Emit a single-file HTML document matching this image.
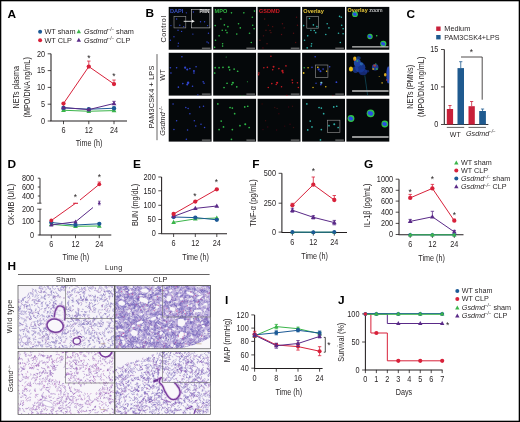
<!DOCTYPE html>
<html><head><meta charset="utf-8"><title>Figure</title>
<style>
html,body{margin:0;padding:0;background:#fff;}
body{width:520px;height:422px;overflow:hidden;}
svg{display:block;font-family:"Liberation Sans",sans-serif;}
</style></head><body>
<svg width="520" height="422" viewBox="0 0 520 422">
<defs>
<filter id="b1" x="-5%" y="-5%" width="110%" height="110%"><feGaussianBlur stdDeviation="0.35"/></filter>
<filter id="b2" x="-5%" y="-5%" width="110%" height="110%"><feGaussianBlur stdDeviation="0.45"/></filter>
<filter id="b4" x="-5%" y="-5%" width="110%" height="110%"><feGaussianBlur stdDeviation="0.7"/></filter>
<filter id="b3" x="-2%" y="-2%" width="104%" height="104%"><feGaussianBlur stdDeviation="0.3"/></filter>
</defs>
<g opacity="0.999">
<rect x="0.65" y="0.65" width="518.7" height="420.7" fill="#fff" stroke="#000" stroke-width="1.3"/>
<text transform="translate(7.50,17.50) scale(1.13,1)" font-size="10.5" text-anchor="start" font-weight="bold" font-style="normal" fill="#000" >A</text>
<text transform="translate(145.50,17.40) scale(1.13,1)" font-size="10.5" text-anchor="start" font-weight="bold" font-style="normal" fill="#000" >B</text>
<text transform="translate(406.50,17.50) scale(1.13,1)" font-size="10.5" text-anchor="start" font-weight="bold" font-style="normal" fill="#000" >C</text>
<text transform="translate(7.50,167.60) scale(1.13,1)" font-size="10.5" text-anchor="start" font-weight="bold" font-style="normal" fill="#000" >D</text>
<text transform="translate(133.00,167.60) scale(1.13,1)" font-size="10.5" text-anchor="start" font-weight="bold" font-style="normal" fill="#000" >E</text>
<text transform="translate(252.30,167.60) scale(1.13,1)" font-size="10.5" text-anchor="start" font-weight="bold" font-style="normal" fill="#000" >F</text>
<text transform="translate(364.00,167.80) scale(1.13,1)" font-size="10.5" text-anchor="start" font-weight="bold" font-style="normal" fill="#000" >G</text>
<text transform="translate(7.50,269.60) scale(1.13,1)" font-size="10.5" text-anchor="start" font-weight="bold" font-style="normal" fill="#000" >H</text>
<text transform="translate(225.00,303.60) scale(1.13,1)" font-size="10.5" text-anchor="start" font-weight="bold" font-style="normal" fill="#000" >I</text>
<text transform="translate(338.00,303.60) scale(1.13,1)" font-size="10.5" text-anchor="start" font-weight="bold" font-style="normal" fill="#000" >J</text>
<circle cx="40.10" cy="31.70" r="2.0" fill="#1c5a96"/>
<text transform="translate(44.40,34.20)" font-size="7.3" text-anchor="start" font-weight="normal" font-style="normal" fill="#231f20" >WT sham</text>
<polygon points="78.80,29.19 76.59,33.18 81.00,33.18" fill="#3bb54a"/>
<text transform="translate(84.00,34.00)" font-size="7.3" text-anchor="start" font-weight="normal" font-style="normal" fill="#231f20" ><tspan font-style="italic">Gsdmd</tspan><tspan font-style="italic" font-size="4.53" dy="-2.63">−/−</tspan><tspan dy="2.63"> sham</tspan></text>
<circle cx="40.10" cy="40.30" r="2.0" fill="#d8213a"/>
<text transform="translate(44.40,42.80)" font-size="7.3" text-anchor="start" font-weight="normal" font-style="normal" fill="#231f20" >WT CLP</text>
<polygon points="78.80,37.79 76.59,41.78 81.00,41.78" fill="#5a2a88"/>
<text transform="translate(84.00,42.60)" font-size="7.3" text-anchor="start" font-weight="normal" font-style="normal" fill="#231f20" ><tspan font-style="italic">Gsdmd</tspan><tspan font-style="italic" font-size="4.53" dy="-2.63">−/−</tspan><tspan dy="2.63"> CLP</tspan></text>
<line x1="51.00" y1="53.80" x2="51.00" y2="121.00" stroke="#231f20" stroke-width="1.05" />
<line x1="47.70" y1="53.80" x2="51.00" y2="53.80" stroke="#231f20" stroke-width="0.8" />
<text transform="translate(45.10,56.60) scale(0.87,1)" font-size="8.4" text-anchor="end" font-weight="normal" font-style="normal" fill="#231f20" >20</text>
<line x1="47.70" y1="70.60" x2="51.00" y2="70.60" stroke="#231f20" stroke-width="0.8" />
<text transform="translate(45.10,73.40) scale(0.87,1)" font-size="8.4" text-anchor="end" font-weight="normal" font-style="normal" fill="#231f20" >15</text>
<line x1="47.70" y1="87.40" x2="51.00" y2="87.40" stroke="#231f20" stroke-width="0.8" />
<text transform="translate(45.10,90.20) scale(0.87,1)" font-size="8.4" text-anchor="end" font-weight="normal" font-style="normal" fill="#231f20" >10</text>
<line x1="47.70" y1="104.20" x2="51.00" y2="104.20" stroke="#231f20" stroke-width="0.8" />
<text transform="translate(45.10,107.00) scale(0.87,1)" font-size="8.4" text-anchor="end" font-weight="normal" font-style="normal" fill="#231f20" >5</text>
<line x1="47.70" y1="121.00" x2="51.00" y2="121.00" stroke="#231f20" stroke-width="0.8" />
<text transform="translate(45.10,123.80) scale(0.87,1)" font-size="8.4" text-anchor="end" font-weight="normal" font-style="normal" fill="#231f20" >0</text>
<line x1="50.50" y1="121.00" x2="127.00" y2="121.00" stroke="#231f20" stroke-width="1.05" />
<line x1="63.50" y1="121.00" x2="63.50" y2="124.20" stroke="#231f20" stroke-width="0.8" />
<text transform="translate(63.50,133.00) scale(0.87,1)" font-size="8.4" text-anchor="middle" font-weight="normal" font-style="normal" fill="#231f20" >6</text>
<line x1="88.80" y1="121.00" x2="88.80" y2="124.20" stroke="#231f20" stroke-width="0.8" />
<text transform="translate(88.80,133.00) scale(0.87,1)" font-size="8.4" text-anchor="middle" font-weight="normal" font-style="normal" fill="#231f20" >12</text>
<line x1="114.00" y1="121.00" x2="114.00" y2="124.20" stroke="#231f20" stroke-width="0.8" />
<text transform="translate(114.00,133.00) scale(0.87,1)" font-size="8.4" text-anchor="middle" font-weight="normal" font-style="normal" fill="#231f20" >24</text>
<text transform="translate(89.00,146.40) scale(0.86,1)" font-size="8.4" text-anchor="middle" font-weight="normal" font-style="normal" fill="#231f20" >Time (h)</text>
<text transform="translate(18.60,87.30) rotate(-90) scale(0.86,1)" font-size="8.4" text-anchor="middle" font-weight="normal" font-style="normal" fill="#231f20" >NETs plasma</text>
<text transform="translate(29.90,87.30) rotate(-90) scale(0.86,1)" font-size="8.4" text-anchor="middle" font-weight="normal" font-style="normal" fill="#231f20" >(MPO/DNA ng/mL)</text>
<polyline points="63.50,110.25 88.80,111.26 114.00,110.58" fill="none" stroke="#3bb54a" stroke-width="1.0" stroke-linejoin="round"/>
<line x1="63.50" y1="110.25" x2="63.50" y2="109.45" stroke="#3bb54a" stroke-width="0.8" />
<line x1="61.80" y1="109.45" x2="65.20" y2="109.45" stroke="#3bb54a" stroke-width="0.8" />
<line x1="63.50" y1="110.25" x2="63.50" y2="111.05" stroke="#3bb54a" stroke-width="0.8" />
<line x1="61.80" y1="111.05" x2="65.20" y2="111.05" stroke="#3bb54a" stroke-width="0.8" />
<polygon points="63.50,107.65 61.13,111.94 65.87,111.94" fill="#3bb54a"/>
<line x1="88.80" y1="111.26" x2="88.80" y2="110.46" stroke="#3bb54a" stroke-width="0.8" />
<line x1="87.10" y1="110.46" x2="90.50" y2="110.46" stroke="#3bb54a" stroke-width="0.8" />
<line x1="88.80" y1="111.26" x2="88.80" y2="112.06" stroke="#3bb54a" stroke-width="0.8" />
<line x1="87.10" y1="112.06" x2="90.50" y2="112.06" stroke="#3bb54a" stroke-width="0.8" />
<polygon points="88.80,108.66 86.43,112.95 91.17,112.95" fill="#3bb54a"/>
<line x1="114.00" y1="110.58" x2="114.00" y2="109.78" stroke="#3bb54a" stroke-width="0.8" />
<line x1="112.30" y1="109.78" x2="115.70" y2="109.78" stroke="#3bb54a" stroke-width="0.8" />
<line x1="114.00" y1="110.58" x2="114.00" y2="111.38" stroke="#3bb54a" stroke-width="0.8" />
<line x1="112.30" y1="111.38" x2="115.70" y2="111.38" stroke="#3bb54a" stroke-width="0.8" />
<polygon points="114.00,107.99 111.63,112.28 116.37,112.28" fill="#3bb54a"/>
<polyline points="63.50,107.90 88.80,109.24 114.00,108.23" fill="none" stroke="#1c5a96" stroke-width="1.0" stroke-linejoin="round"/>
<line x1="63.50" y1="107.90" x2="63.50" y2="106.90" stroke="#1c5a96" stroke-width="0.8" />
<line x1="61.80" y1="106.90" x2="65.20" y2="106.90" stroke="#1c5a96" stroke-width="0.8" />
<line x1="63.50" y1="107.90" x2="63.50" y2="108.90" stroke="#1c5a96" stroke-width="0.8" />
<line x1="61.80" y1="108.90" x2="65.20" y2="108.90" stroke="#1c5a96" stroke-width="0.8" />
<circle cx="63.50" cy="107.90" r="2.15" fill="#1c5a96"/>
<line x1="88.80" y1="109.24" x2="88.80" y2="108.44" stroke="#1c5a96" stroke-width="0.8" />
<line x1="87.10" y1="108.44" x2="90.50" y2="108.44" stroke="#1c5a96" stroke-width="0.8" />
<line x1="88.80" y1="109.24" x2="88.80" y2="110.04" stroke="#1c5a96" stroke-width="0.8" />
<line x1="87.10" y1="110.04" x2="90.50" y2="110.04" stroke="#1c5a96" stroke-width="0.8" />
<circle cx="88.80" cy="109.24" r="2.15" fill="#1c5a96"/>
<line x1="114.00" y1="108.23" x2="114.00" y2="107.23" stroke="#1c5a96" stroke-width="0.8" />
<line x1="112.30" y1="107.23" x2="115.70" y2="107.23" stroke="#1c5a96" stroke-width="0.8" />
<line x1="114.00" y1="108.23" x2="114.00" y2="109.23" stroke="#1c5a96" stroke-width="0.8" />
<line x1="112.30" y1="109.23" x2="115.70" y2="109.23" stroke="#1c5a96" stroke-width="0.8" />
<circle cx="114.00" cy="108.23" r="2.15" fill="#1c5a96"/>
<polyline points="63.50,107.56 88.80,109.58 114.00,103.53" fill="none" stroke="#5a2a88" stroke-width="1.0" stroke-linejoin="round"/>
<polygon points="63.50,104.96 61.13,109.25 65.87,109.25" fill="#5a2a88"/>
<polygon points="88.80,106.98 86.43,111.27 91.17,111.27" fill="#5a2a88"/>
<line x1="114.00" y1="103.53" x2="114.00" y2="101.33" stroke="#5a2a88" stroke-width="0.8" />
<line x1="112.30" y1="101.33" x2="115.70" y2="101.33" stroke="#5a2a88" stroke-width="0.8" />
<polygon points="114.00,100.93 111.63,105.22 116.37,105.22" fill="#5a2a88"/>
<polyline points="63.50,103.53 88.80,66.57 114.00,84.04" fill="none" stroke="#d8213a" stroke-width="1.0" stroke-linejoin="round"/>
<circle cx="63.50" cy="103.53" r="2.15" fill="#d8213a"/>
<line x1="88.80" y1="66.57" x2="88.80" y2="61.07" stroke="#d8213a" stroke-width="0.8" />
<line x1="87.10" y1="61.07" x2="90.50" y2="61.07" stroke="#d8213a" stroke-width="0.8" />
<circle cx="88.80" cy="66.57" r="2.15" fill="#d8213a"/>
<line x1="114.00" y1="84.04" x2="114.00" y2="80.04" stroke="#d8213a" stroke-width="0.8" />
<line x1="112.30" y1="80.04" x2="115.70" y2="80.04" stroke="#d8213a" stroke-width="0.8" />
<circle cx="114.00" cy="84.04" r="2.15" fill="#d8213a"/>
<text transform="translate(88.80,61.00)" font-size="8.5" text-anchor="middle" font-weight="normal" font-style="normal" fill="#231f20" >*</text>
<text transform="translate(114.00,79.00)" font-size="8.5" text-anchor="middle" font-weight="normal" font-style="normal" fill="#231f20" >*</text>
<rect x="436.2" y="26.5" width="4.4" height="4.4" fill="#c8203a"/>
<rect x="436.2" y="35.0" width="4.4" height="4.4" fill="#1f5a8f"/>
<text transform="translate(444.30,31.00)" font-size="7.3" text-anchor="start" font-weight="normal" font-style="normal" fill="#231f20" >Medium</text>
<text transform="translate(444.30,39.60)" font-size="7.15" text-anchor="start" font-weight="normal" font-style="normal" fill="#231f20" >PAM3CSK4+LPS</text>
<line x1="444.30" y1="49.50" x2="444.30" y2="124.50" stroke="#231f20" stroke-width="1.05" />
<line x1="441.00" y1="49.50" x2="444.30" y2="49.50" stroke="#231f20" stroke-width="0.8" />
<text transform="translate(438.40,52.30) scale(0.87,1)" font-size="8.4" text-anchor="end" font-weight="normal" font-style="normal" fill="#231f20" >15</text>
<line x1="441.00" y1="86.90" x2="444.30" y2="86.90" stroke="#231f20" stroke-width="0.8" />
<text transform="translate(438.40,89.70) scale(0.87,1)" font-size="8.4" text-anchor="end" font-weight="normal" font-style="normal" fill="#231f20" >10</text>
<line x1="441.00" y1="124.50" x2="444.30" y2="124.50" stroke="#231f20" stroke-width="0.8" />
<text transform="translate(438.40,127.30) scale(0.87,1)" font-size="8.4" text-anchor="end" font-weight="normal" font-style="normal" fill="#231f20" >0</text>
<line x1="444.30" y1="124.50" x2="488.40" y2="124.50" stroke="#231f20" stroke-width="0.9" />
<rect x="446.8" y="109" width="6.30" height="15.50" fill="#c8203a"/>
<line x1="449.95" y1="109.00" x2="449.95" y2="105.50" stroke="#c8203a" stroke-width="0.8" />
<line x1="448.35" y1="105.50" x2="451.55" y2="105.50" stroke="#c8203a" stroke-width="0.8" />
<rect x="457.5" y="68.1" width="6.50" height="56.40" fill="#1f5a8f"/>
<line x1="460.75" y1="68.10" x2="460.75" y2="61.70" stroke="#1f5a8f" stroke-width="0.8" />
<line x1="459.15" y1="61.70" x2="462.35" y2="61.70" stroke="#1f5a8f" stroke-width="0.8" />
<rect x="468.5" y="106.2" width="6.30" height="18.30" fill="#c8203a"/>
<line x1="471.65" y1="106.20" x2="471.65" y2="101.50" stroke="#c8203a" stroke-width="0.8" />
<line x1="470.05" y1="101.50" x2="473.25" y2="101.50" stroke="#c8203a" stroke-width="0.8" />
<rect x="479.2" y="111" width="6.70" height="13.50" fill="#1f5a8f"/>
<line x1="482.55" y1="111.00" x2="482.55" y2="109.00" stroke="#1f5a8f" stroke-width="0.8" />
<line x1="480.95" y1="109.00" x2="484.15" y2="109.00" stroke="#1f5a8f" stroke-width="0.8" />
<polyline points="461.00,57.00 482.20,57.00 482.20,99.70" fill="none" stroke="#231f20" stroke-width="0.8" stroke-linejoin="round"/>
<text transform="translate(471.40,54.50)" font-size="8.5" text-anchor="middle" font-weight="normal" font-style="normal" fill="#231f20" >*</text>
<line x1="446.80" y1="127.40" x2="464.20" y2="127.40" stroke="#231f20" stroke-width="0.7" />
<line x1="468.50" y1="127.40" x2="485.90" y2="127.40" stroke="#231f20" stroke-width="0.7" />
<text transform="translate(455.30,136.60)" font-size="7" text-anchor="middle" font-weight="normal" font-style="normal" fill="#231f20" >WT</text>
<text transform="translate(466.00,135.80)" font-size="7.2" text-anchor="start" font-weight="normal" font-style="normal" fill="#231f20" ><tspan font-style="italic">Gsdmd</tspan><tspan font-style="italic" font-size="4.46" dy="-2.59">−/−</tspan><tspan dy="2.59"></tspan></text>
<text transform="translate(413.10,86.80) rotate(-90) scale(0.86,1)" font-size="8.4" text-anchor="middle" font-weight="normal" font-style="normal" fill="#231f20" >NETs (PMNs)</text>
<text transform="translate(423.80,86.80) rotate(-90) scale(0.86,1)" font-size="8.4" text-anchor="middle" font-weight="normal" font-style="normal" fill="#231f20" >(MPO/DNA ng/mL)</text>
<line x1="40.00" y1="178.20" x2="40.00" y2="203.20" stroke="#231f20" stroke-width="0.9" />
<line x1="40.00" y1="209.20" x2="40.00" y2="235.00" stroke="#231f20" stroke-width="0.9" />
<line x1="37.20" y1="203.20" x2="41.50" y2="203.20" stroke="#231f20" stroke-width="0.8" />
<line x1="37.20" y1="209.20" x2="41.50" y2="209.20" stroke="#231f20" stroke-width="0.8" />
<line x1="37.80" y1="178.20" x2="40.00" y2="178.20" stroke="#231f20" stroke-width="0.8" />
<text transform="translate(34.10,181.00) scale(0.87,1)" font-size="8.4" text-anchor="end" font-weight="normal" font-style="normal" fill="#231f20" >800</text>
<line x1="37.80" y1="187.00" x2="40.00" y2="187.00" stroke="#231f20" stroke-width="0.8" />
<text transform="translate(34.10,189.80) scale(0.87,1)" font-size="8.4" text-anchor="end" font-weight="normal" font-style="normal" fill="#231f20" >600</text>
<line x1="37.80" y1="196.00" x2="40.00" y2="196.00" stroke="#231f20" stroke-width="0.8" />
<text transform="translate(34.10,198.80) scale(0.87,1)" font-size="8.4" text-anchor="end" font-weight="normal" font-style="normal" fill="#231f20" >400</text>
<text transform="translate(34.10,211.50) scale(0.87,1)" font-size="8.4" text-anchor="end" font-weight="normal" font-style="normal" fill="#231f20" >200</text>
<line x1="37.80" y1="221.30" x2="40.00" y2="221.30" stroke="#231f20" stroke-width="0.8" />
<text transform="translate(34.10,224.10) scale(0.87,1)" font-size="8.4" text-anchor="end" font-weight="normal" font-style="normal" fill="#231f20" >100</text>
<line x1="37.80" y1="235.00" x2="40.00" y2="235.00" stroke="#231f20" stroke-width="0.8" />
<text transform="translate(34.10,237.80) scale(0.87,1)" font-size="8.4" text-anchor="end" font-weight="normal" font-style="normal" fill="#231f20" >0</text>
<line x1="39.50" y1="235.00" x2="111.30" y2="235.00" stroke="#231f20" stroke-width="1.05" />
<line x1="51.30" y1="235.00" x2="51.30" y2="238.20" stroke="#231f20" stroke-width="0.8" />
<text transform="translate(51.30,247.20) scale(0.87,1)" font-size="8.4" text-anchor="middle" font-weight="normal" font-style="normal" fill="#231f20" >6</text>
<line x1="75.50" y1="235.00" x2="75.50" y2="238.20" stroke="#231f20" stroke-width="0.8" />
<text transform="translate(75.50,247.20) scale(0.87,1)" font-size="8.4" text-anchor="middle" font-weight="normal" font-style="normal" fill="#231f20" >12</text>
<line x1="99.30" y1="235.00" x2="99.30" y2="238.20" stroke="#231f20" stroke-width="0.8" />
<text transform="translate(99.30,247.20) scale(0.87,1)" font-size="8.4" text-anchor="middle" font-weight="normal" font-style="normal" fill="#231f20" >24</text>
<text transform="translate(75.80,260.20) scale(0.86,1)" font-size="8.4" text-anchor="middle" font-weight="normal" font-style="normal" fill="#231f20" >Time (h)</text>
<text transform="translate(14.30,204.40) rotate(-90) scale(0.86,1)" font-size="8.4" text-anchor="middle" font-weight="normal" font-style="normal" fill="#231f20" >CK-MB (U/L)</text>
<polyline points="51.30,224.30 75.50,226.30 99.30,226.00" fill="none" stroke="#3bb54a" stroke-width="1.0" stroke-linejoin="round"/>
<polygon points="51.30,221.70 48.93,225.99 53.67,225.99" fill="#3bb54a"/>
<polygon points="75.50,223.70 73.13,227.99 77.87,227.99" fill="#3bb54a"/>
<polygon points="99.30,223.40 96.93,227.69 101.67,227.69" fill="#3bb54a"/>
<polyline points="51.30,222.50 75.50,225.00 99.30,223.80" fill="none" stroke="#1c5a96" stroke-width="1.0" stroke-linejoin="round"/>
<circle cx="51.30" cy="222.50" r="2.15" fill="#1c5a96"/>
<circle cx="75.50" cy="225.00" r="2.15" fill="#1c5a96"/>
<circle cx="99.30" cy="223.80" r="2.15" fill="#1c5a96"/>
<polyline points="51.30,225.00 75.50,221.80 93.00,207.50" fill="none" stroke="#5a2a88" stroke-width="1.0" stroke-linejoin="round"/>
<polygon points="51.30,222.70 49.20,226.50 53.40,226.50" fill="#5a2a88"/>
<polygon points="75.50,219.50 73.40,223.30 77.60,223.30" fill="#5a2a88"/>
<line x1="99.30" y1="201.20" x2="99.30" y2="204.80" stroke="#5a2a88" stroke-width="0.7" />
<line x1="98.00" y1="201.20" x2="100.60" y2="201.20" stroke="#5a2a88" stroke-width="0.7" />
<line x1="98.00" y1="204.80" x2="100.60" y2="204.80" stroke="#5a2a88" stroke-width="0.7" />
<polygon points="99.30,201.28 97.72,204.12 100.88,204.12" fill="#5a2a88"/>
<polyline points="51.30,220.50 75.50,203.30" fill="none" stroke="#d8213a" stroke-width="1.0" stroke-linejoin="round"/>
<line x1="73.20" y1="203.30" x2="78.00" y2="203.30" stroke="#d8213a" stroke-width="1.1" />
<polyline points="80.00,200.00 99.30,184.30" fill="none" stroke="#d8213a" stroke-width="1.0" stroke-linejoin="round"/>
<circle cx="51.30" cy="220.50" r="1.9" fill="#d8213a"/>
<line x1="99.30" y1="184.30" x2="99.30" y2="182.00" stroke="#d8213a" stroke-width="0.8" />
<line x1="97.60" y1="182.00" x2="101.00" y2="182.00" stroke="#d8213a" stroke-width="0.8" />
<circle cx="99.30" cy="184.30" r="1.9" fill="#d8213a"/>
<text transform="translate(75.50,199.70)" font-size="8.5" text-anchor="middle" font-weight="normal" font-style="normal" fill="#231f20" >*</text>
<text transform="translate(99.30,179.50)" font-size="8.5" text-anchor="middle" font-weight="normal" font-style="normal" fill="#231f20" >*</text>
<line x1="161.60" y1="177.00" x2="161.60" y2="233.60" stroke="#231f20" stroke-width="1.05" />
<line x1="158.30" y1="177.00" x2="161.60" y2="177.00" stroke="#231f20" stroke-width="0.8" />
<text transform="translate(155.70,179.80) scale(0.87,1)" font-size="8.4" text-anchor="end" font-weight="normal" font-style="normal" fill="#231f20" >200</text>
<line x1="158.30" y1="190.80" x2="161.60" y2="190.80" stroke="#231f20" stroke-width="0.8" />
<text transform="translate(155.70,193.60) scale(0.87,1)" font-size="8.4" text-anchor="end" font-weight="normal" font-style="normal" fill="#231f20" >150</text>
<line x1="158.30" y1="205.30" x2="161.60" y2="205.30" stroke="#231f20" stroke-width="0.8" />
<text transform="translate(155.70,208.10) scale(0.87,1)" font-size="8.4" text-anchor="end" font-weight="normal" font-style="normal" fill="#231f20" >100</text>
<line x1="158.30" y1="219.50" x2="161.60" y2="219.50" stroke="#231f20" stroke-width="0.8" />
<text transform="translate(155.70,222.30) scale(0.87,1)" font-size="8.4" text-anchor="end" font-weight="normal" font-style="normal" fill="#231f20" >50</text>
<line x1="158.30" y1="233.60" x2="161.60" y2="233.60" stroke="#231f20" stroke-width="0.8" />
<text transform="translate(155.70,236.40) scale(0.87,1)" font-size="8.4" text-anchor="end" font-weight="normal" font-style="normal" fill="#231f20" >0</text>
<line x1="161.10" y1="233.80" x2="227.00" y2="233.80" stroke="#231f20" stroke-width="1.05" />
<line x1="173.60" y1="233.80" x2="173.60" y2="237.00" stroke="#231f20" stroke-width="0.8" />
<text transform="translate(173.60,246.10) scale(0.87,1)" font-size="8.4" text-anchor="middle" font-weight="normal" font-style="normal" fill="#231f20" >6</text>
<line x1="195.30" y1="233.80" x2="195.30" y2="237.00" stroke="#231f20" stroke-width="0.8" />
<text transform="translate(195.30,246.10) scale(0.87,1)" font-size="8.4" text-anchor="middle" font-weight="normal" font-style="normal" fill="#231f20" >12</text>
<line x1="216.80" y1="233.80" x2="216.80" y2="237.00" stroke="#231f20" stroke-width="0.8" />
<text transform="translate(216.80,246.10) scale(0.87,1)" font-size="8.4" text-anchor="middle" font-weight="normal" font-style="normal" fill="#231f20" >24</text>
<text transform="translate(195.60,260.20) scale(0.86,1)" font-size="8.4" text-anchor="middle" font-weight="normal" font-style="normal" fill="#231f20" >Time (h)</text>
<text transform="translate(137.60,205.00) rotate(-90) scale(0.86,1)" font-size="8.4" text-anchor="middle" font-weight="normal" font-style="normal" fill="#231f20" >BUN (mg/dL)</text>
<polyline points="173.60,222.30 195.30,218.90 216.80,218.00" fill="none" stroke="#3bb54a" stroke-width="1.0" stroke-linejoin="round"/>
<polygon points="173.60,219.70 171.23,223.99 175.97,223.99" fill="#3bb54a"/>
<polygon points="195.30,216.30 192.93,220.59 197.67,220.59" fill="#3bb54a"/>
<polygon points="216.80,215.40 214.43,219.69 219.17,219.69" fill="#3bb54a"/>
<polyline points="173.60,217.00 195.30,217.60 216.80,219.80" fill="none" stroke="#1c5a96" stroke-width="1.0" stroke-linejoin="round"/>
<circle cx="173.60" cy="217.00" r="2.15" fill="#1c5a96"/>
<circle cx="195.30" cy="217.60" r="2.15" fill="#1c5a96"/>
<circle cx="216.80" cy="219.80" r="2.15" fill="#1c5a96"/>
<polyline points="173.60,216.40 195.30,208.40 216.80,206.00" fill="none" stroke="#5a2a88" stroke-width="1.0" stroke-linejoin="round"/>
<polygon points="173.60,213.80 171.23,218.09 175.97,218.09" fill="#5a2a88"/>
<polygon points="195.30,205.80 192.93,210.09 197.67,210.09" fill="#5a2a88"/>
<polygon points="216.80,203.40 214.43,207.69 219.17,207.69" fill="#5a2a88"/>
<polyline points="173.60,214.00 195.30,201.60 216.80,189.30" fill="none" stroke="#d8213a" stroke-width="1.0" stroke-linejoin="round"/>
<circle cx="173.60" cy="214.00" r="2.15" fill="#d8213a"/>
<circle cx="195.30" cy="201.60" r="2.15" fill="#d8213a"/>
<circle cx="216.80" cy="189.30" r="2.15" fill="#d8213a"/>
<text transform="translate(194.90,199.00)" font-size="8.5" text-anchor="middle" font-weight="normal" font-style="normal" fill="#231f20" >*</text>
<text transform="translate(216.40,184.50)" font-size="8.5" text-anchor="middle" font-weight="normal" font-style="normal" fill="#231f20" >*</text>
<line x1="281.90" y1="173.30" x2="281.90" y2="232.10" stroke="#231f20" stroke-width="1.05" />
<line x1="278.60" y1="173.30" x2="281.90" y2="173.30" stroke="#231f20" stroke-width="0.8" />
<text transform="translate(276.00,176.10) scale(0.87,1)" font-size="8.4" text-anchor="end" font-weight="normal" font-style="normal" fill="#231f20" >500</text>
<line x1="278.60" y1="203.20" x2="281.90" y2="203.20" stroke="#231f20" stroke-width="0.8" />
<text transform="translate(276.00,206.00) scale(0.87,1)" font-size="8.4" text-anchor="end" font-weight="normal" font-style="normal" fill="#231f20" >250</text>
<line x1="278.60" y1="232.10" x2="281.90" y2="232.10" stroke="#231f20" stroke-width="0.8" />
<text transform="translate(276.00,234.90) scale(0.87,1)" font-size="8.4" text-anchor="end" font-weight="normal" font-style="normal" fill="#231f20" >0</text>
<line x1="281.40" y1="232.40" x2="347.00" y2="232.40" stroke="#231f20" stroke-width="1.05" />
<line x1="292.40" y1="232.40" x2="292.40" y2="235.60" stroke="#231f20" stroke-width="0.8" />
<text transform="translate(292.40,244.50) scale(0.87,1)" font-size="8.4" text-anchor="middle" font-weight="normal" font-style="normal" fill="#231f20" >6</text>
<line x1="313.30" y1="232.40" x2="313.30" y2="235.60" stroke="#231f20" stroke-width="0.8" />
<text transform="translate(313.30,244.50) scale(0.87,1)" font-size="8.4" text-anchor="middle" font-weight="normal" font-style="normal" fill="#231f20" >12</text>
<line x1="334.30" y1="232.40" x2="334.30" y2="235.60" stroke="#231f20" stroke-width="0.8" />
<text transform="translate(334.30,244.50) scale(0.87,1)" font-size="8.4" text-anchor="middle" font-weight="normal" font-style="normal" fill="#231f20" >24</text>
<text transform="translate(314.60,258.70) scale(0.86,1)" font-size="8.4" text-anchor="middle" font-weight="normal" font-style="normal" fill="#231f20" >Time (h)</text>
<text transform="translate(256.20,203.00) rotate(-90) scale(0.86,1)" font-size="8.4" text-anchor="middle" font-weight="normal" font-style="normal" fill="#231f20" >TNF-α (pg/mL)</text>
<polyline points="292.40,232.20 313.30,232.20 334.30,232.20" fill="none" stroke="#3bb54a" stroke-width="1.0" stroke-linejoin="round"/>
<polygon points="292.40,229.91 290.31,233.70 294.49,233.70" fill="#3bb54a"/>
<polygon points="313.30,229.91 311.21,233.70 315.39,233.70" fill="#3bb54a"/>
<polygon points="334.30,229.91 332.21,233.70 336.39,233.70" fill="#3bb54a"/>
<polyline points="292.40,232.10 313.30,232.20 334.30,232.10" fill="none" stroke="#1c5a96" stroke-width="1.0" stroke-linejoin="round"/>
<circle cx="292.40" cy="232.10" r="2.0" fill="#1c5a96"/>
<circle cx="313.30" cy="232.20" r="2.0" fill="#1c5a96"/>
<circle cx="334.30" cy="232.10" r="2.0" fill="#1c5a96"/>
<polyline points="292.40,210.20 313.30,217.30 334.30,222.60" fill="none" stroke="#5a2a88" stroke-width="1.0" stroke-linejoin="round"/>
<line x1="292.40" y1="210.20" x2="292.40" y2="208.20" stroke="#5a2a88" stroke-width="0.8" />
<line x1="290.70" y1="208.20" x2="294.10" y2="208.20" stroke="#5a2a88" stroke-width="0.8" />
<line x1="292.40" y1="210.20" x2="292.40" y2="212.20" stroke="#5a2a88" stroke-width="0.8" />
<line x1="290.70" y1="212.20" x2="294.10" y2="212.20" stroke="#5a2a88" stroke-width="0.8" />
<polygon points="292.40,207.60 290.03,211.89 294.77,211.89" fill="#5a2a88"/>
<line x1="313.30" y1="217.30" x2="313.30" y2="215.70" stroke="#5a2a88" stroke-width="0.8" />
<line x1="311.60" y1="215.70" x2="315.00" y2="215.70" stroke="#5a2a88" stroke-width="0.8" />
<line x1="313.30" y1="217.30" x2="313.30" y2="218.90" stroke="#5a2a88" stroke-width="0.8" />
<line x1="311.60" y1="218.90" x2="315.00" y2="218.90" stroke="#5a2a88" stroke-width="0.8" />
<polygon points="313.30,214.70 310.93,218.99 315.67,218.99" fill="#5a2a88"/>
<line x1="334.30" y1="222.60" x2="334.30" y2="220.40" stroke="#5a2a88" stroke-width="0.8" />
<line x1="332.60" y1="220.40" x2="336.00" y2="220.40" stroke="#5a2a88" stroke-width="0.8" />
<line x1="334.30" y1="222.60" x2="334.30" y2="224.80" stroke="#5a2a88" stroke-width="0.8" />
<line x1="332.60" y1="224.80" x2="336.00" y2="224.80" stroke="#5a2a88" stroke-width="0.8" />
<polygon points="334.30,220.00 331.93,224.29 336.67,224.29" fill="#5a2a88"/>
<polyline points="292.40,205.30 313.30,184.70 334.30,200.00" fill="none" stroke="#d8213a" stroke-width="1.0" stroke-linejoin="round"/>
<line x1="292.40" y1="205.30" x2="292.40" y2="203.30" stroke="#d8213a" stroke-width="0.8" />
<line x1="290.70" y1="203.30" x2="294.10" y2="203.30" stroke="#d8213a" stroke-width="0.8" />
<circle cx="292.40" cy="205.30" r="2.15" fill="#d8213a"/>
<line x1="313.30" y1="184.70" x2="313.30" y2="177.00" stroke="#d8213a" stroke-width="0.8" />
<line x1="311.60" y1="177.00" x2="315.00" y2="177.00" stroke="#d8213a" stroke-width="0.8" />
<circle cx="313.30" cy="184.70" r="2.15" fill="#d8213a"/>
<line x1="334.30" y1="200.00" x2="334.30" y2="195.50" stroke="#d8213a" stroke-width="0.8" />
<line x1="332.60" y1="195.50" x2="336.00" y2="195.50" stroke="#d8213a" stroke-width="0.8" />
<circle cx="334.30" cy="200.00" r="2.15" fill="#d8213a"/>
<text transform="translate(313.30,174.00)" font-size="8.5" text-anchor="middle" font-weight="normal" font-style="normal" fill="#231f20" >*</text>
<line x1="399.00" y1="179.20" x2="399.00" y2="234.50" stroke="#231f20" stroke-width="1.05" />
<line x1="395.70" y1="179.20" x2="399.00" y2="179.20" stroke="#231f20" stroke-width="0.8" />
<text transform="translate(393.10,182.00) scale(0.87,1)" font-size="8.4" text-anchor="end" font-weight="normal" font-style="normal" fill="#231f20" >1000</text>
<line x1="395.70" y1="190.30" x2="399.00" y2="190.30" stroke="#231f20" stroke-width="0.8" />
<text transform="translate(393.10,193.10) scale(0.87,1)" font-size="8.4" text-anchor="end" font-weight="normal" font-style="normal" fill="#231f20" >800</text>
<line x1="395.70" y1="201.10" x2="399.00" y2="201.10" stroke="#231f20" stroke-width="0.8" />
<text transform="translate(393.10,203.90) scale(0.87,1)" font-size="8.4" text-anchor="end" font-weight="normal" font-style="normal" fill="#231f20" >600</text>
<line x1="395.70" y1="212.20" x2="399.00" y2="212.20" stroke="#231f20" stroke-width="0.8" />
<text transform="translate(393.10,215.00) scale(0.87,1)" font-size="8.4" text-anchor="end" font-weight="normal" font-style="normal" fill="#231f20" >400</text>
<line x1="395.70" y1="223.40" x2="399.00" y2="223.40" stroke="#231f20" stroke-width="0.8" />
<text transform="translate(393.10,226.20) scale(0.87,1)" font-size="8.4" text-anchor="end" font-weight="normal" font-style="normal" fill="#231f20" >200</text>
<line x1="395.70" y1="234.50" x2="399.00" y2="234.50" stroke="#231f20" stroke-width="0.8" />
<text transform="translate(393.10,237.30) scale(0.87,1)" font-size="8.4" text-anchor="end" font-weight="normal" font-style="normal" fill="#231f20" >0</text>
<line x1="398.50" y1="234.70" x2="463.50" y2="234.70" stroke="#231f20" stroke-width="1.05" />
<line x1="410.20" y1="234.70" x2="410.20" y2="237.90" stroke="#231f20" stroke-width="0.8" />
<text transform="translate(410.20,246.50) scale(0.87,1)" font-size="8.4" text-anchor="middle" font-weight="normal" font-style="normal" fill="#231f20" >6</text>
<line x1="432.40" y1="234.70" x2="432.40" y2="237.90" stroke="#231f20" stroke-width="0.8" />
<text transform="translate(432.40,246.50) scale(0.87,1)" font-size="8.4" text-anchor="middle" font-weight="normal" font-style="normal" fill="#231f20" >12</text>
<line x1="454.30" y1="234.70" x2="454.30" y2="237.90" stroke="#231f20" stroke-width="0.8" />
<text transform="translate(454.30,246.50) scale(0.87,1)" font-size="8.4" text-anchor="middle" font-weight="normal" font-style="normal" fill="#231f20" >24</text>
<text transform="translate(431.60,260.50) scale(0.86,1)" font-size="8.4" text-anchor="middle" font-weight="normal" font-style="normal" fill="#231f20" >Time (h)</text>
<text transform="translate(370.30,205.40) rotate(-90) scale(0.86,1)" font-size="8.4" text-anchor="middle" font-weight="normal" font-style="normal" fill="#231f20" >IL-1β (pg/mL)</text>
<polyline points="410.20,221.40 432.40,216.80 454.30,231.90" fill="none" stroke="#5a2a88" stroke-width="1.0" stroke-linejoin="round"/>
<line x1="410.20" y1="221.40" x2="410.20" y2="219.40" stroke="#5a2a88" stroke-width="0.8" />
<line x1="408.50" y1="219.40" x2="411.90" y2="219.40" stroke="#5a2a88" stroke-width="0.8" />
<polygon points="410.20,218.80 407.83,223.09 412.57,223.09" fill="#5a2a88"/>
<line x1="432.40" y1="216.80" x2="432.40" y2="211.30" stroke="#5a2a88" stroke-width="0.8" />
<line x1="430.70" y1="211.30" x2="434.10" y2="211.30" stroke="#5a2a88" stroke-width="0.8" />
<polygon points="432.40,214.20 430.03,218.49 434.77,218.49" fill="#5a2a88"/>
<line x1="454.30" y1="231.90" x2="454.30" y2="230.40" stroke="#5a2a88" stroke-width="0.8" />
<line x1="452.60" y1="230.40" x2="456.00" y2="230.40" stroke="#5a2a88" stroke-width="0.8" />
<polygon points="454.30,229.30 451.93,233.59 456.67,233.59" fill="#5a2a88"/>
<polyline points="410.20,197.90 432.40,188.40 454.30,220.70" fill="none" stroke="#d8213a" stroke-width="1.0" stroke-linejoin="round"/>
<line x1="410.20" y1="197.90" x2="410.20" y2="194.40" stroke="#d8213a" stroke-width="0.8" />
<line x1="408.50" y1="194.40" x2="411.90" y2="194.40" stroke="#d8213a" stroke-width="0.8" />
<circle cx="410.20" cy="197.90" r="2.15" fill="#d8213a"/>
<line x1="432.40" y1="188.40" x2="432.40" y2="184.40" stroke="#d8213a" stroke-width="0.8" />
<line x1="430.70" y1="184.40" x2="434.10" y2="184.40" stroke="#d8213a" stroke-width="0.8" />
<circle cx="432.40" cy="188.40" r="2.15" fill="#d8213a"/>
<line x1="454.30" y1="220.70" x2="454.30" y2="219.20" stroke="#d8213a" stroke-width="0.8" />
<line x1="452.60" y1="219.20" x2="456.00" y2="219.20" stroke="#d8213a" stroke-width="0.8" />
<circle cx="454.30" cy="220.70" r="2.15" fill="#d8213a"/>
<polyline points="410.20,234.80 432.40,234.80 454.30,234.80" fill="none" stroke="#1c5a96" stroke-width="1.0" stroke-linejoin="round"/>
<circle cx="410.20" cy="234.80" r="1.9" fill="#1c5a96"/>
<circle cx="432.40" cy="234.80" r="1.9" fill="#1c5a96"/>
<circle cx="454.30" cy="234.80" r="1.9" fill="#1c5a96"/>
<polyline points="410.20,234.80 432.40,234.80 454.30,234.80" fill="none" stroke="#3bb54a" stroke-width="1.0" stroke-linejoin="round"/>
<polygon points="410.20,232.39 408.00,236.38 412.40,236.38" fill="#3bb54a"/>
<polygon points="432.40,232.39 430.19,236.38 434.60,236.38" fill="#3bb54a"/>
<polygon points="454.30,232.39 452.10,236.38 456.50,236.38" fill="#3bb54a"/>
<text transform="translate(410.20,195.00)" font-size="8.5" text-anchor="middle" font-weight="normal" font-style="normal" fill="#231f20" >*</text>
<text transform="translate(432.40,182.30)" font-size="8.5" text-anchor="middle" font-weight="normal" font-style="normal" fill="#231f20" >*</text>
<text transform="translate(454.30,218.20)" font-size="8.5" text-anchor="middle" font-weight="normal" font-style="normal" fill="#231f20" >*</text>
<polygon points="456.30,160.39 454.10,164.38 458.50,164.38" fill="#3bb54a"/>
<text transform="translate(461.00,165.00)" font-size="7.2" text-anchor="start" font-weight="normal" font-style="normal" fill="#231f20" >WT sham</text>
<circle cx="456.30" cy="170.40" r="2.0" fill="#d8213a"/>
<text transform="translate(461.00,172.80)" font-size="7.2" text-anchor="start" font-weight="normal" font-style="normal" fill="#231f20" >WT CLP</text>
<circle cx="456.30" cy="178.60" r="2.0" fill="#1c5a96"/>
<text transform="translate(461.00,181.20)" font-size="7.2" text-anchor="start" font-weight="normal" font-style="normal" fill="#231f20" ><tspan font-style="italic">Gsdmd</tspan><tspan font-style="italic" font-size="4.46" dy="-2.59">−/−</tspan><tspan dy="2.59"> sham</tspan></text>
<polygon points="456.30,184.19 454.10,188.17 458.50,188.17" fill="#5a2a88"/>
<text transform="translate(461.00,189.20)" font-size="7.2" text-anchor="start" font-weight="normal" font-style="normal" fill="#231f20" ><tspan font-style="italic">Gsdmd</tspan><tspan font-style="italic" font-size="4.46" dy="-2.59">−/−</tspan><tspan dy="2.59"> CLP</tspan></text>
<line x1="254.60" y1="314.90" x2="254.60" y2="368.20" stroke="#231f20" stroke-width="1.05" />
<line x1="251.30" y1="314.90" x2="254.60" y2="314.90" stroke="#231f20" stroke-width="0.8" />
<text transform="translate(248.70,317.70) scale(0.87,1)" font-size="8.4" text-anchor="end" font-weight="normal" font-style="normal" fill="#231f20" >120</text>
<line x1="251.30" y1="328.10" x2="254.60" y2="328.10" stroke="#231f20" stroke-width="0.8" />
<text transform="translate(248.70,330.90) scale(0.87,1)" font-size="8.4" text-anchor="end" font-weight="normal" font-style="normal" fill="#231f20" >100</text>
<line x1="251.30" y1="341.40" x2="254.60" y2="341.40" stroke="#231f20" stroke-width="0.8" />
<text transform="translate(248.70,344.20) scale(0.87,1)" font-size="8.4" text-anchor="end" font-weight="normal" font-style="normal" fill="#231f20" >80</text>
<line x1="251.30" y1="354.90" x2="254.60" y2="354.90" stroke="#231f20" stroke-width="0.8" />
<text transform="translate(248.70,357.70) scale(0.87,1)" font-size="8.4" text-anchor="end" font-weight="normal" font-style="normal" fill="#231f20" >60</text>
<line x1="251.30" y1="368.20" x2="254.60" y2="368.20" stroke="#231f20" stroke-width="0.8" />
<text transform="translate(248.70,371.00) scale(0.87,1)" font-size="8.4" text-anchor="end" font-weight="normal" font-style="normal" fill="#231f20" >40</text>
<line x1="254.10" y1="368.50" x2="322.60" y2="368.50" stroke="#231f20" stroke-width="1.05" />
<line x1="254.60" y1="368.50" x2="254.60" y2="371.70" stroke="#231f20" stroke-width="0.8" />
<text transform="translate(254.60,380.50) scale(0.87,1)" font-size="8.4" text-anchor="middle" font-weight="normal" font-style="normal" fill="#231f20" >0</text>
<line x1="276.30" y1="368.50" x2="276.30" y2="371.70" stroke="#231f20" stroke-width="0.8" />
<text transform="translate(276.30,380.50) scale(0.87,1)" font-size="8.4" text-anchor="middle" font-weight="normal" font-style="normal" fill="#231f20" >8</text>
<line x1="298.00" y1="368.50" x2="298.00" y2="371.70" stroke="#231f20" stroke-width="0.8" />
<text transform="translate(298.00,380.50) scale(0.87,1)" font-size="8.4" text-anchor="middle" font-weight="normal" font-style="normal" fill="#231f20" >16</text>
<line x1="319.60" y1="368.50" x2="319.60" y2="371.70" stroke="#231f20" stroke-width="0.8" />
<text transform="translate(319.60,380.50) scale(0.87,1)" font-size="8.4" text-anchor="middle" font-weight="normal" font-style="normal" fill="#231f20" >24</text>
<text transform="translate(288.80,394.70) scale(0.86,1)" font-size="8.4" text-anchor="middle" font-weight="normal" font-style="normal" fill="#231f20" >Time (h)</text>
<text transform="translate(229.60,340.50) rotate(-90) scale(0.86,1)" font-size="8.4" text-anchor="middle" font-weight="normal" font-style="normal" fill="#231f20" >MAP (mmHg)</text>
<polyline points="254.60,335.80 276.30,326.60 298.00,328.70 319.60,333.70" fill="none" stroke="#3bb54a" stroke-width="1.0" stroke-linejoin="round"/>
<line x1="254.60" y1="335.80" x2="254.60" y2="334.30" stroke="#3bb54a" stroke-width="0.8" />
<line x1="252.90" y1="334.30" x2="256.30" y2="334.30" stroke="#3bb54a" stroke-width="0.8" />
<line x1="254.60" y1="335.80" x2="254.60" y2="337.30" stroke="#3bb54a" stroke-width="0.8" />
<line x1="252.90" y1="337.30" x2="256.30" y2="337.30" stroke="#3bb54a" stroke-width="0.8" />
<polygon points="254.60,333.38 252.39,337.38 256.81,337.38" fill="#3bb54a"/>
<line x1="276.30" y1="326.60" x2="276.30" y2="324.40" stroke="#3bb54a" stroke-width="0.8" />
<line x1="274.60" y1="324.40" x2="278.00" y2="324.40" stroke="#3bb54a" stroke-width="0.8" />
<line x1="276.30" y1="326.60" x2="276.30" y2="328.80" stroke="#3bb54a" stroke-width="0.8" />
<line x1="274.60" y1="328.80" x2="278.00" y2="328.80" stroke="#3bb54a" stroke-width="0.8" />
<polygon points="276.30,324.19 274.10,328.18 278.50,328.18" fill="#3bb54a"/>
<line x1="298.00" y1="328.70" x2="298.00" y2="327.20" stroke="#3bb54a" stroke-width="0.8" />
<line x1="296.30" y1="327.20" x2="299.70" y2="327.20" stroke="#3bb54a" stroke-width="0.8" />
<line x1="298.00" y1="328.70" x2="298.00" y2="330.20" stroke="#3bb54a" stroke-width="0.8" />
<line x1="296.30" y1="330.20" x2="299.70" y2="330.20" stroke="#3bb54a" stroke-width="0.8" />
<polygon points="298.00,326.28 295.80,330.27 300.20,330.27" fill="#3bb54a"/>
<line x1="319.60" y1="333.70" x2="319.60" y2="332.20" stroke="#3bb54a" stroke-width="0.8" />
<line x1="317.90" y1="332.20" x2="321.30" y2="332.20" stroke="#3bb54a" stroke-width="0.8" />
<line x1="319.60" y1="333.70" x2="319.60" y2="335.20" stroke="#3bb54a" stroke-width="0.8" />
<line x1="317.90" y1="335.20" x2="321.30" y2="335.20" stroke="#3bb54a" stroke-width="0.8" />
<polygon points="319.60,331.28 317.40,335.27 321.81,335.27" fill="#3bb54a"/>
<polyline points="254.60,334.90 276.30,332.80 298.00,330.30 319.60,333.00" fill="none" stroke="#1c5a96" stroke-width="1.0" stroke-linejoin="round"/>
<line x1="254.60" y1="334.90" x2="254.60" y2="333.40" stroke="#1c5a96" stroke-width="0.8" />
<line x1="252.90" y1="333.40" x2="256.30" y2="333.40" stroke="#1c5a96" stroke-width="0.8" />
<line x1="254.60" y1="334.90" x2="254.60" y2="336.40" stroke="#1c5a96" stroke-width="0.8" />
<line x1="252.90" y1="336.40" x2="256.30" y2="336.40" stroke="#1c5a96" stroke-width="0.8" />
<circle cx="254.60" cy="334.90" r="2.0" fill="#1c5a96"/>
<line x1="276.30" y1="332.80" x2="276.30" y2="330.80" stroke="#1c5a96" stroke-width="0.8" />
<line x1="274.60" y1="330.80" x2="278.00" y2="330.80" stroke="#1c5a96" stroke-width="0.8" />
<line x1="276.30" y1="332.80" x2="276.30" y2="334.80" stroke="#1c5a96" stroke-width="0.8" />
<line x1="274.60" y1="334.80" x2="278.00" y2="334.80" stroke="#1c5a96" stroke-width="0.8" />
<circle cx="276.30" cy="332.80" r="2.0" fill="#1c5a96"/>
<line x1="298.00" y1="330.30" x2="298.00" y2="328.80" stroke="#1c5a96" stroke-width="0.8" />
<line x1="296.30" y1="328.80" x2="299.70" y2="328.80" stroke="#1c5a96" stroke-width="0.8" />
<line x1="298.00" y1="330.30" x2="298.00" y2="331.80" stroke="#1c5a96" stroke-width="0.8" />
<line x1="296.30" y1="331.80" x2="299.70" y2="331.80" stroke="#1c5a96" stroke-width="0.8" />
<circle cx="298.00" cy="330.30" r="2.0" fill="#1c5a96"/>
<line x1="319.60" y1="333.00" x2="319.60" y2="331.00" stroke="#1c5a96" stroke-width="0.8" />
<line x1="317.90" y1="331.00" x2="321.30" y2="331.00" stroke="#1c5a96" stroke-width="0.8" />
<line x1="319.60" y1="333.00" x2="319.60" y2="335.00" stroke="#1c5a96" stroke-width="0.8" />
<line x1="317.90" y1="335.00" x2="321.30" y2="335.00" stroke="#1c5a96" stroke-width="0.8" />
<circle cx="319.60" cy="333.00" r="2.0" fill="#1c5a96"/>
<polyline points="254.60,334.30 276.30,345.00 298.00,346.60 319.60,351.20" fill="none" stroke="#d8213a" stroke-width="1.0" stroke-linejoin="round"/>
<line x1="254.60" y1="334.30" x2="254.60" y2="331.30" stroke="#d8213a" stroke-width="0.8" />
<line x1="252.90" y1="331.30" x2="256.30" y2="331.30" stroke="#d8213a" stroke-width="0.8" />
<line x1="254.60" y1="334.30" x2="254.60" y2="337.30" stroke="#d8213a" stroke-width="0.8" />
<line x1="252.90" y1="337.30" x2="256.30" y2="337.30" stroke="#d8213a" stroke-width="0.8" />
<circle cx="254.60" cy="334.30" r="2.0" fill="#d8213a"/>
<line x1="276.30" y1="345.00" x2="276.30" y2="343.50" stroke="#d8213a" stroke-width="0.8" />
<line x1="274.60" y1="343.50" x2="278.00" y2="343.50" stroke="#d8213a" stroke-width="0.8" />
<line x1="276.30" y1="345.00" x2="276.30" y2="346.50" stroke="#d8213a" stroke-width="0.8" />
<line x1="274.60" y1="346.50" x2="278.00" y2="346.50" stroke="#d8213a" stroke-width="0.8" />
<circle cx="276.30" cy="345.00" r="2.0" fill="#d8213a"/>
<line x1="298.00" y1="346.60" x2="298.00" y2="343.10" stroke="#d8213a" stroke-width="0.8" />
<line x1="296.30" y1="343.10" x2="299.70" y2="343.10" stroke="#d8213a" stroke-width="0.8" />
<line x1="298.00" y1="346.60" x2="298.00" y2="350.10" stroke="#d8213a" stroke-width="0.8" />
<line x1="296.30" y1="350.10" x2="299.70" y2="350.10" stroke="#d8213a" stroke-width="0.8" />
<circle cx="298.00" cy="346.60" r="2.0" fill="#d8213a"/>
<line x1="319.60" y1="351.20" x2="319.60" y2="346.70" stroke="#d8213a" stroke-width="0.8" />
<line x1="317.90" y1="346.70" x2="321.30" y2="346.70" stroke="#d8213a" stroke-width="0.8" />
<line x1="319.60" y1="351.20" x2="319.60" y2="355.70" stroke="#d8213a" stroke-width="0.8" />
<line x1="317.90" y1="355.70" x2="321.30" y2="355.70" stroke="#d8213a" stroke-width="0.8" />
<circle cx="319.60" cy="351.20" r="2.0" fill="#d8213a"/>
<polyline points="254.60,335.20 276.30,345.70 298.00,343.50 319.60,336.40" fill="none" stroke="#5a2a88" stroke-width="1.0" stroke-linejoin="round"/>
<line x1="254.60" y1="335.20" x2="254.60" y2="333.70" stroke="#5a2a88" stroke-width="0.8" />
<line x1="252.90" y1="333.70" x2="256.30" y2="333.70" stroke="#5a2a88" stroke-width="0.8" />
<line x1="254.60" y1="335.20" x2="254.60" y2="336.70" stroke="#5a2a88" stroke-width="0.8" />
<line x1="252.90" y1="336.70" x2="256.30" y2="336.70" stroke="#5a2a88" stroke-width="0.8" />
<polygon points="254.60,332.78 252.39,336.77 256.81,336.77" fill="#5a2a88"/>
<line x1="276.30" y1="345.70" x2="276.30" y2="343.20" stroke="#5a2a88" stroke-width="0.8" />
<line x1="274.60" y1="343.20" x2="278.00" y2="343.20" stroke="#5a2a88" stroke-width="0.8" />
<line x1="276.30" y1="345.70" x2="276.30" y2="348.20" stroke="#5a2a88" stroke-width="0.8" />
<line x1="274.60" y1="348.20" x2="278.00" y2="348.20" stroke="#5a2a88" stroke-width="0.8" />
<polygon points="276.30,343.28 274.10,347.27 278.50,347.27" fill="#5a2a88"/>
<line x1="298.00" y1="343.50" x2="298.00" y2="340.50" stroke="#5a2a88" stroke-width="0.8" />
<line x1="296.30" y1="340.50" x2="299.70" y2="340.50" stroke="#5a2a88" stroke-width="0.8" />
<line x1="298.00" y1="343.50" x2="298.00" y2="346.50" stroke="#5a2a88" stroke-width="0.8" />
<line x1="296.30" y1="346.50" x2="299.70" y2="346.50" stroke="#5a2a88" stroke-width="0.8" />
<polygon points="298.00,341.08 295.80,345.07 300.20,345.07" fill="#5a2a88"/>
<line x1="319.60" y1="336.40" x2="319.60" y2="334.90" stroke="#5a2a88" stroke-width="0.8" />
<line x1="317.90" y1="334.90" x2="321.30" y2="334.90" stroke="#5a2a88" stroke-width="0.8" />
<line x1="319.60" y1="336.40" x2="319.60" y2="337.90" stroke="#5a2a88" stroke-width="0.8" />
<line x1="317.90" y1="337.90" x2="321.30" y2="337.90" stroke="#5a2a88" stroke-width="0.8" />
<polygon points="319.60,333.98 317.40,337.97 321.81,337.97" fill="#5a2a88"/>
<polyline points="323.80,337.40 325.30,337.40 325.30,352.20 323.80,352.20" fill="none" stroke="#231f20" stroke-width="0.8" stroke-linejoin="round"/>
<text transform="translate(329.00,348.00)" font-size="8.5" text-anchor="middle" font-weight="normal" font-style="normal" fill="#231f20" >*</text>
<line x1="365.40" y1="313.90" x2="365.40" y2="370.00" stroke="#231f20" stroke-width="1.05" />
<line x1="362.10" y1="313.90" x2="365.40" y2="313.90" stroke="#231f20" stroke-width="0.8" />
<text transform="translate(359.50,316.70) scale(0.87,1)" font-size="8.4" text-anchor="end" font-weight="normal" font-style="normal" fill="#231f20" >100</text>
<line x1="362.10" y1="342.00" x2="365.40" y2="342.00" stroke="#231f20" stroke-width="0.8" />
<text transform="translate(359.50,344.80) scale(0.87,1)" font-size="8.4" text-anchor="end" font-weight="normal" font-style="normal" fill="#231f20" >50</text>
<line x1="362.10" y1="370.00" x2="365.40" y2="370.00" stroke="#231f20" stroke-width="0.8" />
<text transform="translate(359.50,372.80) scale(0.87,1)" font-size="8.4" text-anchor="end" font-weight="normal" font-style="normal" fill="#231f20" >0</text>
<line x1="364.90" y1="369.90" x2="442.50" y2="369.90" stroke="#231f20" stroke-width="1.05" />
<line x1="365.40" y1="369.90" x2="365.40" y2="373.10" stroke="#231f20" stroke-width="0.8" />
<text transform="translate(365.40,381.90) scale(0.87,1)" font-size="8.4" text-anchor="middle" font-weight="normal" font-style="normal" fill="#231f20" >0</text>
<line x1="376.37" y1="369.90" x2="376.37" y2="373.10" stroke="#231f20" stroke-width="0.8" />
<text transform="translate(376.37,381.90) scale(0.87,1)" font-size="8.4" text-anchor="middle" font-weight="normal" font-style="normal" fill="#231f20" >1</text>
<line x1="387.34" y1="369.90" x2="387.34" y2="373.10" stroke="#231f20" stroke-width="0.8" />
<text transform="translate(387.34,381.90) scale(0.87,1)" font-size="8.4" text-anchor="middle" font-weight="normal" font-style="normal" fill="#231f20" >2</text>
<line x1="398.31" y1="369.90" x2="398.31" y2="373.10" stroke="#231f20" stroke-width="0.8" />
<text transform="translate(398.31,381.90) scale(0.87,1)" font-size="8.4" text-anchor="middle" font-weight="normal" font-style="normal" fill="#231f20" >3</text>
<line x1="409.28" y1="369.90" x2="409.28" y2="373.10" stroke="#231f20" stroke-width="0.8" />
<text transform="translate(409.28,381.90) scale(0.87,1)" font-size="8.4" text-anchor="middle" font-weight="normal" font-style="normal" fill="#231f20" >4</text>
<line x1="420.25" y1="369.90" x2="420.25" y2="373.10" stroke="#231f20" stroke-width="0.8" />
<text transform="translate(420.25,381.90) scale(0.87,1)" font-size="8.4" text-anchor="middle" font-weight="normal" font-style="normal" fill="#231f20" >5</text>
<line x1="431.22" y1="369.90" x2="431.22" y2="373.10" stroke="#231f20" stroke-width="0.8" />
<text transform="translate(431.22,381.90) scale(0.87,1)" font-size="8.4" text-anchor="middle" font-weight="normal" font-style="normal" fill="#231f20" >6</text>
<line x1="442.19" y1="369.90" x2="442.19" y2="373.10" stroke="#231f20" stroke-width="0.8" />
<text transform="translate(442.19,381.90) scale(0.87,1)" font-size="8.4" text-anchor="middle" font-weight="normal" font-style="normal" fill="#231f20" >7</text>
<text transform="translate(404.00,394.90) scale(0.86,1)" font-size="8.4" text-anchor="middle" font-weight="normal" font-style="normal" fill="#231f20" >Days</text>
<text transform="translate(343.70,342.20) rotate(-90) scale(0.86,1)" font-size="8.4" text-anchor="middle" font-weight="normal" font-style="normal" fill="#231f20" >Survival (%)</text>
<polyline points="365.40,314.00 370.88,314.00 370.88,333.00 387.34,333.00 387.34,360.80 442.19,360.80" fill="none" stroke="#d8213a" stroke-width="1.0" stroke-linejoin="round"/>
<circle cx="376.37" cy="333.00" r="2.1" fill="#d8213a"/>
<circle cx="398.31" cy="360.80" r="2.1" fill="#d8213a"/>
<circle cx="420.25" cy="360.80" r="2.1" fill="#d8213a"/>
<circle cx="442.19" cy="360.80" r="2.1" fill="#d8213a"/>
<polyline points="365.40,314.00 387.34,314.00 387.34,323.50 442.19,323.50" fill="none" stroke="#5a2a88" stroke-width="1.0" stroke-linejoin="round"/>
<polygon points="398.31,321.08 396.11,325.07 400.51,325.07" fill="#5a2a88"/>
<polygon points="420.25,321.08 418.05,325.07 422.45,325.07" fill="#5a2a88"/>
<polygon points="442.19,321.08 439.99,325.07 444.39,325.07" fill="#5a2a88"/>
<polyline points="365.40,313.60 442.19,313.60" fill="none" stroke="#1c5a96" stroke-width="1.0" stroke-linejoin="round"/>
<circle cx="365.40" cy="314.00" r="2.0" fill="#1c5a96"/>
<circle cx="376.37" cy="314.00" r="2.0" fill="#1c5a96"/>
<circle cx="398.31" cy="314.00" r="2.0" fill="#1c5a96"/>
<circle cx="420.25" cy="314.00" r="2.0" fill="#1c5a96"/>
<circle cx="442.19" cy="314.00" r="2.0" fill="#1c5a96"/>
<polyline points="365.40,314.30 442.19,314.30" fill="none" stroke="#3bb54a" stroke-width="1.0" stroke-linejoin="round"/>
<polygon points="376.37,311.58 374.17,315.57 378.57,315.57" fill="#3bb54a"/>
<polygon points="398.31,311.58 396.11,315.57 400.51,315.57" fill="#3bb54a"/>
<polygon points="420.25,311.58 418.05,315.57 422.45,315.57" fill="#3bb54a"/>
<polygon points="442.19,311.58 439.99,315.57 444.39,315.57" fill="#3bb54a"/>
<circle cx="365.40" cy="314.00" r="1.7" fill="#d8213a"/>
<text transform="translate(447.60,327.50)" font-size="8.5" text-anchor="middle" font-weight="normal" font-style="normal" fill="#231f20" >*</text>
<circle cx="457.30" cy="291.10" r="2.0" fill="#1c5a96"/>
<text transform="translate(461.80,293.40)" font-size="7.2" text-anchor="start" font-weight="normal" font-style="normal" fill="#231f20" >WT sham</text>
<circle cx="457.30" cy="299.10" r="2.0" fill="#d8213a"/>
<text transform="translate(461.80,301.30)" font-size="7.2" text-anchor="start" font-weight="normal" font-style="normal" fill="#231f20" >WT CLP</text>
<polygon points="457.30,305.38 455.10,309.38 459.50,309.38" fill="#3bb54a"/>
<text transform="translate(461.80,310.00)" font-size="7.2" text-anchor="start" font-weight="normal" font-style="normal" fill="#231f20" ><tspan font-style="italic">Gsdmd</tspan><tspan font-style="italic" font-size="4.46" dy="-2.59">−/−</tspan><tspan dy="2.59"> sham</tspan></text>
<polygon points="457.30,313.48 455.10,317.47 459.50,317.47" fill="#5a2a88"/>
<text transform="translate(461.80,317.80)" font-size="7.2" text-anchor="start" font-weight="normal" font-style="normal" fill="#231f20" ><tspan font-style="italic">Gsdmd</tspan><tspan font-style="italic" font-size="4.46" dy="-2.59">−/−</tspan><tspan dy="2.59"> CLP</tspan></text>
<rect x="168.7" y="6.9" width="42.9" height="42.8" fill="#05080a"/>
<rect x="213.2" y="6.9" width="42.9" height="42.8" fill="#05080a"/>
<rect x="257.6" y="6.9" width="42.9" height="42.8" fill="#05080a"/>
<rect x="302.1" y="6.9" width="42.9" height="42.8" fill="#05080a"/>
<rect x="346.4" y="6.9" width="42.9" height="42.8" fill="#05080a"/>
<rect x="168.7" y="52.8" width="42.9" height="42.8" fill="#05080a"/>
<rect x="213.2" y="52.8" width="42.9" height="42.8" fill="#05080a"/>
<rect x="257.6" y="52.8" width="42.9" height="42.8" fill="#05080a"/>
<rect x="302.1" y="52.8" width="42.9" height="42.8" fill="#05080a"/>
<rect x="346.4" y="52.8" width="42.9" height="42.8" fill="#05080a"/>
<rect x="168.7" y="98.8" width="42.9" height="42.8" fill="#05080a"/>
<rect x="213.2" y="98.8" width="42.9" height="42.8" fill="#05080a"/>
<rect x="257.6" y="98.8" width="42.9" height="42.8" fill="#05080a"/>
<rect x="302.1" y="98.8" width="42.9" height="42.8" fill="#05080a"/>
<rect x="346.4" y="98.8" width="42.9" height="42.8" fill="#05080a"/>
<clipPath id="cb"><rect x="168.7" y="6.9" width="42.9" height="42.8"/><rect x="213.2" y="6.9" width="42.9" height="42.8"/><rect x="257.6" y="6.9" width="42.9" height="42.8"/><rect x="302.1" y="6.9" width="42.9" height="42.8"/><rect x="346.4" y="6.9" width="42.9" height="42.8"/><rect x="168.7" y="52.8" width="42.9" height="42.8"/><rect x="213.2" y="52.8" width="42.9" height="42.8"/><rect x="257.6" y="52.8" width="42.9" height="42.8"/><rect x="302.1" y="52.8" width="42.9" height="42.8"/><rect x="346.4" y="52.8" width="42.9" height="42.8"/><rect x="168.7" y="98.8" width="42.9" height="42.8"/><rect x="213.2" y="98.8" width="42.9" height="42.8"/><rect x="257.6" y="98.8" width="42.9" height="42.8"/><rect x="302.1" y="98.8" width="42.9" height="42.8"/><rect x="346.4" y="98.8" width="42.9" height="42.8"/></clipPath>
<g clip-path="url(#cb)"><g filter="url(#b1)">
<circle cx="193.42" cy="11.96" r="0.7" fill="#3348d8" opacity="0.9"/>
<circle cx="176.62" cy="19.04" r="0.7" fill="#3348d8" opacity="0.9"/>
<circle cx="179.80" cy="25.23" r="0.7" fill="#3348d8" opacity="0.9"/>
<circle cx="183.69" cy="26.65" r="0.7" fill="#3348d8" opacity="0.9"/>
<circle cx="170.95" cy="25.59" r="0.7" fill="#3348d8" opacity="0.9"/>
<circle cx="200.50" cy="21.69" r="0.7" fill="#3348d8" opacity="0.9"/>
<circle cx="204.57" cy="21.69" r="0.7" fill="#3348d8" opacity="0.9"/>
<circle cx="207.58" cy="25.59" r="0.7" fill="#3348d8" opacity="0.9"/>
<circle cx="178.03" cy="30.19" r="0.7" fill="#3348d8" opacity="0.9"/>
<circle cx="181.57" cy="31.42" r="0.7" fill="#3348d8" opacity="0.9"/>
<circle cx="192.89" cy="34.08" r="0.7" fill="#3348d8" opacity="0.9"/>
<circle cx="173.96" cy="36.73" r="0.7" fill="#3348d8" opacity="0.9"/>
<circle cx="208.46" cy="33.19" r="0.7" fill="#3348d8" opacity="0.9"/>
<circle cx="178.38" cy="43.28" r="0.7" fill="#3348d8" opacity="0.9"/>
<circle cx="178.03" cy="46.11" r="0.7" fill="#3348d8" opacity="0.9"/>
<circle cx="170.42" cy="40.27" r="0.7" fill="#3348d8" opacity="0.9"/>
<circle cx="207.05" cy="42.04" r="0.7" fill="#3348d8" opacity="0.9"/>
<circle cx="208.46" cy="42.92" r="0.7" fill="#3348d8" opacity="0.9"/>
<circle cx="186.35" cy="12.85" r="0.7" fill="#3348d8" opacity="0.9"/>
<circle cx="220.85" cy="19.04" r="0.8" fill="#2fc24a" opacity="0.95"/>
<circle cx="231.46" cy="12.85" r="0.8" fill="#2fc24a" opacity="0.95"/>
<circle cx="252.34" cy="17.27" r="0.8" fill="#2fc24a" opacity="0.95"/>
<circle cx="254.46" cy="11.08" r="0.8" fill="#2fc24a" opacity="0.95"/>
<circle cx="215.19" cy="25.59" r="0.8" fill="#2fc24a" opacity="0.95"/>
<circle cx="224.39" cy="24.88" r="0.8" fill="#2fc24a" opacity="0.95"/>
<circle cx="227.92" cy="26.65" r="0.8" fill="#2fc24a" opacity="0.95"/>
<circle cx="238.54" cy="23.82" r="0.8" fill="#2fc24a" opacity="0.95"/>
<circle cx="240.31" cy="27.89" r="0.8" fill="#2fc24a" opacity="0.95"/>
<circle cx="252.69" cy="25.23" r="0.8" fill="#2fc24a" opacity="0.95"/>
<circle cx="222.26" cy="30.19" r="0.8" fill="#2fc24a" opacity="0.95"/>
<circle cx="225.80" cy="30.19" r="0.8" fill="#2fc24a" opacity="0.95"/>
<circle cx="227.04" cy="32.66" r="0.8" fill="#2fc24a" opacity="0.95"/>
<circle cx="236.77" cy="34.08" r="0.8" fill="#2fc24a" opacity="0.95"/>
<circle cx="249.51" cy="33.19" r="0.8" fill="#2fc24a" opacity="0.95"/>
<circle cx="254.11" cy="28.77" r="0.8" fill="#2fc24a" opacity="0.95"/>
<circle cx="219.08" cy="35.85" r="0.8" fill="#2fc24a" opacity="0.95"/>
<circle cx="215.54" cy="40.27" r="0.8" fill="#2fc24a" opacity="0.95"/>
<circle cx="222.62" cy="43.81" r="0.8" fill="#2fc24a" opacity="0.95"/>
<circle cx="222.62" cy="46.11" r="0.8" fill="#2fc24a" opacity="0.95"/>
<circle cx="214.66" cy="47.35" r="0.8" fill="#2fc24a" opacity="0.95"/>
<circle cx="251.28" cy="42.57" r="0.8" fill="#2fc24a" opacity="0.95"/>
<circle cx="243.85" cy="12.85" r="0.8" fill="#2fc24a" opacity="0.95"/>
<circle cx="264.73" cy="19.04" r="0.7" fill="#7a1418" opacity="0.7"/>
<circle cx="268.27" cy="25.23" r="0.7" fill="#7a1418" opacity="0.7"/>
<circle cx="272.69" cy="26.65" r="0.7" fill="#7a1418" opacity="0.7"/>
<circle cx="282.42" cy="23.82" r="0.7" fill="#7a1418" opacity="0.7"/>
<circle cx="284.19" cy="27.89" r="0.7" fill="#7a1418" opacity="0.7"/>
<circle cx="296.58" cy="17.27" r="0.7" fill="#7a1418" opacity="0.7"/>
<circle cx="297.46" cy="25.23" r="0.7" fill="#7a1418" opacity="0.7"/>
<circle cx="265.97" cy="30.19" r="0.7" fill="#7a1418" opacity="0.7"/>
<circle cx="270.04" cy="30.54" r="0.7" fill="#7a1418" opacity="0.7"/>
<circle cx="270.92" cy="32.66" r="0.7" fill="#7a1418" opacity="0.7"/>
<circle cx="281.54" cy="34.43" r="0.7" fill="#7a1418" opacity="0.7"/>
<circle cx="293.57" cy="33.19" r="0.7" fill="#7a1418" opacity="0.7"/>
<circle cx="263.49" cy="35.85" r="0.7" fill="#7a1418" opacity="0.7"/>
<circle cx="259.95" cy="40.27" r="0.7" fill="#7a1418" opacity="0.7"/>
<circle cx="267.03" cy="43.81" r="0.7" fill="#7a1418" opacity="0.7"/>
<circle cx="262.96" cy="47.88" r="0.7" fill="#7a1418" opacity="0.7"/>
<circle cx="295.69" cy="42.57" r="0.7" fill="#7a1418" opacity="0.7"/>
<circle cx="309.49" cy="18.51" r="0.8" fill="#2fb8b0" opacity="0.95"/>
<circle cx="313.39" cy="24.88" r="0.8" fill="#2fb8b0" opacity="0.95"/>
<circle cx="316.92" cy="26.65" r="0.8" fill="#2fb8b0" opacity="0.95"/>
<circle cx="303.66" cy="25.59" r="0.8" fill="#2fb8b0" opacity="0.95"/>
<circle cx="327.19" cy="23.82" r="0.8" fill="#2fb8b0" opacity="0.95"/>
<circle cx="328.96" cy="27.89" r="0.8" fill="#2fb8b0" opacity="0.95"/>
<circle cx="341.34" cy="17.27" r="0.8" fill="#2fb8b0" opacity="0.95"/>
<circle cx="339.57" cy="16.38" r="0.8" fill="#2fb8b0" opacity="0.95"/>
<circle cx="341.69" cy="25.23" r="0.8" fill="#2fb8b0" opacity="0.95"/>
<circle cx="343.11" cy="28.77" r="0.8" fill="#2fb8b0" opacity="0.95"/>
<circle cx="310.91" cy="30.19" r="0.8" fill="#2fb8b0" opacity="0.95"/>
<circle cx="314.27" cy="30.54" r="0.8" fill="#2fb8b0" opacity="0.95"/>
<circle cx="315.69" cy="32.66" r="0.8" fill="#2fb8b0" opacity="0.95"/>
<circle cx="325.77" cy="34.43" r="0.8" fill="#2fb8b0" opacity="0.95"/>
<circle cx="338.51" cy="33.19" r="0.8" fill="#2fb8b0" opacity="0.95"/>
<circle cx="343.11" cy="33.72" r="0.8" fill="#2fb8b0" opacity="0.95"/>
<circle cx="307.72" cy="35.85" r="0.8" fill="#2fb8b0" opacity="0.95"/>
<circle cx="304.54" cy="40.27" r="0.8" fill="#2fb8b0" opacity="0.95"/>
<circle cx="311.62" cy="43.81" r="0.8" fill="#2fb8b0" opacity="0.95"/>
<circle cx="311.26" cy="46.11" r="0.8" fill="#2fb8b0" opacity="0.95"/>
<circle cx="307.19" cy="47.88" r="0.8" fill="#2fb8b0" opacity="0.95"/>
<circle cx="340.28" cy="42.57" r="0.8" fill="#2fb8b0" opacity="0.95"/>
<circle cx="181.92" cy="56.72" r="0.8" fill="#3348d8" opacity="0.95"/>
<circle cx="176.62" cy="67.69" r="0.8" fill="#3348d8" opacity="0.95"/>
<circle cx="185.11" cy="67.69" r="1.1" fill="#3348d8" opacity="0.95"/>
<circle cx="187.23" cy="69.46" r="1.0" fill="#3348d8" opacity="0.95"/>
<circle cx="189.89" cy="68.58" r="0.8" fill="#3348d8" opacity="0.95"/>
<circle cx="196.08" cy="66.81" r="0.8" fill="#3348d8" opacity="0.95"/>
<circle cx="193.95" cy="70.88" r="1.0" fill="#3348d8" opacity="0.95"/>
<circle cx="193.95" cy="73.00" r="0.8" fill="#3348d8" opacity="0.95"/>
<circle cx="170.95" cy="73.00" r="0.8" fill="#3348d8" opacity="0.95"/>
<circle cx="188.12" cy="82.73" r="1.2" fill="#3348d8" opacity="0.95"/>
<circle cx="187.23" cy="84.50" r="1.0" fill="#3348d8" opacity="0.95"/>
<circle cx="182.81" cy="83.62" r="0.8" fill="#3348d8" opacity="0.95"/>
<circle cx="192.54" cy="86.27" r="0.8" fill="#3348d8" opacity="0.95"/>
<circle cx="203.15" cy="81.85" r="0.8" fill="#3348d8" opacity="0.95"/>
<circle cx="204.04" cy="83.26" r="0.8" fill="#3348d8" opacity="0.95"/>
<circle cx="197.85" cy="95.12" r="0.8" fill="#3348d8" opacity="0.95"/>
<circle cx="178.38" cy="87.15" r="0.8" fill="#3348d8" opacity="0.95"/>
<circle cx="170.42" cy="67.69" r="0.8" fill="#3348d8" opacity="0.95"/>
<circle cx="219.08" cy="67.69" r="0.85" fill="#2fc24a" opacity="0.95"/>
<circle cx="222.97" cy="67.34" r="0.85" fill="#2fc24a" opacity="0.95"/>
<circle cx="228.81" cy="67.34" r="1.0" fill="#2fc24a" opacity="0.95"/>
<circle cx="229.69" cy="69.82" r="0.85" fill="#2fc24a" opacity="0.95"/>
<circle cx="234.12" cy="69.11" r="0.85" fill="#2fc24a" opacity="0.95"/>
<circle cx="215.19" cy="67.69" r="0.85" fill="#2fc24a" opacity="0.95"/>
<circle cx="214.66" cy="73.00" r="0.85" fill="#2fc24a" opacity="0.95"/>
<circle cx="237.66" cy="71.23" r="0.85" fill="#2fc24a" opacity="0.95"/>
<circle cx="227.04" cy="83.26" r="0.85" fill="#2fc24a" opacity="0.95"/>
<circle cx="232.88" cy="82.73" r="1.1" fill="#2fc24a" opacity="0.95"/>
<circle cx="231.82" cy="84.50" r="0.85" fill="#2fc24a" opacity="0.95"/>
<circle cx="236.77" cy="86.80" r="0.85" fill="#2fc24a" opacity="0.95"/>
<circle cx="224.03" cy="87.51" r="0.85" fill="#2fc24a" opacity="0.95"/>
<circle cx="226.16" cy="57.08" r="0.5" fill="#2fc24a" opacity="0.95"/>
<circle cx="240.31" cy="96.00" r="0.85" fill="#2fc24a" opacity="0.95"/>
<circle cx="243.85" cy="96.00" r="0.85" fill="#2fc24a" opacity="0.95"/>
<circle cx="247.39" cy="81.85" r="0.5" fill="#2fc24a" opacity="0.95"/>
<circle cx="270.92" cy="56.19" r="0.8" fill="#d01c24" opacity="0.95"/>
<circle cx="263.85" cy="67.69" r="0.8" fill="#d01c24" opacity="0.95"/>
<circle cx="267.38" cy="67.34" r="0.8" fill="#d01c24" opacity="0.95"/>
<circle cx="273.58" cy="66.81" r="1.0" fill="#d01c24" opacity="0.95"/>
<circle cx="272.69" cy="69.82" r="0.8" fill="#d01c24" opacity="0.95"/>
<circle cx="278.89" cy="68.58" r="0.8" fill="#d01c24" opacity="0.95"/>
<circle cx="285.96" cy="65.92" r="0.8" fill="#d01c24" opacity="0.95"/>
<circle cx="282.42" cy="70.88" r="1.1" fill="#d01c24" opacity="0.95"/>
<circle cx="282.95" cy="72.65" r="0.8" fill="#d01c24" opacity="0.95"/>
<circle cx="258.89" cy="73.00" r="0.8" fill="#d01c24" opacity="0.95"/>
<circle cx="258.54" cy="74.77" r="0.8" fill="#d01c24" opacity="0.95"/>
<circle cx="277.12" cy="82.73" r="1.1" fill="#d01c24" opacity="0.95"/>
<circle cx="276.23" cy="84.50" r="0.8" fill="#d01c24" opacity="0.95"/>
<circle cx="271.81" cy="83.62" r="0.8" fill="#d01c24" opacity="0.95"/>
<circle cx="281.54" cy="86.80" r="0.8" fill="#d01c24" opacity="0.95"/>
<circle cx="268.27" cy="87.51" r="0.8" fill="#d01c24" opacity="0.95"/>
<circle cx="292.15" cy="80.08" r="0.8" fill="#d01c24" opacity="0.95"/>
<circle cx="292.51" cy="82.73" r="0.8" fill="#d01c24" opacity="0.95"/>
<circle cx="298.35" cy="87.51" r="0.8" fill="#d01c24" opacity="0.95"/>
<circle cx="286.85" cy="95.65" r="0.8" fill="#d01c24" opacity="0.95"/>
<circle cx="297.46" cy="82.73" r="0.8" fill="#d01c24" opacity="0.95"/>
<circle cx="315.16" cy="56.72" r="0.8" fill="#3348d8" opacity="0.95"/>
<circle cx="308.08" cy="67.69" r="0.8" fill="#e8c020" opacity="0.95"/>
<circle cx="311.97" cy="67.34" r="0.8" fill="#3348d8" opacity="0.95"/>
<circle cx="317.81" cy="67.34" r="0.9" fill="#e8c020" opacity="0.95"/>
<circle cx="318.69" cy="69.46" r="1.1" fill="#3348d8" opacity="0.95"/>
<circle cx="323.12" cy="69.11" r="0.8" fill="#3348d8" opacity="0.95"/>
<circle cx="304.19" cy="67.69" r="0.7" fill="#2fc24a" opacity="0.95"/>
<circle cx="303.66" cy="73.00" r="0.9" fill="#e8c020" opacity="0.95"/>
<circle cx="326.66" cy="71.23" r="0.8" fill="#e8c020" opacity="0.95"/>
<circle cx="329.66" cy="66.81" r="0.8" fill="#3348d8" opacity="0.95"/>
<circle cx="316.04" cy="83.26" r="0.7" fill="#3348d8" opacity="0.95"/>
<circle cx="321.35" cy="82.73" r="1.1" fill="#7fd0e0" opacity="0.95"/>
<circle cx="320.82" cy="84.50" r="0.9" fill="#3348d8" opacity="0.95"/>
<circle cx="325.77" cy="86.80" r="0.8" fill="#e8c020" opacity="0.95"/>
<circle cx="313.03" cy="87.51" r="0.7" fill="#e8c020" opacity="0.95"/>
<circle cx="336.39" cy="82.20" r="0.9" fill="#3348d8" opacity="0.95"/>
<circle cx="331.08" cy="96.00" r="0.6" fill="#2fc24a" opacity="0.95"/>
<circle cx="332.85" cy="95.65" r="0.6" fill="#d01c24" opacity="0.95"/>
<circle cx="320.46" cy="71.23" r="1.0" fill="#3348d8" opacity="0.95"/>
<circle cx="173.08" cy="103.96" r="0.75" fill="#3348d8" opacity="0.95"/>
<circle cx="185.82" cy="107.50" r="0.75" fill="#3348d8" opacity="0.95"/>
<circle cx="188.12" cy="108.38" r="0.75" fill="#3348d8" opacity="0.95"/>
<circle cx="199.62" cy="106.97" r="0.75" fill="#3348d8" opacity="0.95"/>
<circle cx="203.51" cy="106.26" r="0.75" fill="#3348d8" opacity="0.95"/>
<circle cx="189.89" cy="113.69" r="0.75" fill="#3348d8" opacity="0.95"/>
<circle cx="176.62" cy="120.77" r="0.75" fill="#3348d8" opacity="0.95"/>
<circle cx="194.31" cy="120.77" r="0.75" fill="#3348d8" opacity="0.95"/>
<circle cx="195.72" cy="126.08" r="0.75" fill="#3348d8" opacity="0.95"/>
<circle cx="201.03" cy="124.31" r="0.75" fill="#3348d8" opacity="0.95"/>
<circle cx="204.57" cy="127.49" r="0.75" fill="#3348d8" opacity="0.95"/>
<circle cx="173.96" cy="129.62" r="0.75" fill="#3348d8" opacity="0.95"/>
<circle cx="187.59" cy="129.97" r="0.75" fill="#3348d8" opacity="0.95"/>
<circle cx="186.35" cy="139.35" r="0.75" fill="#3348d8" opacity="0.95"/>
<circle cx="217.84" cy="103.96" r="0.85" fill="#2fc24a" opacity="0.95"/>
<circle cx="230.05" cy="107.50" r="0.85" fill="#2fc24a" opacity="0.95"/>
<circle cx="232.35" cy="108.03" r="0.85" fill="#2fc24a" opacity="0.95"/>
<circle cx="244.73" cy="106.97" r="0.85" fill="#2fc24a" opacity="0.95"/>
<circle cx="247.74" cy="106.26" r="0.85" fill="#2fc24a" opacity="0.95"/>
<circle cx="234.65" cy="113.69" r="0.85" fill="#2fc24a" opacity="0.95"/>
<circle cx="221.20" cy="121.12" r="0.85" fill="#2fc24a" opacity="0.95"/>
<circle cx="239.96" cy="125.72" r="0.85" fill="#2fc24a" opacity="0.95"/>
<circle cx="245.26" cy="124.31" r="1.0" fill="#2fc24a" opacity="0.95"/>
<circle cx="249.16" cy="127.49" r="0.85" fill="#2fc24a" opacity="0.95"/>
<circle cx="219.08" cy="129.62" r="0.85" fill="#2fc24a" opacity="0.95"/>
<circle cx="223.50" cy="126.96" r="0.85" fill="#2fc24a" opacity="0.95"/>
<circle cx="232.35" cy="129.62" r="0.85" fill="#2fc24a" opacity="0.95"/>
<circle cx="231.46" cy="139.35" r="0.85" fill="#2fc24a" opacity="0.95"/>
<circle cx="262.08" cy="103.96" r="0.7" fill="#5a1014" opacity="0.6"/>
<circle cx="274.82" cy="107.50" r="0.7" fill="#5a1014" opacity="0.6"/>
<circle cx="277.12" cy="108.38" r="0.7" fill="#5a1014" opacity="0.6"/>
<circle cx="288.62" cy="106.97" r="0.7" fill="#5a1014" opacity="0.6"/>
<circle cx="292.51" cy="106.26" r="0.7" fill="#5a1014" opacity="0.6"/>
<circle cx="278.89" cy="113.69" r="0.7" fill="#5a1014" opacity="0.6"/>
<circle cx="265.62" cy="120.77" r="0.7" fill="#5a1014" opacity="0.6"/>
<circle cx="284.72" cy="126.08" r="0.7" fill="#5a1014" opacity="0.6"/>
<circle cx="290.03" cy="124.31" r="0.7" fill="#5a1014" opacity="0.6"/>
<circle cx="293.57" cy="127.49" r="0.7" fill="#5a1014" opacity="0.6"/>
<circle cx="262.96" cy="129.62" r="0.7" fill="#5a1014" opacity="0.6"/>
<circle cx="276.59" cy="129.97" r="0.7" fill="#5a1014" opacity="0.6"/>
<circle cx="267.74" cy="126.96" r="0.7" fill="#5a1014" opacity="0.6"/>
<circle cx="306.84" cy="103.96" r="0.85" fill="#2fb8b0" opacity="0.95"/>
<circle cx="319.05" cy="107.50" r="0.85" fill="#2fb8b0" opacity="0.95"/>
<circle cx="321.35" cy="108.03" r="0.85" fill="#2fb8b0" opacity="0.95"/>
<circle cx="333.73" cy="106.97" r="0.85" fill="#2fb8b0" opacity="0.95"/>
<circle cx="336.74" cy="106.26" r="0.85" fill="#2fb8b0" opacity="0.95"/>
<circle cx="323.65" cy="113.69" r="0.85" fill="#2fb8b0" opacity="0.95"/>
<circle cx="310.20" cy="121.12" r="0.85" fill="#2fb8b0" opacity="0.95"/>
<circle cx="328.96" cy="125.72" r="0.85" fill="#2fb8b0" opacity="0.95"/>
<circle cx="334.26" cy="124.31" r="1.0" fill="#2fb8b0" opacity="0.95"/>
<circle cx="338.16" cy="127.49" r="0.85" fill="#2fb8b0" opacity="0.95"/>
<circle cx="307.72" cy="129.97" r="0.85" fill="#2fb8b0" opacity="0.95"/>
<circle cx="311.97" cy="126.96" r="0.85" fill="#2fb8b0" opacity="0.95"/>
<circle cx="321.35" cy="129.62" r="0.85" fill="#2fb8b0" opacity="0.95"/>
<circle cx="320.46" cy="139.88" r="0.85" fill="#2fb8b0" opacity="0.95"/>
</g></g>
<g clip-path="url(#cb)"><g filter="url(#b2)">
<circle cx="355" cy="14.2" r="2.9" fill="#2fc24a"/>
<ellipse cx="354.8" cy="14.299999999999999" rx="2.09" ry="1.59" fill="#2a50e0" transform="rotate(25 355 14.2)"/>
<circle cx="370" cy="36.5" r="2.7" fill="#2fc24a"/>
<ellipse cx="369.8" cy="36.6" rx="1.94" ry="1.49" fill="#2a50e0" transform="rotate(25 370 36.5)"/>
<circle cx="383.3" cy="43.8" r="3.1" fill="#2fc24a"/>
<ellipse cx="383.1" cy="43.9" rx="2.23" ry="1.71" fill="#2a50e0" transform="rotate(25 383.3 43.8)"/>
<circle cx="376.7" cy="35.7" r="0.8" fill="#2fc24a"/>
<circle cx="351" cy="118.5" r="3.4" fill="#2fc24a"/>
<ellipse cx="350.8" cy="118.6" rx="2.45" ry="1.87" fill="#2a50e0" transform="rotate(25 351 118.5)"/>
<circle cx="370.6" cy="113.3" r="3.9" fill="#2fc24a"/>
<ellipse cx="370.40000000000003" cy="113.39999999999999" rx="2.81" ry="2.15" fill="#2a50e0" transform="rotate(25 370.6 113.3)"/>
<circle cx="384.8" cy="124" r="3.4" fill="#2fc24a"/>
<ellipse cx="384.6" cy="124.1" rx="2.45" ry="1.87" fill="#2a50e0" transform="rotate(25 384.8 124)"/>
</g><g filter="url(#b4)">
<ellipse cx="357.31" cy="62.69" rx="3.46" ry="4.04" fill="#2858c8" opacity="0.8"/>
<ellipse cx="360.19" cy="67.31" rx="5.19" ry="5.19" fill="#1c3ea8" opacity="0.8"/>
<ellipse cx="363.08" cy="71.92" rx="4.04" ry="3.23" fill="#18369a" opacity="0.7"/>
<ellipse cx="366.77" cy="71.35" rx="2.54" ry="1.38" fill="#18369a" opacity="0.6"/>
<ellipse cx="355.58" cy="69.61" rx="2.88" ry="3.46" fill="#2040a8" opacity="0.7"/>
<ellipse cx="358.46" cy="58.08" rx="2.31" ry="1.73" fill="#2050b8" opacity="0.6"/>
<ellipse cx="361.35" cy="63.85" rx="1.62" ry="1.62" fill="#3890c8" opacity="0.5"/>
<ellipse cx="354.77" cy="58.65" rx="1.62" ry="2.08" fill="#e0b020" opacity="1"/>
<ellipse cx="354.42" cy="60.15" rx="0.69" ry="0.92" fill="#d06020" opacity="0.9"/>
<ellipse cx="350.96" cy="69.04" rx="2.08" ry="2.54" fill="#e8c018" opacity="1"/>
<ellipse cx="357.31" cy="60.96" rx="0.92" ry="0.92" fill="#30b060" opacity="0.7"/>
<ellipse cx="375.19" cy="67.31" rx="3.23" ry="3.23" fill="#2a48b0" opacity="0.8"/>
<ellipse cx="374.61" cy="65.58" rx="1.38" ry="1.15" fill="#b84030" opacity="0.9"/>
<ellipse cx="376.92" cy="69.04" rx="1.04" ry="1.04" fill="#30a858" opacity="0.9"/>
<ellipse cx="373.23" cy="69.04" rx="1.04" ry="0.92" fill="#c89820" opacity="0.9"/>
<ellipse cx="375.77" cy="63.85" rx="0.69" ry="0.92" fill="#30a858" opacity="0.7"/>
<ellipse cx="388.23" cy="74.81" rx="1.85" ry="8.65" fill="#2c50c8" opacity="0.9"/>
<ellipse cx="385.23" cy="74.81" rx="1.27" ry="1.73" fill="#d8a820" opacity="1"/>
<ellipse cx="386.73" cy="80.00" rx="0.81" ry="1.04" fill="#b83030" opacity="0.8"/>
<ellipse cx="382.11" cy="82.88" rx="0.81" ry="0.81" fill="#d0a820" opacity="0.9"/>
<ellipse cx="379.23" cy="76.54" rx="0.58" ry="0.58" fill="#b89820" opacity="0.9"/>
<line x1="364.81" y1="75.38" x2="367.69" y2="95.92" stroke="#1a7088" stroke-width="0.5"/>
</g></g>
<line x1="201.90" y1="48.20" x2="210.50" y2="48.20" stroke="#a8a8a8" stroke-width="0.8" />
<line x1="246.40" y1="48.20" x2="255.00" y2="48.20" stroke="#a8a8a8" stroke-width="0.8" />
<line x1="290.80" y1="48.20" x2="299.40" y2="48.20" stroke="#a8a8a8" stroke-width="0.8" />
<line x1="335.30" y1="48.20" x2="343.90" y2="48.20" stroke="#a8a8a8" stroke-width="0.8" />
<line x1="201.90" y1="94.10" x2="210.50" y2="94.10" stroke="#a8a8a8" stroke-width="0.8" />
<line x1="246.40" y1="94.10" x2="255.00" y2="94.10" stroke="#a8a8a8" stroke-width="0.8" />
<line x1="290.80" y1="94.10" x2="299.40" y2="94.10" stroke="#a8a8a8" stroke-width="0.8" />
<line x1="335.30" y1="94.10" x2="343.90" y2="94.10" stroke="#a8a8a8" stroke-width="0.8" />
<line x1="201.90" y1="140.10" x2="210.50" y2="140.10" stroke="#a8a8a8" stroke-width="0.8" />
<line x1="246.40" y1="140.10" x2="255.00" y2="140.10" stroke="#a8a8a8" stroke-width="0.8" />
<line x1="290.80" y1="140.10" x2="299.40" y2="140.10" stroke="#a8a8a8" stroke-width="0.8" />
<line x1="335.30" y1="140.10" x2="343.90" y2="140.10" stroke="#a8a8a8" stroke-width="0.8" />
<line x1="352.10" y1="46.90" x2="388.60" y2="46.90" stroke="#c4c4c4" stroke-width="1.4" />
<line x1="352.10" y1="91.00" x2="388.60" y2="91.00" stroke="#c4c4c4" stroke-width="1.7" />
<line x1="352.10" y1="137.00" x2="388.60" y2="137.00" stroke="#c4c4c4" stroke-width="1.5" />
<rect x="174" y="16.4" width="11.80" height="11.50" fill="none" stroke="#9a9a9a" stroke-width="0.6"/>
<rect x="191.3" y="9.3" width="18.60" height="18.60" fill="none" stroke="#c8c8c8" stroke-width="0.6"/>
<line x1="183.70" y1="21.30" x2="193.00" y2="21.30" stroke="#f0f0f0" stroke-width="0.9" />
<polygon points="192,19.8 194.8,21.3 192,22.8" fill="#f0f0f0"/>
<rect x="306.8" y="16.4" width="11.90" height="11.80" fill="none" stroke="#9a9a9a" stroke-width="0.6"/>
<rect x="315.5" y="65" width="12.40" height="12.40" fill="none" stroke="#9a9a9a" stroke-width="0.6"/>
<rect x="327.5" y="120.2" width="12.40" height="12.10" fill="none" stroke="#9a9a9a" stroke-width="0.6"/>
<text transform="translate(169.90,12.80) scale(0.95,1)" font-size="5.9" text-anchor="start" font-weight="bold" font-style="normal" fill="#3a52c8" >DAPI</text>
<text transform="translate(199.40,12.70) scale(0.92,1)" font-size="4.8" text-anchor="start" font-weight="bold" font-style="normal" fill="#e8e8e8" >PMN</text>
<text transform="translate(214.60,12.80) scale(0.95,1)" font-size="5.9" text-anchor="start" font-weight="bold" font-style="normal" fill="#35b845" >MPO</text>
<text transform="translate(258.90,12.80) scale(0.95,1)" font-size="5.9" text-anchor="start" font-weight="bold" font-style="normal" fill="#d01c24" >GSDMD</text>
<text transform="translate(303.30,12.80) scale(0.95,1)" font-size="5.9" text-anchor="start" font-weight="bold" font-style="normal" fill="#e8c83a" >Overlay</text>
<text transform="translate(347.60,12.40) scale(0.93,1)" font-size="5.9" text-anchor="start" font-weight="normal" font-style="normal" fill="#f0f0f0" ><tspan font-weight="bold" fill="#e8c83a">Overlay</tspan> zoom</text>
<text transform="translate(166.00,29.00) rotate(-90)" font-size="7.3" text-anchor="middle" font-weight="normal" font-style="normal" fill="#231f20"  letter-spacing="0.5">Control</text>
<text transform="translate(154.10,96.90) rotate(-90)" font-size="7.3" text-anchor="middle" font-weight="normal" font-style="normal" fill="#231f20"  letter-spacing="0.15">PAM3CSK4 + LPS</text>
<line x1="157.00" y1="54.10" x2="157.00" y2="140.20" stroke="#231f20" stroke-width="0.7" />
<text transform="translate(165.20,75.00) rotate(-90)" font-size="7.3" text-anchor="middle" font-weight="normal" font-style="normal" fill="#231f20" >WT</text>
<text transform="translate(165.40,135.80) rotate(-90)" font-size="7.3" text-anchor="start" font-weight="normal" font-style="normal" fill="#231f20" ><tspan font-style="italic">Gsdmd</tspan><tspan font-style="italic" font-size="4.53" dy="-2.63">−/−</tspan><tspan dy="2.63"></tspan></text>
<text transform="translate(113.80,270.00)" font-size="7.3" text-anchor="middle" font-weight="normal" font-style="normal" fill="#231f20"  letter-spacing="0.35">Lung</text>
<line x1="18.00" y1="274.50" x2="209.60" y2="274.50" stroke="#231f20" stroke-width="0.7" />
<text transform="translate(66.00,282.00)" font-size="7.3" text-anchor="middle" font-weight="normal" font-style="normal" fill="#231f20"  letter-spacing="0.2">Sham</text>
<text transform="translate(160.20,282.00)" font-size="7.3" text-anchor="middle" font-weight="normal" font-style="normal" fill="#231f20" >CLP</text>
<text transform="translate(12.30,316.30) rotate(-90)" font-size="7.3" text-anchor="middle" font-weight="normal" font-style="normal" fill="#231f20"  letter-spacing="0.45">Wild type</text>
<text transform="translate(13.00,392.00) rotate(-90)" font-size="6.6" text-anchor="start" font-weight="normal" font-style="normal" fill="#231f20" ><tspan font-style="italic">Gsdmd</tspan><tspan font-style="italic" font-size="4.09" dy="-2.38">−/−</tspan><tspan dy="2.38"></tspan></text>
<clipPath id="ch0"><rect x="18" y="285.5" width="96.5" height="63.3"/></clipPath>
<clipPath id="ch1"><rect x="115" y="285.5" width="95.5" height="63.3"/></clipPath>
<clipPath id="ch2"><rect x="18" y="351.3" width="96.5" height="63.3"/></clipPath>
<clipPath id="ch3"><rect x="115" y="351.3" width="95.5" height="63.3"/></clipPath>
<g clip-path="url(#ch0)" filter="url(#b3)">
<rect x="18" y="285.5" width="96.5" height="63.3" fill="#f6f4f9"/>
<path transform="scale(.1)" d="M617 3209q7-4 14-7M358 3179q-7-8-13-6M267 3368q-2-5 7-10M811 3245q3 4 5 8M364 3008q8 2 17 2M681 3260q-10 0-15 1M1143 3485q5-8 6-14M459 2899q1-8 6-11M1105 3391q6 0 9 6M1126 3107q8 4 10 10M264 3066q10-2 12-8M949 2967q-7-3-15 1M306 3262q6 5 12 5M1117 3364q-4 11-1 16M1004 3261q10 7 15 6M926 3063q-2 5 4 10M415 3236q-6 6-12 3M734 3404q2 5-4 12M421 2975q-1-12-9-18M1031 3237q-5 3-3 13M410 3301q0 11-2 16M349 3311q6 3 14 8M773 3032q5-3 4-9M610 2893q3 7 5 11M529 3419q9-1 17 2M197 3431q-4-11-12-11M645 3317q-5 11 0 16M891 3425q-1-10 6-17M520 3289q9-6 15-13M1013 3218q-5-5-9-12M257 3260q11 0 16 3M889 3223q-10 4-10 13M209 3236q-6 1-13-2M773 3438q0 5 4 12M375 2962q8-5 15-12M496 3277q3 7-2 16M1029 3098q-6-4-12 0M988 3392q-3-11-7-15M615 3029q2 8 1 15M484 3386q8-1 9-5M1022 2881q-2-9-9-15M619 2871q3-6 1-9M787 3138q-7-7-5-17M841 2981q-6 1-6 8M869 2968q-1 7-6 13M773 3334q-8 7-12 4M1080 3312q6 6 9 15M544 3215q8-7 14-4M809 2985q-2-11 0-19M386 3425q12-1 21-2M489 3431q5-6 1-12M711 3341q-5 0-8-3M952 2964q-5 9-3 13M678 3313q5-8 12-7M1096 2909q2 8 8 15M797 3186q5-7 5-14M996 3425q3 11-4 14M733 2982q-8-2-12-4M1115 3182q-9 6-15 9M847 2897q-8-2-8-12M440 3155q6 6 4 15M640 3056q3 9 0 12M932 2869q2 6 1 12M523 3247q8 6 15 3M422 2980q-8-2-14 0M691 2956q3 9 2 16M1001 3242q4-5 13-7M1051 3055q-5 11-1 20M1036 2940q1 10 4 13M983 3122q1-6 1-14M838 3432q6-1 14-3M665 3289q2 5 6 5M712 3181q-5-2-10 0M991 3482q5-2 4-12M626 3339q-4 7-7 13M760 2863q-3-10-10-13M893 3112q2 6 3 10M1042 3362q-3-11-3-17M759 3174q11-1 17-8M898 3347q3-7 13-8M850 3341q1-8 4-11M510 3152q7 0 15 4M404 3453q-4-6-4-14M694 3102q9 0 17 5M1126 2869q-8-7-14-7M229 2979q-4 4-5 14M711 3176q9-2 12 6M961 2903q-8-6-16 0M334 3154q4 7 5 12M1092 3121q-9-2-15 0M812 3210q-2 10-1 14M416 2882q6 9 13 15M902 2887q12-1 15-10M594 3157q6-1 16-2M877 3151q11-1 15-1M782 3143q1 5 2 10M607 3278q-6 2-13 2M931 3191q12 0 16 3M290 3420q2-9 1-15M841 3213q-8-5-9-10M420 3475q10-6 9-10M441 3124q-4-4-7-7M263 3283q-9-3-16-3M383 3073q0-11-5-12M961 3250q1-6 0-12M962 3089q-7-10-13-13M900 3438q-7 3-7 13M724 3162q-3-6-1-11M386 3274q6 3 10 11M453 2945q-6 8-8 12M864 3215q10-6 16-2M955 3048q-3 7-13 6M420 3084q-5 6-8 11M368 3212q3-8 10-11M350 3335q5-5 1-11M705 3214q9-2 13 1M708 3354q5 3 8 12M262 3256q6 8 8 13M393 3339q-10-1-16 0M1114 3281q-9 0-16-4M1063 3115q4-9 14-9M985 3418q9-2 17-4M954 3122q-5 3-15 1M542 2961q2 8 10 14M237 3050q7 6 8 11M240 3145q-10-6-13-2M358 2993q1 10 0 15M359 3033q5 9 11 13M969 3159q-1 11-7 13M708 3461q-6 1-8 11M953 3099q-8-1-18 3M815 3005q8 1 17-2M868 3239q3 5 8 8M1019 3182q-8-9-15-11M325 3343q11 0 16 8M260 3026q-1-5-3-12M1102 3226q4-5 11-6M1065 2913q3-6 7-12M332 3382q-3 7 2 11M631 3308q-6 8-4 13M626 3467q5-8 0-13M865 3005q-7-3-13 5M951 2986q-5-5-12-7M468 3069q-7 6-9 11M886 3064q8-3 14-1M978 2913q3 4 5 13M354 3110q5-8 2-12M332 2934q-4 3-10-1M674 3265q1-11 0-17M578 2865q-8 6-15 0M817 3240q7 1 15-2M283 3094q-10-1-15-7M333 3340q7-5 11-11M317 3307q8-1 17 4M370 3453q-4-4-10-2M736 3296q-5 10-6 17M300 3471q7 9 12 15M721 3022q10-6 18-4M298 3377q-3 11 1 18M982 2972q-5-2-8 3M1132 3450q-4-6-5-15M548 3230q2-5-2-11M318 3100q-5-3-10-5M728 3065q-3-4-4-9M1106 3235q-8 1-16 0M912 3331q-12 1-18-6M575 3130q-10-5-17-8M597 3427q-2 5-11 9M886 3233q0-7 1-11M300 3138q-8 0-10 8M688 3006q-3 7-1 11M1059 3467q-6-10-12-16M394 3328q-10-5-17 1M299 3195q5-1 8-7M493 2895q8-7 12-12M745 2884q11 2 18 0M1081 3474q-6 1-13 8M1045 2979q4-6 6-11M1029 3485q3 9 12 13M880 3053q9-6 14-7M852 3449q-5 2-8 7M866 2979q3 6 2 15M539 3274q7-6 7-12M1074 3277q-2 9 7 15M605 3189q-5-1-10-4M422 3363q6 4 8 9M449 3202q4 10 1 13M625 3330q-9 8-12 11M717 3263q-6 7-13 8M668 3390q-3-8 0-11M932 2960q-5-4-13-8M939 3356q1 8 7 13M661 2877q-8-6-15-13M354 2951q8 1 15 0M434 3360q10 5 16 10M944 3006q4 6 10 3M779 3188q-1 9 7 14M346 3016q5 8 2 17M239 3115q-4 5-8 3M652 3337q6-1 14-2M218 3007q4-4 8-9M590 2903q12 3 17 10M402 3015q-6-2-16-4M531 3068q9-1 10-8M807 2892q-5 8-13 8M1035 3148q-9 7-13 14M388 3075q4 8 9 9M387 3151q-3 7-11 6M1013 2985q-4 4-10 5M445 2867q3 6 9 13M870 3025q-4 5-10 2M919 3313q4-3 7-8M260 3414q-5 9-7 13M560 3006q6 1 9 4M481 3123q-6-2-9-6M880 3277q4 5 12 8M571 3100q4-5 5-11M388 2881q9 1 18 4M1121 3044q-5-10-14-12M823 3460q4-5 9-7M593 3103q7 3 14 2M450 2955q-7 5-7 13M411 2914q-4 7-1 14M857 3205q-2-5-5-10M241 3111q8 3 14 7M494 3015q7 1 10 8M433 3278q3 8 4 18M530 3220q10-4 18-4M577 3118q-2 11-8 13M1058 2879q6 6 12 8M1123 2950q2 6 1 11M181 3199q-5 4-11 9M709 3250q-10-4-9-10M515 3416q-4 9-11 14M1110 3377q5 8 9 14M537 3036q0-9-4-13M494 2968q-6 0-8 4M279 3301q6 5 7 12M337 3403q4-4 4-11M949 3103q-1-6 1-12M502 3336q6-9 11-14M862 3249q5-9 2-15M826 3001q2 4 4 14M1116 2940q-3-7-3-14M1081 3481q9 3 13 0M456 3318q6 0 9-2M704 3161q-5 5-14 5M454 3103q-8-7-4-13M850 3201q2-6-1-9M1081 3014q-6 0-9 3M726 2946q-5-5-12-5M533 3019q5 2 6 8M256 2971q-12 1-18 9M647 3117q3-7-3-12M814 3249q-2 11-12 15M608 3383q-1-6-6-6M526 3332q-3 8 1 11M1106 2862q-10-2-15-9M565 3363q5-9 9-8M1097 3110q-2-6 1-9M737 2999q-6 5-15 7M532 3259q-4 5-10 4M271 3067q0-6 4-12M836 2967q5 4 11 5M189 3173q-6 4-15 9M378 3412q-4 9 2 17M595 3464q1 8 0 12M444 3284q7-2 9-8M1135 2949q-5-6-7-11M775 3417q6-7 11-13M290 3385q-3-7-2-14M551 3001q-7-5-10-8M785 3138q-8-5-6-10M632 3483q-1-7 5-16M568 3404q8 9 12 12M991 3266q10-4 17-1M1139 2896q7-7 7-16M618 3194q4-5 5-13M251 3206q2-8-2-16M1005 3343q-11-3-13-8M533 2919q7 2 10 11M293 2970q-8 7-17 11M249 3480q3 9-4 15M370 3278q-4 2-8 7M788 3031q-8-6-12-5M849 3150q4 4 0 11M525 2979q10 0 15 3M479 3113q6 7 13 13M575 3144q-12 0-19 3M407 3222q-2 11 1 20M833 3143q7-3 15-1M613 2896q-6 3-14 10M463 3295q-3-6-6-9M1044 3014q-6 3-15 0M750 3201q9 7 15 3M541 3313q-4-6 2-15M202 3256q-7 1-13 3M827 3238q12-2 14 4M980 3266q-4-11-11-12M567 3270q2 12 8 15M318 3105q0-5-7-10M781 3325q0 11-6 18M295 3152q11 1 13 11M203 3077q-8-2-14 5M471 3176q6 6 11 5M674 3041q1-6 1-11M390 3141q-8-3-9-7M1000 2953q8-2 16-5M1014 3465q-4 3-5 12M889 3306q5 7 9 6M470 3467q-7-9-13-6M256 3020q9 7 16 9M811 3416q8-3 18-6M561 3044q0-7-3-13M640 3082q-7 3-6 13M240 3189q-7-2-11 0M539 3054q-6 1-12-3M189 3112q5-1 15-1M533 3234q-5 5-11 9M484 3170q-10-1-12 3M423 3026q2-8 9-9M456 3285q10 6 11 12M486 3374q2-9-5-14M226 3250q-11-4-14-6M1082 3331q-4-2-7-8M836 3478q5-3 11-1M905 3094q-8 3-9 9M889 2900q8 7 11 14M289 2930q-4 11-9 19M384 3118q-11-2-17 5M636 2875q-7 3-17 3M656 3291q-8 7-6 15M341 3226q2 7 8 9M751 3184q-7 6-13 4M743 3159q7-1 12 1M432 3317q-6-3-13 3M544 3309q-8 4-18 6M1058 3144q-6 1-10-2M476 3391q10 2 16 5M501 2951q10-3 14-1M937 2993q3 8 3 13M918 3224q9-7 16-7M1098 3310q-3 11-7 14M420 2868q-6-2-12 0M307 3162q-1 7 2 13M1023 2956q7-8 13-13M888 3193q-6-10-5-15M232 3448q-7 8-7 15M538 3317q8-3 14-4M404 3456q9 7 11 11M1050 2920q-5-2-4-8M1022 2894q-3-5-10-3M1128 3289q6-8 9-12M689 2972q-7-1-12-2M860 3119q-5 0-13 1M1119 3210q5 5 12 8M1086 3473q11-4 19 3M199 3165q-8-5-13-11M1081 2910q-12-1-13 3M1019 3461q5 1 9 8M682 3222q0-11-4-12M946 3472q4-7 4-13M194 3343q-1 9-2 15M831 3143q1 11 5 14M425 3158q2-7-3-14M431 3186q0 11 4 15M471 3064q-1-10 3-15M256 3338q0 6 3 16M538 3081q10-6 13-10M942 3350q-6 9-7 15M753 3324q-11 2-11 9M547 2896q5-3 7-12M1107 3445q-6 10-3 17M1093 2977q6 7 3 15M1096 3142q-4 4-5 14M249 2972q-3 4-3 9M298 3189q-9-2-13-8M1094 2907q1 5 7 12M1072 3174q4 6 6 12M945 3471q-9 2-14-2M364 3453q5-1 10 3M347 3321q1 5 9 10M662 3268q-6 1-6 7M220 3020q-5-5-12-10M486 3081q7-6 11-12M624 3065q6-3 13 3M1031 2958q-12-1-16 2M878 3004q-5-3-4-9M274 3290q-5 7-11 15M676 3095q8 0 15-4M790 3148q7 4 14 8M1116 3032q-5 2-10-1M980 3360q0 11-1 18M716 3454q-8 1-16 6M665 3072q2 6-3 14M1124 3436q-4-10-2-19M953 2967q3-6 0-16M202 3179q-6 9-13 15M1080 3263q9 4 17-3M1021 3052q4 9 1 19M781 2934q-1-5 6-11M938 3408q-11-5-15-10M551 3079q6 1 9 5M811 3346q-3-8-7-12M361 3265q-5-11-12-17M1060 3039q9-3 14 5M502 3032q-8-1-12 8M697 3154q0-7-6-12M413 3062q5 2 12 2M1096 3260q-7 4-9 11M1105 2932q-9 4-16 2M799 3449q5-4 15-9M689 2975q1-5-5-10M443 3311q-1-7 4-14M861 3144q-5 2-14 7M1037 2891q6 3 10 9M303 3124q-9-5-17-6M837 3245q9 3 13 0M637 2866q7 3 11 5M1100 3394q-9 1-17 7M296 3048q2 11 3 17M565 3417q0 10-5 16M533 3132q-7 2-13 2M473 3344q-8 2-13-3M543 3423q10-2 18-5M895 3043q-2-11 0-19M600 3269q2 10 2 20M510 3305q8 1 11 5M772 2995q-10 7-10 17M238 3224q5-10 6-17M867 3337q0-9-6-15M722 3200q6 0 10 3M881 3457q-1 9-3 16M341 3251q8-6 10-15M585 2947q-6-5-14-12M730 3459q-6 8-3 13M848 3292q4-7 3-13M699 2870q-7 7-6 13M1022 3446q0 6 4 8M946 3323q-1 8-3 12M970 3399q2 10 0 15M1028 2993q-7 1-16 4M730 3241q6-1 12-7M325 3465q-4 7-8 15M1063 3284q3 6 3 12M1032 3407q1 7 8 13M225 3295q10 4 17 8M521 3478q-9-6-13-4M200 3296q3 6 3 15M491 3151q-2 9-1 15M420 3040q0 5 3 12M439 2927q5-7 8-12M1036 3332q-7-7-9-14M579 3102q-8 0-16-1M941 3420q1 5 4 8M948 3248q-1 6-10 9M840 3293q0-8-3-15M1030 3483q9-5 9-11M1117 3199q-7-1-10-7M1136 2903q5 0 8-6M797 2925q-11-4-19-6M751 3224q4 7-1 14M389 3138q-7-2-14-6M814 2991q9 5 19 4M719 2919q-4-5-3-14M912 2891q10 2 14-2M637 3461q-3 6-8 7M793 3244q5-2 11-3M975 3015q-1-6-4-16M412 3032q8-5 8-10M409 3039q6-8 13-5M786 3098q-2-8-9-9M551 3191q5 2 4 8M498 2949q-10-6-16-4M662 3340q-6-3-14 1M255 3402q6 1 15 2M778 3327q1-10-8-13M323 2958q5 1 7 7M997 3236q4-3 4-8M364 2926q3 9 8 11M697 3093q5 7 9 12M638 2880q-5-4-9-5M1037 3227q-7 5-11 3M550 3303q-7 7-11 6M455 3040q0-10 5-19M359 3104q6-8 2-18M895 3403q-6 7-15 3M737 3418q11 0 20 4M319 3111q-5-2-7-6M787 3032q-4 8-1 15M1007 3480q-1 7-4 12M999 2981q-7-3-9 1M182 3063q-2 12-4 16M871 3002q-10 1-16-7M586 3056q-6 4-13 4M842 2951q2-12-2-18M579 2971q-1-9 3-18M215 3146q4-9 10-16M539 2927q-3-4-7-4M336 2895q-6-1-14-5M512 2931q-5-9-1-15M742 3401q-5-11-13-15M791 3152q8 1 15-4M672 3178q5 2 12 7M1136 3357q-2 8-4 17M561 3438q-8 1-14 2M1145 2884q-4 3-9 4M324 3123q-8-6-13-9M535 3417q1 5-4 9M308 2941q8-6 5-14M386 3137q-4-3-2-9M319 3349q4 3 7 9M1049 3356q1 5 1 12M471 3435q2 9 12 10M1096 3246q-4 9-13 9M219 3174q6 7 0 15M420 3204q-2 5-10 9M505 3121q-3-9-5-14M272 2962q4-7 9-11M536 2966q9-1 12-9M757 3243q1-9 11-13M572 3265q-5 6-9 13M520 3078q6-9 14-13M553 3262q0 7 8 11M1069 3047q-4 4-3 12M1041 2908q0 10 6 17M520 3155q2 7 5 12M884 2874q-7-8-12-10M944 3237q8 1 14 3M214 3121q-7 9-10 19M1018 3219q7 8 15 5M576 2954q9 0 14 8M911 3264q-10 2-15 0M691 3117q-10-1-16-5M941 3377q5 3 9 0M1105 3051q-8 3-13 4M931 3065q6-9 1-14M270 3415q6 3 9 10M824 3116q-6-1-12-1M832 2923q4 5 8 11M183 3480q4-6 0-15M1123 2968q0-11 5-12M296 2959q1 11-5 15M303 3078q1 9-4 17M602 3144q-7 1-15 4M866 3062q-5-2-10 2M527 2876q7 4 5 13M209 3055q-5 5-3 13M990 3097q2 5 11 3M403 3313q1-5-2-10M922 3321q-3 8-2 15M946 3021q4-11 10-19M1085 2963q6 0 10 3M472 3135q5-8 3-18M1015 3178q7 2 13 0M1090 3232q2-5 0-13M509 2999q5 2 12 3M566 3213q-1 5-5 9M654 3094q-1 5 2 10M644 2867q5-5 10-11M938 3207q-7 0-13-4M945 3384q8-6 15-7M695 3222q-11-2-12-6M906 3245q-9-7-15-2M542 3455q5 8 13 8M652 3321q-4 10 1 13M888 3411q1-7-6-11M886 2893q8-3 7-10M506 2921q9-8 7-14M444 3281q6 5 12 8M600 3232q11-4 17 2M400 3010q-9 2-15 2M1137 3053q5 1 12-5M991 2881q1 7-6 14M434 2920q12-2 18 0M901 3341q-7 0-15-1M493 3260q7 9 13 10M1107 3456q10-5 18 0M727 2902q-1-11 2-14M239 3317q-11 1-13-6M832 3276q-3-7-2-11M1049 3313q3-8-1-14M837 3202q4 3 9 5M399 2995q-8 5-15 0M200 3404q-8-6-11-12M507 2900q-3-4-3-14M825 3239q4-11 14-14M624 2864q-7-6-6-14M531 2858q5-8 12-6M1003 3344q8 0 11 5M191 3061q-7 10-9 15M847 2917q-3 7 2 13M588 3363q-6 10-4 17M398 2864q-4 11-2 18M686 3023q-5-1-11 0M967 3342q-3-9 3-15M902 3387q10-1 14-7M782 3238q8 9 11 13M1127 3099q9 4 14 3M472 3239q-4 9-14 9M1038 3438q0 11 7 14M1096 2935q-2-8-11-8M239 3416q3-8 5-12M855 2880q-11-2-15-5M876 3299q-5 9-9 14M687 3030q-3 11-1 20M534 2975q12 0 20 7M748 2894q3 4 4 12M1102 3042q1 6 4 8M656 3121q-8 9-10 18M694 2920q9 2 10 6M857 3002q-4-10-3-15M331 3467q10-6 14-8M536 3431q6 3 13-4M521 2907q-4 5-8 12M815 2916q-5-1-14-2M433 3376q0 8-3 10M715 3195q-3-11-1-16M372 3160q-2 9 5 14M582 2887q8 8 7 17M556 3478q5 9 1 13M261 3364q-6-5-14-2M312 2940q-8-5-9-14M312 3047q5 7 14 3M838 3367q-11 1-17-6M958 2992q-3 4-10 6M1132 3038q-10 5-16-2M1032 3440q-1 9 6 13M1099 3175q5 7 12 5M257 3119q4-9 11-10M606 2890q2-9 2-14M622 2895q4 4 8 6M978 3241q6-7 5-12M990 3225q-6-7-11-6M596 3389q8-3 11-7M719 3114q6-3 7-7M208 3366q4-4 0-11M418 3244q9-5 12-13M459 3336q-1 11-6 19M514 3459q-6-3-9-8M769 3008q8 6 17 3M443 3085q10-4 19 1M763 3447q-6-6-13-8M730 3011q-7-9-7-14M207 3087q-10 4-17 6M765 3205q-4-8-5-13M299 3133q9-8 11-15M680 3142q5 9 10 9M449 2984q2 5 3 10M800 3235q-6-6-9-11M628 3291q2 10 2 20M775 3202q1-7-1-13M889 3310q5 11-1 15M1141 3248q-4 4 0 10M873 3245q2-8 8-13M792 3202q-4-8-13-7M859 3126q8-2 11-8M526 2960q5-4 10-4M679 3486q9 6 16-2M1057 3139q-5-6-12-6M606 3406q7 6 13 10M945 3234q-5 10-9 15M708 3404q9 3 15 4M334 3002q-7 3-13 4M778 3155q3-10-1-19M707 3067q0 10 1 18M427 3400q-1 11 0 18M737 3186q-8-3-9-11M269 3480q5 1 8 5M658 3389q6 1 7-3M484 3166q9-2 15 4M1059 3281q0 7 1 12M1072 3161q3 8 0 13M747 2913q0 6 1 15M399 3291q-9-5-7-11M1142 3143q-6 0-10 7M261 3198q2 6 0 13M322 3285q9 0 17-2M858 3386q1-6 5-9M304 3176q4 8 12 13M598 3371q8-3 14 0M565 2934q-6-10-7-16M687 3081q-8 7-5 13M674 2948q-1-7-3-12M757 3128q-3-7 0-14M281 3166q0 7-7 9M893 2954q-4-4-9-4M204 3429q7-2 7-10M820 2884q1-5-5-12M920 3003q-11-1-17-3M358 2898q3 8 4 15M794 3212q-5-6-3-13M1030 3479q5-9 11-13M419 2920q-3-6-5-13M766 3127q0 7-4 16M488 3054q-7 3-16 2M921 3367q-2-12-4-18M809 3054q4-7 8-13M531 2862q-1 8-6 9M1051 3471q2-7-7-11M246 3044q9-4 17 1M352 3174q6 4 14 9M459 3277q4 5 11 3M746 3306q-10 6-18 5M1023 2969q-2 8-8 17M835 2884q8-3 11-11M786 3396q-6-2-13-4M520 3223q4 5 8 5M687 3322q-9 6-17 9M456 3424q-6 9-5 19M839 2968q-1-6-3-12M503 3084q4 7 13 5M521 3306q-11 5-18 0M992 3433q7-3 11-4M532 3063q-3-3-4-8M588 3162q5-8 2-15M407 3246q-10 6-14 10M479 3461q-4 5-9 12M1088 2905q-5 9-9 16M831 2913q6 2 11 1M457 2927q8 1 12 5M271 3316q5 3 10 5M937 3175q-7-1-11 7M556 3378q6 5 10 8M252 3447q11-5 20-7M760 3157q4 8 9 15M221 3041q8 7 12 10M934 3185q-2 7 2 9M215 3464q6-6 13-3M838 2921q-8 4-15 9M511 3270q2 8 5 15M233 3008q-1-6-4-16M768 3320q2-12 0-18M908 2871q-7 1-15 2M1011 3176q-2-5-1-15M774 3165q-8-1-11 3M947 3181q9 2 12 10M354 3458q4 8 6 12M438 2973q3 4 3 13M423 3457q-7 4-13-2M630 3328q0-7-9-10M902 3235q8 7 17 5M780 3258q7 3 9 8M217 3117q6-7 5-12M988 3388q-2-6 0-10M346 3058q5-1 8-10M916 3025q10 5 8 15M726 2909q-1-9 6-15M665 3473q-8 2-17 1M747 3451q-2 11-7 13M208 3236q-9-8-14-15M913 2962q-4-7-10-8M530 3320q-7-2-12 5M907 3384q1-5-1-12M467 3377q1 5 3 9M208 3239q-7-5-13-1M685 3048q1 6 2 12M745 3282q-1 9 3 17M377 3231q-1-11-1-20M1132 3357q-4 5-8 8M351 2915q-4-6 0-14M693 3071q-2 5 4 12M468 2860q7-1 13 3M1115 2906q-9 2-10 11M507 3284q5 3 12-3M1089 3435q-5-1-9-7M935 3256q-6-2-9 0M597 3038q5-1 9 1M280 3439q2 9 1 15M518 2944q-3-7-3-16M253 3123q-7 9-11 12M622 2864q-5 0-10 5M699 2990q-6-4-8-7M992 3139q3 6 4 11M1060 2995q-5 3-12 9M360 2968q-9-3-13 1M763 3007q10 2 13 10M1005 2990q-3 8-9 15M714 3003q0 5 8 7M263 3410q6-1 10 5M186 3098q-5 5-2 10M197 3139q-6 1-11-8M662 3362q-6 8-12 9M894 3077q4 7 12 7M423 3170q3-8 12-9M848 3324q-4-11-5-19M711 3193q6-3 9-9M481 3307q-3-4-11-4M562 3285q-5 1-15-2M269 3245q-7-6-12-11M1135 3407q-10 4-19 4M1143 2900q2 6-5 14M398 3162q8-6 16-11M1071 2913q7-1 16-1M464 3049q9-6 12-3M784 3323q10-3 13-6M347 3019q-6-3-10-1M842 3371q6 6 3 11M696 3368q11 2 16 9M511 3166q5-2 5-10M1099 2949q3 8 0 14M817 2888q3 9 1 13M267 3054q-6 4-7 8M803 3459q-8-9-15-7M532 3391q-8-5-5-15M312 3132q8 5 16 3M523 2860q4-4 6-11M235 3344q-1-6-1-10M692 2914q-2 8-4 16M1075 3067q-4 5-10 7M384 2977q-10 5-17 11M635 3223q0 8-3 11M618 3015q-2 7 2 13M219 3006q-1 6-8 10M1037 2939q3 7 6 15M985 3399q5 1 11-2M186 3077q8 8 14 8M349 3392q6 5 12 5M1140 3307q-1-7 9-11M793 2999q8 3 17 5M1143 3372q1 12-1 16M381 3462q3-10 6-13M1084 3044q1-9 2-16M1066 3384q-9 7-9 13M490 2885q-4 3-11-3M642 2894q-1 10 1 14M592 3221q5 5 10 13M573 3483q0 10 9 14M706 2965q4-10-1-18M1105 3080q3-10 5-16M482 3371q2-11-4-15M861 2993q11 1 16 8M501 3132q2-5 9-10M627 3458q-8-8-14-8M462 3170q0-12 9-16M1121 3319q0-5-3-12M282 3426q-5 5-2 12M505 3455q-5-6-10-5M844 3242q-8 0-18 3M234 3001q2-7 1-13M466 3336q7 5 9 11M884 3080q-4-4-11-6M770 3149q8 2 10 7M381 3248q1 5 8 8M1031 3343q-9-6-10-12M548 3471q9-3 15-3M268 3063q1 9-1 17M1059 2855q2 5 7 13M631 3361q3 7 1 12M885 3234q-3-4-11-10M542 3031q9 0 15 4M782 3102q-1 7 4 14M669 3482q2-9 6-13M673 2866q-5-1-8 3M513 3156q1 5 11 8M1130 3433q4 5 3 9M324 3266q11-3 16 2M888 3448q10-7 19-6M857 3123q-10-5-14-8M612 3406q-2-8 5-13M396 3299q3-4 10-1M998 2863q-3 6 0 14M948 3266q5-3 7-9M945 3322q11-1 20 0M970 3184q-5-10-2-14M209 3303q2-6 11-7M339 2953q-5-8-15-8M388 3383q5-2 13 0M1063 3136q-6 3-11 1M1059 2877q4-3 14-4M490 3229q-5 3-11 0M954 2878q3 6 2 9M202 3094q-8 7-14 6M896 3081q1-9-5-13M589 3146q-9-3-16-4M978 3286q2 5 10 11M554 3412q10-2 17-7M664 3458q-9 0-16-4M352 3215q-9 4-14 3M537 3017q8-2 18-6M935 3399q-6 0-10 1M566 3140q-12 2-17 2M353 3285q-8-1-14-1M834 3230q8 3 15 0M627 3337q10-2 17-1M289 3317q2 7 3 13M1013 3201q5-1 11-2M735 3265q-10-6-16-9M904 3206q-1 11 1 15M699 3431q7-8 13-13M461 2959q-10 4-20 6M952 3199q-7-4-5-13M352 3426q-3-7-2-13M849 3174q-8-8-5-15M554 3308q-3-5-5-10M805 2961q-2 6 0 14M1013 3261q-6-8-12-12M809 2986q0-11 4-13M1064 2997q6 7 11 9M767 3195q-8-2-16-7M876 3302q4-7 7-10M259 3142q-3-6 2-10M654 3152q6-1 11-7M530 3072q8 8 14 13M417 3447q8 6 14 2M494 3457q-10 4-9 10M1132 3089q6 2 14 1M548 3048q-8 1-12 8M737 3218q-1-8-8-15M294 3047q-7 4-9 13M472 3201q-4-4-9-6M703 3317q7-9 4-15M823 3092q8-3 11 0M555 3296q4-7 13-7M579 3303q-6-1-9-9M1041 3004q1-5 2-11M668 3097q-8-2-12-10M448 2981q1 7 3 14M918 3477q0 7-1 11M793 2879q-7-5-17-8M481 2866q5 4 7 13M521 3414q3 6 6 12M943 3050q8-5 15-6M384 3212q5-2 9-6M426 3343q-3-5-4-14" fill="none" stroke="#7566b8" stroke-width="6.5" stroke-linecap="round" opacity="0.8"/>
<path transform="scale(.1)" d="M638 3271q-3-4-8-3M444 3368q-3-7-4-14M320 3134q5 8 13 7M252 3290q-4 6-7 6M239 3434q-5 0-6-9M289 3123q4 5 6 9M852 2888q4 8 9 12M755 3157q-3 3-12 4M1122 3275q-4 5-11 8M290 3004q-5 6-11 6M207 3376q-7 3-9 9M555 3344q6 5 13 3M216 3030q-5 7-1 12M381 3033q-10 2-19 3M342 3440q-4 4-12 5M186 3025q1-6-1-9M219 3247q10-1 14-1M491 3353q4-7 3-13M641 3252q-1 10-5 12M461 3408q-2 10-3 17M860 2991q-1 6-6 11M307 3416q-5 3-12 8M720 3250q9-5 15-4M748 3425q2-8 1-13M890 3212q9 1 11 8M1046 3431q-9-2-13-2M521 3053q8-3 14-5M300 3193q-2-6-7-9M492 3289q3 4 10 6M913 3272q6-3 5-9M608 2969q-3-6-8-7M1091 2860q-4 5-3 10M393 3437q-9 0-12 5M765 3389q0 7-7 12M400 3196q0-7 4-13M1118 3206q-3-6-2-11M662 3083q-2 5 1 11M423 2884q2-6 9-6M555 3408q5-4 4-11M993 3240q1-7 4-11M573 3095q-5 4-9 4M378 3016q7-1 8-9M1023 3375q-6 7-6 11M1015 3382q2 9 8 9M338 3308q-2 5 1 10M1012 3239q7 5 11 9M689 3267q2-7 6-12M792 3101q-6 4-11 3M1072 3166q5-7 12-4M592 3112q-7-6-7-10M188 3013q6 6 11 13M1107 3328q4-1 8-9M639 2986q0-7 1-12M413 2910q-8-6-5-13M1081 3084q-3 10-7 16M192 3000q-9 1-14-5M508 3097q7-8 10-12M783 3194q-4 4-6 11M302 3197q8-3 12-8M279 3322q-4-4-7-10M737 3095q-2 6-8 5M665 3146q3 6 8 7M534 3076q6-2 10-8M563 3181q-3-4-3-8M421 3368q8-1 12-6M453 3387q1 5-1 12M749 3158q7-2 10 3M629 3083q-2-9-7-12M881 3172q-4-7-4-12M476 2871q7-6 12-13M1051 2951q4-6 4-11M579 2888q5 2 9 1M298 3382q-5 5-13 9M321 2999q6-8 12-6M534 2974q8-5 15-8M432 3193q4-3 8-4M988 3386q-4-5-10-3M527 3108q9 5 14 8M993 3422q-7-2-9-8M1049 2870q2-7 7-15M392 3113q3-8 6-16M834 3405q-4-5-8-7M1121 2944q-4-3-2-9M351 3378q7-8 6-14M818 3034q-8-4-11-11M905 3036q0-7-3-9M780 3082q6 4 11 6M726 3196q-10-2-12-7M1021 3054q4-2 10-9M818 3302q1 5-2 7M349 3128q4-8 11-6M602 3432q-2 4-10 3M817 3159q2 5 6 6M642 3422q7-3 13-3M929 3302q9-1 16 2M343 3154q-5 2-7 7M350 3250q-5 9-10 13M599 3103q3 10-2 15M807 2946q-5-1-12 0M344 3003q-1-7 3-10M265 3449q-7-5-10-9M1124 3169q4-3 7-9M419 3399q0 5 4 8M1095 3411q-3-6-11-4M302 2982q-9 4-10 8M1056 2860q-1-5-3-9M604 3438q4-6 2-10M465 3358q4-2 9-10M326 2906q-1 10 3 16M295 3272q4 7 2 15M601 3478q-8 6-16 1M282 3028q-3-9-10-13M640 2858q4 2 12 0M836 3401q6-3 13-3M848 2914q4-3 9-9M899 3378q-2 6-6 8M1023 3055q-5 4-9 4M306 3249q4 0 10-1M479 3073q5 4 9 4M310 3442q-2-10 3-16M399 2924q8-1 12 1M944 3194q5 3 3 10M904 3078q-5 1-8 6M592 2973q4 6 8 5M637 2887q-1-9 3-17M340 3122q-4 2-7 1M1129 3283q5 0 9 7M931 3222q-4-6-2-12M708 3111q-5-6-2-13M498 3311q1 7 1 15M356 3247q4 7 1 12M396 3233q-6 4-7 11M513 3479q-8 0-12-8M201 3442q8 6 9 11M870 3211q-8 2-14 5M851 2859q-6-7-3-13M702 2947q3 9 12 9M299 3098q-3-3-10-8M551 2966q9 4 15-1M795 3032q-8-3-12-1M1072 2986q-7 1-13-5M917 3251q-5-1-10-4M909 3093q5 5 4 11M825 2891q1 6 2 10M1092 3065q6 0 13 0M966 2910q9-2 16-3M476 2949q10 1 13 6M761 3157q-2-4 0-9M750 3249q5-7 2-14M541 3212q3-10-1-14M483 3391q-8 6-14 5M917 3285q4 4 12 2M562 3045q-2-10-9-13M400 3356q0-9 1-13M1002 2925q-9-5-15-4M832 3264q-3 6-11 6M348 3285q5-6 10-6M459 3403q0 5 7 10M974 2980q0-5 1-9M737 3330q-8 0-11 5M936 3091q0-8 5-13M474 3373q3-6 8-9M736 3061q-6 1-10-4M772 3186q-5 1-11 0M512 3180q6 6 5 12M336 3468q-5-4-11-2M392 3424q-1-6-3-9M397 3208q5-5 9-2M280 3386q-4 4-8 10M392 2922q-7-5-10-8M1011 3127q-9-3-14 2M589 3259q1 6 6 10M470 3442q6-6 10-13M734 3350q5-1 12 2M571 3071q10 2 13 0M266 3181q-4-9-4-13M1077 3407q3-9 11-11M920 2869q4 0 11-2M672 3070q-6 0-9-2M513 3267q-4 1-12 4M684 3317q-8 7-14 12M784 3370q-8 6-14 1M1056 3086q-5 8-12 9M720 2862q-4-2-9-4M766 2955q-4 8-7 11M1130 2869q-7 5-14 7M1052 2916q-6 0-12-2M787 3362q-7 0-11-1M1061 3102q-9 0-15-7M864 3191q-8 4-12 4M723 3278q-6 7-14 9M462 3274q-6-2-10-2M987 3030q-3 5-8 9M1016 2905q-5 8-9 9M611 3484q6-1 11 2M242 3423q7 7 14 12M640 3425q0-5-4-6M765 2925q6 3 10-1M788 2999q1-6 1-11M1000 2885q2-4 8-4M904 3181q-4-7-9-8M1057 2994q0 5-4 11M216 3400q6 5 9 8M493 3166q1-6-3-13M436 2920q9-4 11-10M1023 3058q-2 4 1 10M659 3401q-6 2-9 5M643 3293q3 7-3 11M487 3263q4 3 4 11M783 3210q-6 8-11 14M889 3067q3-6 8-12M1099 3249q2 5-1 9M321 3221q-8 4-9 11M1102 2964q-5 4-4 9M483 3203q5 6 10 9M1001 3325q-5 2-12 4M914 3274q5 0 6 6M676 2927q2-9 1-14M250 3049q-7-1-8 3M407 3381q9-2 15-3M1044 3333q-5-7-2-12M427 3320q5-2 11-8M953 2888q2-5 0-8M625 3142q3 8 12 10M1144 3066q5 1 10 2M931 3114q0 5-8 6M837 2995q-8 3-13 3M518 3368q8 3 12 8M713 3440q-4 8-11 12M245 3294q-4 4-8 2M629 3050q5 4 8 10M901 2951q-1 9-3 17M625 3121q9 2 11 9M389 3254q-3-5-9-11M434 3242q4 1 7-3M1077 3221q-5 1-9 0M244 3066q0 9-2 16M449 3103q5 4 1 10M505 3253q8-5 12-7M972 3349q-3-8-9-10M778 2860q-5 3-10 1" fill="none" stroke="#8a5cb0" stroke-width="7" stroke-linecap="round" opacity="0.75"/>
<path d="M54.2,317.5 Q54.6,310.5 57.4,306.8 Q60.6,304.6 64.2,307.8 Q65.6,313 64.7,320.500" fill="#f9f7fb" stroke="#c8a8d8" stroke-width="2.6" opacity="0.7"/>
<path d="M54.2,317.5 Q54.6,310.5 57.4,306.8 Q60.6,304.6 64.2,307.8 Q65.6,313 64.7,320.500" fill="none" stroke="#7a429e" stroke-width="1.3"/>
<ellipse cx="55.1" cy="325.7" rx="8.4" ry="6.6" fill="#f9f7fb" stroke="#c8a0d4" stroke-width="3" opacity="0.75" transform="rotate(12 55.1 325.7)"/>
<ellipse cx="55.1" cy="325.7" rx="8.2" ry="6.5" fill="#f9f7fb" stroke="#76409c" stroke-width="1.5" transform="rotate(12 55.1 325.7)"/>
<ellipse cx="76.8" cy="341.1" rx="3.6" ry="3.2" fill="#f9f7fb" stroke="#c8a0d4" stroke-width="2.4" opacity="0.7"/>
<ellipse cx="76.8" cy="341.1" rx="3.6" ry="3.2" fill="#f9f7fb" stroke="#76409c" stroke-width="1.2"/>
<path d="M78,337 q2.500,-1.500 4,1" fill="none" stroke="#76409c" stroke-width="1.2"/>
<circle cx="24.6" cy="339.8" r="3.2" fill="#f9f7fb" stroke="#9a88c8" stroke-width="0.6"/>
</g>
<g clip-path="url(#ch1)" filter="url(#b3)">
<rect x="115" y="285.5" width="95.5" height="63.3" fill="#c2b4e0"/>
<path transform="scale(.1)" d="M1308 3292q-6-7-16-8M1922 3179q-7 0-9 7M1709 2899q2-7 0-11M2103 3323q7-7 4-13M1625 2928q8-2 11-12M1269 3442q-9 3-15 8M1328 2879q5-5 11-6M2075 3421q0-12 3-21M1267 3157q3-6 14-5M1541 3086q-8 3-12-4M1176 2914q-3-13-4-21M1676 3329q2 10 2 19M1323 2963q-7 11-9 19M1443 2920q11 5 14 11M1803 3283q11-8 18-17M2068 3229q7-6 10-12M1987 2958q11 5 14 12M1949 2888q0 8 1 13M1216 3069q11-8 19-7M1391 3462q-11-2-14 4M1951 3358q8-7 13-14M1961 3050q-7-2-10-5M1804 3459q10 2 19 7M1708 3018q-11 7-16 5M1241 2914q9 1 16-7M1776 2935q-8-2-14-3M1309 2971q-8 8-12 11M1829 3408q2-12-6-14M1211 3339q5 10 14 14M1450 2882q-6 5-12 2M1630 3203q6-2 14-2M1852 3467q-4 10-8 18M1211 3371q8-1 17-8M1253 2903q11 5 14 13M1743 2868q-6-7-10-13M1533 2998q8 3 17-1M1931 3313q-7 2-14 7M1753 3465q8 5 16 9M2000 3348q-8-8-11-18M1818 3287q0 13 3 21M1938 3465q5 0 11-4M1524 2947q-6-2-17 0M1859 3148q10 8 12 14M1470 3261q-3-7 2-11M1393 3390q6 9 15 10M1415 3095q9-3 16-8M1418 2965q-6 5-5 16M1183 3368q10-4 9-12M1188 3240q-2-7-11-6M1240 3051q-12 4-16 7M1906 3376q-6-1-11 4M1677 2998q4-12 15-12M1167 3223q11 6 15 15M1330 2893q4-9 9-15M1914 3069q-1 8 3 16M2000 2900q9 4 12 9M1408 2892q9 2 16 8M1301 2921q9-4 16-10M1845 3187q11 6 15 4M1486 3192q-5-5-6-13M1305 3394q4-12 9-16M1893 3426q-12-3-13-10M2049 3448q1-5 0-14M1730 3333q-4-5 0-12M1992 2986q10 0 17 7M1993 3084q8 4 15 1M1928 3084q4 4 11 9M1175 3276q2 6-5 11M2005 3180q5 5 13 10M1886 3331q-4-6-10-11M1618 3023q-9-2-14 7M1710 3363q-1-11 6-13M1526 2857q-5-9-9-20M1338 2999q-1-12-2-17M1504 3378q-9 0-18 3M1722 3294q8-9 10-14M1897 3357q6-3 16 2M1224 3050q-4-5-3-11M1802 3042q1 7 3 16M1358 3289q-5 9-6 15M1285 2892q-3-8-14-10M1775 2868q-2-10-4-18M2069 3092q-7-8-13-11M1871 3257q-9 3-14 11M1169 3262q-7 2-16 2M1233 3165q6 10 12 14M1356 2885q3 6 3 17M1361 2926q-6-1-16-1M1344 3298q-6-1-14 3M1242 2984q-11-6-19-10M1159 3047q-5 12-6 22M1183 3171q9-7 14-10M2035 2906q11-3 19 1M1307 3071q-6-9-13-16M1201 3037q7 4 9 14M1293 3050q8 7 13 10M1507 3403q-10 5-18 6M1681 3085q3 9 8 13M1328 3433q-6 3-5 9M1979 3068q-4-6-4-14M1853 3190q-5 5-15 11M1810 3159q-6 11-11 12M1799 3344q-6-12-2-17M2102 3062q-10 9-9 16M1748 3028q-1 12-5 21M1904 3407q9-7 16-2M1820 3180q11-2 19-6M1432 2937q-5 4-2 9M1584 3338q10 3 16-3M1432 3137q-2-8-7-17M1261 3076q-4-12 2-15M1747 3053q-4-12-10-13M2044 3078q-8-9-18-11M1153 3071q4 7 9 8M1917 2965q-9-4-10-15M1744 2962q0-6 7-8M1391 2992q-9 7-19 4M1846 3010q-3 7-6 18M2101 2908q13-3 21-6M1899 2973q-10-9-8-20M1231 3307q-13 1-17 8M1265 3364q-1-6-5-10M1757 3254q12 5 11 13M1698 3085q-7-5-15-10M1328 3044q1-7-9-12M1302 3115q-3 7-3 15M1261 3193q6 2 11-1M1476 3039q6-9 10-18M1805 3055q-9-8-15-15M1754 3442q-1 11-9 12M2015 2915q-1-7 3-14M1661 3012q-1 12-4 21M1261 3041q7-1 16-2M1638 3206q12-2 16-8M1551 3288q-3-7-3-14M1165 3040q-5 5-16 8M2040 3254q6-7 15-14M1207 3084q-6 6-8 10M1799 3461q1 7 6 16M1366 3343q5 9 4 18M1231 3461q5-8 14-7M1311 3106q4-8 0-12M1328 3226q-6-7-15-14M1477 3280q3 9 8 11M1472 2928q-8 7-16 13M1606 2908q-1-9 5-18M1651 3014q-6 7-7 13M1530 3270q5-11 15-11M1543 3263q11 4 15 9M1601 3027q2-9 12-14M1893 3096q-7 11-13 10M1496 3354q0-8-1-19M1236 3028q-7-11-1-17M1905 3470q-3 6-2 16M1283 3201q6-3 15-4M2073 3180q-13 1-17-3M1918 3108q13-3 20-4M1367 3030q2 7 0 11M1722 3233q-1-10 5-13M1239 3224q-2 13-11 16M1946 3010q-8 1-15 4M1606 3269q10 2 17-7M1677 3228q-4 10-14 16M1705 3026q-4-4-5-11M1837 2939q-6-4-10 0M1960 3101q-12-2-12-8M1813 3350q2-8 4-18M1390 3162q-8-9-17-10M1357 2954q-11 2-22-1M1307 3191q-7 1-10-4M1399 2881q-7-8-18-10M1756 2983q11-4 18-13M1274 3075q-11 6-15 13M1348 3374q5 11 11 17M1987 3024q-10-2-17-5M1767 3054q3 5 6 13M1914 2954q-4-8-8-18M1646 3131q-4-5-1-13M1190 3160q13-4 18-8M2044 3035q7 1 17 1M1214 3067q-1-8-9-13M1567 3295q-12 1-23 2M1927 3312q-10 1-15 3M1995 3366q1-12 4-24M1602 3476q7 4 15 11M1647 3355q-8 8-16 7M1170 3271q8 0 13-9M1311 3310q6 3 12 12M1218 3244q-8 6-7 11M1225 3419q-10 1-15 9M2011 2980q2-12 11-12M1766 3073q2-8 6-15M2095 3353q6 4 13 5M1835 3019q-8-3-17-2M1565 3475q9 9 12 16M1224 3264q3-8 9-13M1236 3399q-4 9-13 13M1965 3088q4-5 9-11M1977 3312q-6-10-13-14M1248 3077q4 11 14 13M1723 3137q7 6 10 11M2083 3083q-7 3-12 8M1966 2900q-7 8-11 13M1612 2895q-3 8-10 12M1547 3269q-2 10 4 17M1665 3269q8-8 14-5M2061 3137q-6 7-17 3M1919 3046q5 5 8 14M1213 2857q8 0 10-8M1243 3371q-10-2-11-7M1355 3353q-7-6-16-8M2052 3455q12-7 12-11M1942 3011q-9-1-10-9M1279 2984q10-7 9-18M1505 3315q-11-5-16-7M1683 3394q-10 6-16 11M1493 3000q-13 0-23-3M1321 3089q-7-4-14 4M1273 3272q8-1 13-6M1668 3475q5 6 2 12M1787 3312q6 0 14 7M1813 3151q8 6 14 3M1184 3181q-8 2-10 6M1177 2935q6-1 12 3M1711 3048q12-1 19-4M2027 2954q7-7 14-12M1714 2912q0 8 4 12M1831 3122q0-9 5-11M1639 3123q2-6 5-13M1746 3002q-13-4-21 5M2073 3139q8 5 7 9M1869 3349q8 7 13 5M1648 3044q-5-8-16-11M1156 3363q-3 12-6 19M1356 3397q8-10 17-17M2005 3277q-5 9-7 19M1678 3404q9-7 9-14M1232 3067q4 7 3 12M2026 3438q1-7-2-14M1741 3441q6 1 8 5M2003 2973q9-1 19 0M1936 3118q-11 3-15 8M1982 3413q4-7 4-12M1945 2886q2 5 8 15M1217 3015q-1 11 0 17M1811 3425q3 5 11 13M1207 2942q-7-9-10-13M1676 2918q5 3 5 8M1604 3375q3 8-2 16M1335 3195q12 0 13 4M1206 3173q13 1 21-3M1988 3124q1-7 0-16M1597 2972q5-6 12-5M1940 2934q-6-12-7-19M2087 3467q3-6-3-13M1278 2893q-12-4-22-1M2068 3451q6 3 3 14M1314 2970q-1-6-7-7M1702 3090q4-6 14-4M1508 3238q-3-6 2-11M1642 3394q7 1 11-8M1359 3309q-3-13-9-17M1903 3136q5 10 2 17M1515 2939q-10 7-16 16M1492 3156q2-13 9-16M1581 2937q-12-3-17 1M1213 3142q-13 2-24-2M1341 3132q-2-6-3-15M1176 2984q1-7 6-13M1522 3409q-10 8-18 5M1247 3066q7-2 13-2M1849 3290q8-7 6-17M1700 3452q-8-1-17-1M1817 3255q6-7 5-18M1829 2955q-12 3-17 3M1977 3318q4 10-2 17M2056 3196q11 1 17 10M1871 3451q3-9-1-12M1197 3441q4-12 12-15M1688 2871q5 7 11 6M1646 2957q3 5 8 14M1577 3301q-3-12 2-18M1194 2962q-1 8-5 15M1425 2961q-1-13 2-18M1814 3361q-10-2-13-10M1825 2962q5-9 2-17M1938 3137q-4 10-15 8M1446 3163q-5 5-10 9M1606 3380q-13-5-18-2M1211 3302q-2 7-8 17M1869 3461q9-4 12-13M1358 2899q-8 8-15 11M1270 2964q-8-6-15-12M1697 3404q8-5 13-11M1388 2966q-2-9-9-9M1457 2893q10 1 16 10M1720 2998q-5-6-12-7M1279 2925q6-1 9 8M1859 2925q-3-6-6-13M2011 2919q10 0 19 2M1232 3090q-2-10-5-13M1192 3420q-1 6 2 11M1669 2886q-10-3-19-6M1381 3103q0-8 5-11M1606 3423q-4-7-9-10M1868 3086q6-9 14-10M1419 3290q-5 2-10 5M1220 3023q10-3 18-7M1520 3212q-1 12-7 17M1681 3091q2-12 7-13M2017 2993q7 6 9 10M1765 3467q2-12-3-17M1386 3089q10-9 12-17M1731 3470q-6 2-7 7M1605 2913q-2-7-12-6M1592 3333q-8-4-16 3M1799 3021q9 5 8 15M2031 3484q5 5 9 8M1612 3371q-1 12 5 20M1223 2930q10 3 14-5M1549 3428q-9 8-16 8M1894 3235q-7-5-15-2M1645 3129q7-1 11 7M1244 3211q4 9 8 18M2019 2900q9-9 8-14M1593 2875q7 7 16 6M1349 3277q-4-4-7-15M2099 2882q-3-7-8-14M1197 3253q8 9 17 6M1679 2875q7 6 12 8M1247 3002q3-6 7-8M1930 3343q6-6 13-2M1753 3379q3 5 4 11M1359 3167q4 7 9 8M1929 3389q-1-9 6-13M1679 2869q-4 6-15 11M1749 3057q3-5 8-6M2071 3333q9-1 16 2M1867 3195q-11 3-15-2M1396 3484q-4 7-9 12M1585 3029q-11 4-22 0M2041 3024q2-11 6-18M2029 3212q6-2 10-6M1838 3145q-3 7-6 14M1621 3249q7 1 16 3M1716 3319q-12 5-19 3M1695 3364q-1 8-3 16M1200 3173q11-6 20-10M1505 2900q4-9 10-15M2081 3046q-10-5-17-14M1189 3359q8 2 18 0M1999 3206q-10-4-14 2M1582 2886q-3 7 1 12M1504 3274q5-6 14-8M1248 2982q5-5 13-8M1920 3346q3-6 12-11M1786 3461q8 5 6 11M1480 3042q-6 6-11 11M1628 3444q-4 6-14 4M1906 3435q8-1 8-11M1781 3101q10-7 18-10M1550 2971q-3 11-5 19M1775 3448q5 4 5 10M1693 3176q-5-9-11-16M2043 3387q-11 3-18 12M1153 3214q1-13 3-21M1730 3334q-7 8-8 13M1224 2968q-5 4-15 2M1517 2968q-11 6-19 3M1518 3384q-8 0-12-9M1204 2899q-12 2-19 5M1280 3238q-7 5-9 13M1942 3192q-8-6-11-15M1160 3466q-6 0-14-5M1500 3235q11 3 19 10M1603 3437q-5 3-4 10M1364 3001q9 6 8 17M1488 3171q-10-2-15-7M1169 3055q11 1 12 9M1810 3215q7-1 14-1M1588 2993q2-8-3-18M1167 2973q10-5 11-10M1793 3382q13 0 17 3M1902 3132q-5-1-9 6M1766 3027q6-1 13 7M1234 3379q-7-6-14-10M2035 3335q-9 2-13 9M1972 3256q-7-5-3-15M1644 3274q3-7 7-12M1880 3048q11-3 19-4M1707 3024q9 1 16-2M1351 2986q8-1 13 2M1234 3292q-11 5-10 13M1721 2995q-1-7-7-8M1194 3111q1-7-1-13M1361 3406q3-6 12-12M1162 3109q8 1 13-5M1345 3320q-4 4-11 8M1857 3326q0 9-6 18M1677 3241q-4 8-5 16M1423 3059q6 1 9 8M2070 3010q-8 10-13 17M1891 3100q2 5-4 12M1897 3476q7-7 4-16M1612 2919q8 1 19-2M2099 3438q-5 11-6 18M1702 2881q-3-5-5-15M1208 3264q-8 0-13-6M1333 3116q-8 9-7 16M1895 3148q-3 6-5 14M1894 3487q-9-2-14-8M1393 3297q4-6 8-7M1332 3094q8-5 11-11M1596 3209q-10-7-19-3M2069 3240q-3-12 2-16M1582 3388q5 8 0 13M1564 3124q-12 1-14 9M1557 3463q5-6 6-18M1162 3297q8 1 16 5M1758 2997q-10 7-13 15M1683 3398q4-11 3-21M2004 2903q-1-9-6-17M1922 3427q4-12 12-14M1811 3433q-5-3-14-6M1170 2925q6-9-1-16M1734 3096q-4-5-13-4M1801 3246q-6 3-8 14M1427 3119q-5 0-11 2M1249 3443q4 7 13 11M1979 3258q-7-8-15-3M2061 3413q5-3 17-3M1383 3038q7-1 11-9M1459 3249q0 7-2 15M1788 3207q0 7 5 9M1829 3064q6 0 10 8M1354 3355q5-4 5-13M1890 3023q-8 1-18 5M1701 3256q11-7 15-8M1503 3469q-6 1-14-2M1844 3207q-2 8 4 13M1636 2938q10 3 18 10M1595 2910q-8-1-10-7M1923 3263q-3 10 2 14M1825 2881q-12-5-11-15M1939 3055q-5 6-2 10M1203 2993q-4 7-9 17M1499 3152q3-9 12-15M2006 3031q7-11 6-16M1846 3275q4 13 8 24M1628 3311q8 9 12 13M1557 3273q9-8 18-3M1507 2964q7-5 15 1M1905 3226q3 9 2 14M1505 3360q1 5 8 10M1419 3186q-1 9-11 12M1875 3134q-11-4-17-1M1281 3143q-4 10-4 19M1700 3228q-8 4-9 13M1458 3035q7-5 5-14M1532 3099q-8-6-6-12M1927 3390q0 6 6 11M1978 3150q1 10-7 18M1680 2977q-9-3-14-1M1985 3034q7-7 0-16M2087 2970q-2-5 2-9M1739 3329q-11-7-21-3M1772 2925q7 2 12-4M1268 3041q7-9 7-14M1237 3052q6 3 5 9M1943 2890q3 5 8 14M1963 3086q2-8 5-14M1466 3261q-5 5-7 9M1510 3437q-7-3-15-5M1288 3199q-1 6 3 12M1835 2886q-10 1-14-3M1895 3069q8 8 10 19M1395 3300q9-4 14-3M1427 3105q2 6 9 12M1633 3184q-11-1-16-6M1250 2942q-5 7-10 9M1354 3325q4-6 10-12M1394 3169q12 5 23 1M2002 3115q4 7 1 11M1402 3023q-8 10-14 20M1773 2860q-5 6-4 12M1359 3416q-8-3-17-2M1484 2871q6 10 6 20M1563 3247q10 1 15 9M1650 3294q2-9-5-14M1767 3450q10 2 11 6M1798 3263q4-9 13-14M1356 2863q-2-7-7-8M2003 3414q-11 2-15 5M1736 3029q11 4 15-5M1327 3036q-7 9-12 11M1452 3197q9-2 17 4M1873 3012q7 9 15 10M1551 3241q7-2 7-12M1366 3210q-1 12-6 21M1489 2982q-3-6-15-4M1960 2915q-5 3-3 12M1909 3463q7-5 4-14M1615 2933q1 7-6 10M2083 3216q-2-11-11-18M2037 2913q-3 7-9 15M1981 3158q11-1 17 4M1742 3227q3-9 2-15M1490 3026q-13-5-12-11M1541 3215q-3 5-1 15M1583 2886q-6-4-5-14M1175 3054q7 4 8 15M1997 3151q-9-5-20-3M1314 3448q3 11 4 16M1903 3214q10 9 9 17M1233 3412q13 3 18 12M2022 3265q-6 6-11 13M1804 3260q-12 1-13 12M1388 3049q-1-9-4-14M1832 3153q-3 8-10 18M1752 3059q5 5 11 5M1865 3096q-3 6-13 11M1818 3019q-6 2-10 6M1625 3282q-11-2-16-11M1557 3259q-9-7-10-17M1588 3356q-12 4-21 8M1274 3455q13 5 15 9M1433 3026q-7 3-8 11M1844 3072q5 2 12-7M1817 3004q4-3 8-1M1339 2899q1-7 0-14M1708 3372q-6-3-13 2M1574 3171q6 5 2 16M1468 3122q9-7 13-16M1428 2938q7-4 15 3M1666 3435q-8 5-9 9M1557 2942q-7 7-10 16M1902 3159q-13-3-21-5M1837 2877q-1 7-1 12M1883 3340q-12 3-19 5M1247 3113q-7 9-12 9M1645 3191q-7 6-13 1M1540 3211q8-6 14-2M1900 3377q12-7 18-9M1659 3265q9 7 11 13M1438 3295q13 0 19 6M1674 3059q3-7 6-10M1185 3439q6 0 12 6M1283 3404q7 6 11 15M1804 3172q5 5 10 12M1433 3477q1-13-7-21M2059 3191q12-5 17-1M1350 2888q5-4 9-7M1893 3405q6-4 8-13M1660 2932q-6-6-9-15M1504 2978q13 3 16-5M1796 3451q-8-11-2-18M1627 2905q-3 5-8 10M2027 3413q-6-2-16-5M1982 3014q11 1 15-1M1422 3155q5 10 4 19M1541 3087q-8 0-13-3M1579 3178q-6 2-12-1M1418 3362q6-8 11-8M1229 3431q-2-7 7-12M1967 3099q2-5 3-17M2096 2927q-1 8-8 11M2084 3369q5 7 11 8M1413 3214q12-1 18-5M1548 3029q-3-8-6-13M1366 3470q13 2 20 7M1806 3316q0 6-8 9M1884 3417q1 6-7 11M1595 2919q1-5 11-11M1505 3061q2-6-2-16M1423 3258q-9-6-16-5M1508 3455q7 8 6 20M1283 2931q-11-5-17-12M1574 3411q-11 0-13 9M1262 2970q7-3 15 5M1288 3253q6 1 9 4M1791 3429q1 13-1 17M1404 3029q2 9 10 12M1859 3106q9 5 15 6M1849 3303q10 6 9 15M1443 3013q-7 6-17 11M1260 3221q-7-7-10-18M1589 2862q-9-2-14 7M1540 2857q-8-6-17-6M1461 3431q1 9 2 16M1705 3250q3-8 10-11M1566 2876q-10 5-18 2M2023 3232q-9 1-16-1M1354 3364q7 10 9 20M1855 3018q-7-7-9-17M1593 3189q-1 8 5 11M1858 3381q-4-7-14-5M2053 3269q3-5 11-6M1516 3307q13 2 17-7M1221 3466q9-3 16 0M1350 3297q-11 1-22 3M1525 3007q3-11 5-15M1371 2992q13-3 16-9M1410 2938q5-5 13-5M1622 3388q-6 3-12 12M1322 2981q1 6-1 11M1498 3017q-5 5-11 2M2060 3124q3-11-3-13M1228 3427q-12-1-21 5M1235 3174q-4-11-9-16M1863 3457q-3 5 1 13M1481 3109q4 7 5 14M1375 2863q-9 5-13 14M1775 2940q-7 4-18 8M1466 2880q-12-4-15 0M1538 3407q-3-7 2-13M1185 3076q5 2 13 2M1559 3459q-11-1-14 10M1443 3306q7 7 17 5M1542 3464q3-7 1-16M1449 3008q12 2 17 6M2096 2990q-1 8 3 11M1370 3414q3 8 1 13M1678 3357q10 7 13 13M2031 3251q10-7 12-12M1190 2935q10 6 19 4M1168 2948q6 4 12 8M1351 3453q3-6 9-10M1828 2985q-2 7-5 13M1528 3391q5-4 3-12M1459 2950q-8-8-18-11M1281 3398q-8-6-11-14M1500 2993q-9-6-9-12M1615 2973q-11-2-16 1M1932 3061q-6 8-16 9M1765 3403q7 4 8 11M1440 3481q-5 6 0 13M1327 3475q7-6 11-11M2040 2857q6 1 11-3M1954 2990q-5-9-4-14M2027 3155q10 6 13 12M1848 3137q-9-2-15-10M1490 3430q5-10 11-14M1707 3353q-1-9-9-10M1455 3065q-6 7-12 15M1857 3105q6-5 15-8M1548 3309q10-5 14-9M1828 3236q-6-1-8 4M1210 3483q-11 5-19 12M1183 2975q-1-10-4-14M1980 3207q-9-3-11-8M1422 3068q-7-1-12 1M1870 2860q5 4 4 10M1511 3223q-3-8-6-13M1204 3479q-11-1-17 6M1879 3200q12-5 14-11M1573 2944q-8 0-10 4M1185 3030q-9 5-7 16M1906 3315q-6 2-8 8M1760 3487q2 12-6 18M1424 3283q2-12 12-18M1897 3129q0 6 2 16M1268 3441q2-6 10-10M1388 3159q-7-4-12-6M1472 3337q-5-12-9-19M1471 3435q0-11-5-18M1987 3156q8 3 12 3M1282 3050q-5-13 2-17M2019 3228q0 10 4 21M1458 2869q8 7 13 13M1941 3322q-2-8 1-17M1225 2879q-10 3-14 9M1389 3224q5-3 10-8M1601 2895q0-11 1-16M1245 3035q7 3 16 10M1215 2949q-10 5-12 12M1250 3479q-9 2-11 8M1675 2975q3 5 11 6M1511 3033q-4 4-6 14M1665 3371q4 13 0 16M1457 3414q2 10 0 14M1617 3415q-10-7-10-15M1253 3360q10-6 19-3M1538 3030q6 8 5 19M1749 3344q-5 5-9 11M1443 3240q-7-1-10-10M1762 2886q-11-8-21-2M1256 3172q6 11 14 19M1574 2905q-6-2-13-1M1280 3061q2-8 14-8M1180 3279q0-7-4-11M1903 2918q-9-6-16 1M1822 3129q-9 6-14 12M2100 3361q-9 2-9 9M1328 2962q-12 4-16 0M1269 2868q-12 1-16-8M2089 3293q-6 4-16 10M1455 2965q11-2 18 3M2050 2859q-12 3-19 4M1982 3034q4-11 14-15M1263 3017q-7 11-16 12M1202 3100q-2 11-8 13M1639 3028q10 1 15-9M1469 3304q-9-7-13-9M1393 3216q-4-6-4-15M1821 3428q-13 3-13 10M1219 3278q8 3 14-6M1733 3333q-6 3-9 12M1932 3213q-5 7-16 9M1772 2912q-6 7-8 15M1475 2885q-8 10-2 19M1335 3270q7 6 15 8M1240 3271q-3-7-14-5M1602 3061q1-7 11-8M1190 2856q-5 3-14 10M1576 3214q9 0 14 8M1247 3071q-4 5-12 12M1919 3446q11 2 17 5M1175 2872q3 9 7 13M1912 3284q0 5-3 14M1893 3361q-10 8-10 17M1307 3424q7 10 7 16M1804 3346q-1-10-12-12M1393 2979q-2-8-7-9M2028 2953q3 11 2 16M1760 3167q-9 5-11 11M1683 3174q-4-5-14-5M1746 3160q7-5 10-12M1308 3150q1-6-1-13M1414 2986q-5-6-15-2M1831 3425q7 2 16 7M1187 3366q-12-5-17-7M1494 3339q-9 4-17 6M1240 2979q7-8 8-13M1940 2914q4 10 10 14M1431 3039q12-2 14 5M1209 3133q-8 6-18 10M1595 2892q-10-7-18-5M1856 2956q-9 2-13 6M1350 3195q4 5-3 12M1346 3391q5-12 13-12M1364 3168q-8 7-12 15M1719 2973q1 6 10 8M2058 2920q-10 1-18 9M1227 3406q-5-12-12-21M1297 3143q5-7 9-14M1753 3396q-9 1-13 4M1968 2891q-5-3-8-8M1380 3040q-9 8-15 6M1398 3378q-4-4-8-7M1406 2971q1 6 4 11M2035 3197q0-7-6-11M1726 3249q6 1 15 1M1644 3330q-5 3-13 1M1237 3179q-6-2-17-1M1756 3372q-6-9-3-18M1644 3210q-6-3-10-2M1292 3194q5 6 9 9M1805 3455q-7 4-6 11M2002 3401q5-10 0-15M1473 3032q8-7 14-7M1662 3391q-8 6-5 14M1570 3223q-5-9-12-16M1173 2879q3 6 9 11M1316 3432q-4-5-1-13M1987 3005q-4-7-2-18M2080 3212q9 8 6 15M1464 3139q2 8 8 14M1639 3226q-12-2-17 8M1198 3367q-7-10-9-15M1561 3373q-5 4-10 11M1206 2993q-5 2-8 6M1326 3336q9 3 18-1M1365 3253q1-9-1-13M1851 3270q0 6 11 9M1820 3096q-6-7-3-14M1277 3020q0-5 2-14M1435 3225q-3-5-8-7M1486 3224q1 12 5 16M2059 3232q10-7 14-15M2032 3292q5 4 8 10M1709 2919q5 4 11 14M1856 3382q-10 0-15 0M1363 3291q11-3 17-11M1244 3069q12 5 17 1M2062 3082q5 8 8 13M1861 2954q8 3 19 0M1539 3424q-8 5-15 3M1411 3406q7-9 14-6M1905 2889q9 5 11 10M1647 2953q6 8 11 17M1289 3302q-1 12-1 20M1248 3484q-9 2-15 7M1332 3145q-2 7-6 10M1702 2873q-9-2-11-12M1594 2942q-8-1-19-2M1675 3155q7 2 12-2M1724 3175q-6-2-14 5M1479 2858q-8 3-13 10M1869 3348q5-9 15-12M1154 3069q-6-11-6-19M1220 3349q-2 9 0 19M1738 3418q2-12 4-19M1316 2937q7-2 16-8M1154 3149q13-3 13-9M1995 3225q9 3 15-4M1360 3421q9-9 14-16M1509 2944q8-8 16-7M1919 2919q-7-3-18-5M1559 3040q11 5 21 7M1932 2927q4-5 5-14M1185 3171q8-2 8-12M1898 2963q6 7 9 14M1301 2880q9 4 10 9M1551 3170q-7-1-12-5M1289 2893q-1 7-1 19M1828 3055q-9-3-11-15M1234 2879q10-6 12-12M1628 3349q-8 9-13 12M1560 3132q-6-2-10-2M1173 3034q-11-1-15 5M1528 3390q-5-11-8-16M1297 3047q11 5 16 8M1357 3102q-3 5-10 2M2059 3257q3-12 5-19M1320 2939q-6-5-12-6M1964 3420q-6 7-5 17M1734 2879q6-5 6-12M2007 3253q-2 10-9 13M1803 2964q12-4 13-10M1987 3051q7-4 7-14M1473 3438q-2-11 4-15M1481 3273q4 6 11 4M1426 3449q5 9 12 13M1444 3184q8 5 13 15M1610 3286q-1-7 5-15M1772 3193q9-10 20-10M1495 2908q5-10 10-12M1967 3046q-5-4-12-8M1542 3417q6 9 1 19M1376 2987q10 1 12-4M1999 2899q7-4 5-10M1903 3217q9 3 15 6M1271 2911q9-8 19-9M1717 3275q5-10 2-20M1852 3033q-9 3-16-3M1902 3038q12-4 22-4M1961 3238q-9 5-8 10M1687 3273q9-2 16 5M1766 3440q2-7 8-8M1326 3095q-12 4-18 12M1943 2948q5-7 6-12M1833 2863q2-12-3-15M1857 3108q11 7 9 14M1275 2881q-5-12-12-11M1485 3056q9 8 17 14M2089 3050q11-1 19 5M1599 3156q-2-7-9-16M1297 3152q-5 5-11 4M1837 3083q0 9 6 12M1407 3041q7-6 6-15M1760 3350q8-4 19-4M1804 3251q-10-1-14-3M1903 3481q8 3 13 11M1643 3462q9-10 19-9M1366 3072q11-1 12-7M1813 3086q-9-6-18-12M1283 3180q3 10 8 14M1893 2996q4 8 8 9M1792 2873q-8 2-10 9M1201 2875q2 8-2 14M1519 3446q1-7 1-14M1790 3324q0 10 5 11M1560 3338q-4 6-14 8M1278 3278q10-10 17-6M1297 3217q11 1 13 9M1529 3466q-9 9-7 18M1638 2881q5 6 7 11M1338 3087q-10-1-16 7M1985 3344q-4 6-6 10M1458 3415q-7 3-11 8M1548 3295q-9 10-6 13M1522 3047q3-6 9-6M1796 3042q2-7 5-12M1801 2936q-6 2-12-2M1927 2913q-1 6-6 9M1492 3084q4-9 5-18M1515 2958q-4 6-8 12M2009 3480q-5-7-14-8M1907 2927q-11 1-16 8M1654 2885q10-2 18-7M2065 3353q-8 5-17 9M1769 3268q-12-4-21-9M1571 3469q8-3 12-9M1948 3282q6-3 12-7M1601 3053q4-5 14-11M1926 3437q-7 10-4 20M1968 3188q-7 5-4 14M1258 3217q2 9-4 15M1441 3054q-4-6-2-10M1609 3010q0-7-10-11M1903 3092q-5 5-11 1M1685 3471q-8-3-11 1M1480 3402q10 4 14 0M1383 2895q-4 9 4 16M2101 3286q4-6 3-15M1618 3386q-3-7-1-13M2097 3018q-1-8-6-11M1575 3157q8-9 15-7M1855 3375q11 7 9 13M1814 3026q-2 5-8 12M1812 2960q-8-7-19-9M1512 2886q7-2 6-9M1211 3030q-11 1-15 3M1189 3156q5 7 9 16M2083 3189q7 0 9-9M1863 3368q7 1 18-1M1725 3190q7 4 12 10M2014 2892q10 9 14 14M1720 3207q7 2 16 8M1442 2996q6-1 12 3M1650 3298q-4 12-3 17M1645 3261q-4-8-12-9M1508 3143q9 9 20 10M1822 3244q-5 1-11 4M1973 3387q-6-7-5-11M1607 3326q-7 6-12 6M1592 3245q-11-4-9-11M1660 3260q5-4 2-14M1939 2909q7-5 14-9M1462 3109q5 4 10 14M1877 3254q-7 2-11-1M1661 3266q-4 6-9 7M1875 2882q5 4 15 3M1336 3413q-2 5-6 12M1674 3015q2 12-1 17M1903 3293q10 9 19 14M1790 3425q11 6 16 12M2029 3311q-4-4-5-11M1530 3301q-4-11-14-15M1573 2886q5-5 12-10M1233 3040q10 2 13-3M2038 3110q-6 2-11-4M1436 3227q-10 5-15 10M1439 3353q2-11 9-12M1938 3234q-3 5-7 8M1601 3143q11 7 22 9M2025 2902q-6 8-12 17M1482 2961q5-6 4-11M1186 3085q1-7-2-13M2048 3426q2-7 5-12M1918 3186q8 2 14 2M1439 3478q-12-6-22-7M1380 3348q7-3 6-13M1867 3453q7 12 15 13M1168 3216q5-6 2-13M1727 3383q-2 11-11 12M1561 3378q-6 6-12 10M1490 3349q1-11-2-21M1881 3089q-5 9-13 16M1272 2960q7-1 13 2M1608 2891q-9-7-15-4M1672 2880q1 7 7 9M1249 2958q-2 10 2 18M1455 2912q-6-2-16 5M1754 3054q-7-7-7-13M2021 3390q-8-4-7-12M1379 3415q6-4 4-10M1327 3085q12-5 14-11M1689 3024q12-1 21-3M1174 2997q-10 1-20-3M1440 3207q0 5 1 11M2073 3080q5 5 7 10M1151 2952q-5 6-4 11M1662 3334q6 5 10 7M1992 3253q-6-5-13 1M1626 3344q0-6 5-15M1258 3335q-6-10-5-21M1161 3358q10-1 15-1M2086 3452q6-1 8-5M1402 3235q-5-2-6-13M1181 2895q-1 8-7 13M1508 3135q8-1 15 3M2020 3001q8-4 16-5M1359 3329q0-11-7-15M1311 3043q10-5 17 0M1855 2968q-5 11-11 13M1939 3006q9-9 10-16M1331 3445q-2 6 6 15M1616 3034q6-12 0-17M2056 3422q-9-4-17-4M1620 2968q-1 8-6 15M1810 3378q8 7 19 7M1572 2882q-8 5-13 3M1420 3105q-12-2-17 2M1456 2970q-6-6-11-9M1999 2857q-7-5-17-6M1489 2895q12-3 19-9M1380 2995q6-9 13-8M1670 2981q-9 0-13 5M1419 3258q-3-7 1-11M1782 3439q2-12 9-21M2077 2942q9-2 19-5M1651 3347q0-7-3-14M1881 3340q-9-5-14-9M1516 2878q-6 9-13 16M1565 3250q-3-6-8-9M1786 3228q4 7 4 15M1683 2922q-6 10-7 20M1632 2918q-4-8 4-15M1810 3104q4-8 12-15M1955 3434q-3-10-1-15M1438 3157q-1-12-6-15M1184 3015q-9 3-15 9M1234 3160q-5-8 3-15M1208 3236q1-6-6-14M1614 2906q-6 3-11 4M1639 3261q10-6 16-6M1278 3461q5-3 11-3M1429 3274q10 6 15 0M1162 3361q-6 10-17 14M1982 3122q0 7-7 16M1902 3365q-13-2-18 7M1377 3005q3-5 14-4M1774 3271q-1 7-1 12M1736 2940q-5 10-10 9M1765 3262q11 6 12 15M1645 3336q6-4 14-12M1267 3288q10 3 21 4M1291 3442q-5-3-10-1M1429 3373q-7-5-9-9M1230 3114q-8-7-14-5M1246 3262q-4 7-12 8M1310 3157q4 11 13 18M1337 3320q8 4 14-3M1748 3006q6-3 14-5M1881 3053q10 0 17 4M1416 3034q0 12 1 17M1772 3172q-6 4-11 2M1356 3065q-2 7-6 10M1816 2986q-4-5-8-13M1338 3344q7-1 9-5M1770 3449q2 7 0 12M1162 3233q-10-3-14-7M2018 3285q7-5 8-10M1822 3165q1 10-2 19M1763 3081q8 8 19 5M1562 3118q7 1 14-1M1895 2899q6 2 10 5M1612 2900q-7-4-12-6M1194 3175q-7 4-17 1M1707 3029q-8-1-11 3M2024 3226q8-6 14-4M1825 2862q-8 10-5 14M2074 2925q-5-12-15-16M1269 3122q0 7 2 18M1376 3174q-2 6-4 17M1965 2960q-8 2-12-4M1282 3037q-10 3-20-2M1196 3396q8-3 15-11M1579 3322q11-5 16-8M1200 2892q8-4 7-15M1289 3302q-8 8-15 5M1552 3360q9 0 15 7M1333 3234q9-7 13-14M1236 3484q-7-4-13-7M1974 2865q3-12 7-15M1782 3126q11-1 19-3M2071 3379q-2-11 1-21M1798 3187q3-8 6-19M1390 3257q-5 8-9 11M1886 2930q-4-7-1-12M1350 3068q-1-11-10-17M1847 3186q-11 6-16 6M1570 3446q-11-6-9-16M1537 2881q13 0 20-1M1269 3336q6-9 9-17M1833 3362q11 0 13-7M1820 3067q-5-4-7-13M1228 3385q-4-11 4-20M1456 3323q10 0 17-5M1314 2876q-5-5-12-2M1967 3379q4-7 13-5M1826 3114q-6-10-7-21M1570 3346q-9-7-8-11M1825 3085q8 11 14 13M1749 2862q-3-7-14-5M1331 3376q-6-8-7-15M1783 3218q8 1 12-8M1247 3169q6-9 0-16M1467 3172q4-4 4-9M1388 3058q-5-12-11-15M1365 3112q-6-5-8-14M1891 3068q1 13 5 22M1446 3446q11 0 17 6M1194 3319q13-2 13-9M2090 2932q-9 2-12 5M1369 3379q8 9 10 15M1488 3442q11 3 19-4M1188 3190q7 7 12 6M1953 3420q10-4 8-15M1270 3225q0 7 2 16M2009 2955q7-1 10 4M1608 2874q4-4 6-12M1550 2937q7 1 13-4M1938 2983q-10-1-17-8M1220 3393q-4-4-3-15M1247 3323q-7 1-14 1M1221 3477q7 2 10 9M1322 3120q7 11 11 13M1881 2887q5 2 10 2M1152 3398q-9-3-19-7M1597 3113q-9 5-19 2M2047 3484q-3 5-13 4M2085 3006q-7 6-8 14M1446 2967q6-7 13-9M1669 3339q-4 4-7 10M1704 3148q-3-7-5-14M1689 3166q-7 7-17 10M1957 3092q10 3 14 7M1826 3473q-3-4-12-6M1166 3368q-9 8-16 13M1994 3411q10 8 11 15M1545 3337q6-4 14 3M1563 3137q-9 2-11 12M1578 3247q7-4 4-14M1447 3389q5-7 12-8M1167 3408q7 0 11 8M1953 3350q-8-4-17-6M1355 3347q2 11 8 18M1318 3403q2 6 7 13M1284 3000q-12 0-22 3M1237 3403q-8-4-15-12M2061 3377q1 10 3 19M1459 3190q4-4 6-13M1661 3240q-6 1-12 5M1743 3207q4-9 6-14M1326 2975q-11 4-17 10M1429 3357q-5 10 0 16M2098 3047q6-10 6-18M2052 3251q1-7 9-9M1321 3082q11 4 20 1M1792 3101q6-3 13-8M1500 3208q8 6 5 12M1173 2937q0 6 6 13M1552 3108q8-2 15 1M1835 3137q4-4 13-11M1292 3269q9 8 20 11M1996 3037q12-4 18-1M1654 3362q6 9 15 14M1267 2949q9-4 18-3M2098 3484q-8 3-16 1M1736 3306q7-2 17-3M1409 3202q0-10 2-17M1331 3208q8 2 17-5M1191 3235q3 5 2 14M1257 3190q-11 1-21 4M1647 3041q6-11 10-13M1770 3118q6 7 9 12M1710 3140q-10-6-10-12M1673 3272q-4 4-14 7M1527 2921q5 4 11 13M1153 3305q8-5 10-14M1987 3213q-10-6-7-16M1239 3304q-10-8-20-14M1173 3291q9-8 9-16M1670 3404q3-7 13-5M1749 2881q-5 5-4 10M1958 3072q-2-7-2-14M1768 3164q9-5 18-3M1220 3133q-1-8 6-17M1447 3211q5 9 13 12M1682 3040q-3-5-7-8M1273 2915q5 1 15-5M2085 3103q-4-7 0-16M1720 3274q1-7 8-16M1782 3168q5-6 2-15M1410 3106q-13-2-22-2M1249 3144q7-4 13-1M1531 3069q12 4 23 0M1249 3349q-9-1-16-7M2084 3444q6-3 11-8M1349 3161q0 10-8 13M1811 3116q2 9 3 16M1778 3422q-2 9-9 18M1507 3377q5 5 12 3M1805 3421q2 5 2 12M1973 3336q-5 11-15 10M1980 3171q-7-12-3-17M1439 3183q-6 12-3 21M1422 2956q7-10 8-20M1182 3309q-8-1-10-10M1251 2882q10 3 12 12M1963 3331q12 4 11 15M1326 2874q-3 11 0 16M1721 3334q7-4 9-10M1972 2972q-1-13 7-18M1817 3246q8 7 15 17M1909 3214q8 1 11 7M1393 3298q-1 6-6 13M2104 3458q1-6 6-7M1272 3350q-4 7-10 13M1928 2889q10-1 17 1M1932 3343q2 7 6 14M1858 2968q-7 1-12-5M1832 3382q-6 7-11 7M1158 3030q7-7 4-15M1430 3206q-10 2-13-5M1656 3314q10-5 7-14M1748 3051q8 8 16 12M1772 3453q-10 7-9 12M1460 3030q-10 2-16-3M1931 3112q-1 11-3 21M1973 3080q-5 10-1 17M1982 3088q-2 9 1 17M1762 3423q-9 2-14 4M1716 2892q5-8 9-18M1831 3391q7 7 14 3M1724 3248q-8-7-14-14M1163 3213q-8 5-17 4M2078 3228q-5 10-7 19M2003 3029q8-7 9-13M1451 3366q2 13-3 20M1391 2895q9 8 9 16M2025 3244q-8-9-9-16M2074 2920q-1-8 6-13M1451 3246q11 7 19 11M1847 3267q-9 0-20 0M1303 3260q1 8 10 11M1882 2865q-8-4-13-2M1776 2878q-2-11-5-16M2088 2880q-5-12-6-17M1397 3000q-11-7-14-18M1794 3287q-7-11-9-17M1436 3188q-1-10 3-17M1544 2965q6-4 11-14M1348 3069q3 13 4 19M1349 3327q-2 6-3 13M1378 3160q-10-5-14-10M1185 3398q7-9 11-11M1979 2910q0 11-6 15M1304 3396q1 8 5 15M1831 3323q6-1 7-6M1153 3175q1 11 0 19M1170 3222q-10 3-18 9M1397 3069q-8-2-13 2M1848 2924q1 9-6 13M1809 3048q-4-6-10-13M1417 2984q2 9 2 17M1684 3062q-6 3-5 12M1287 3315q3 8 11 15M1620 3054q6-12 3-16M1835 3167q-9-3-14-4M1343 3045q8 8 8 18M1497 3176q0-12-6-14M1293 3012q4-5 6-9M1954 3448q-1 6-12 8M1724 3449q-8-6-12-10M1698 3487q-5 10-15 13M2047 3194q11-4 15-10M1891 3317q13 3 17 14M1209 3452q3 11 1 21M1599 3349q-3 12-4 16M1717 3372q-5 4-12 0M1942 3355q11 0 18 6M1365 3225q-1-6-8-7M1553 3095q-4-11-12-17M1258 3368q-7 0-10-5M1733 3287q-9 10-16 10M1941 3180q-6-8-14-6M1467 2902q-13 3-19-3M1542 3484q-1-6-1-16M2033 3473q2 12-3 22M1632 3472q0-8 9-15M1408 3242q3 6 5 12M1300 3115q2-11 2-18M1362 3179q-10-2-19-3M1748 2940q10 3 18 2M1351 3189q1 7 11 12M1474 3181q-3 11-11 13M1166 3237q-3-7 1-12M2030 3226q5-10 0-20M1836 3483q-3 12-10 21M1669 3062q13-2 18-3M1170 2905q-3-5-14-7M1510 3398q-4 4-6 9M1177 3488q-1 6 1 16M1381 3482q-6-3-10-12M1984 3046q-3 12-8 16M1628 2976q12-5 16-3M1408 3465q-13 1-15 5M1181 3483q9-1 14 5M1893 2902q-1 13 2 18M1406 3269q-5 9-9 19M1956 3315q6 8 15 9M1763 3469q10 0 17-4M2092 2885q10-6 19-10M1401 2933q-2 13-3 19M1755 2985q5 5 2 13M1544 2937q-10-1-14-8M1811 3469q9 6 18 10M1840 3378q-3 11-5 22M1826 3137q3-7 0-18M1179 2973q7 11 15 13M1632 2923q7 10 2 19M1271 3379q-7 3-6 8M1207 3015q5 4 14 7M1704 3460q-5-4-11-4M1417 2860q-6-3-16-3M1386 3219q1-8 5-13M1569 3425q2-6 6-15M1654 2879q1-8 7-14M1824 3425q9 2 14 1M1907 3086q7 3 13 11M1572 3388q7 6 14 4M1230 2901q5-2 14-5M1411 3476q11 4 12 8M1924 2955q-5-12 3-20M1221 3317q-6-2-9-11M1831 3229q-6 7-13 16M1620 3145q4-6 1-13M1257 3106q11-5 18-14M2055 3236q5 9 9 18M1993 3058q-10-7-7-18M1153 3122q4-12 15-11M1273 2911q4 7 9 11M1639 3087q7 9 8 16M2102 3151q8-1 19 3M1708 3060q11-6 16-8M1606 3154q3-7 14-9M2083 3221q1 6 5 14M1837 3468q9 4 11 15M1212 3420q5 4 10 5M1828 3287q-10 0-15-10M1430 2996q7 8 16 14M1285 3453q-6-4-11-5M1532 3291q-6 5-13 3M1407 3060q5 5 0 14M1432 3453q-11-8-20-3M2074 3189q-5-12-7-17M1435 3461q-13-2-16 8M1431 3405q6-8 5-13M2071 3239q5-5 4-10M1890 2892q6-7 0-15M1705 3274q-10-5-19 0M1840 3201q6-6 13-11M1219 3158q6 2 16 5M1985 3380q4-6 6-11M1861 3174q-7-3-17 0M1172 3405q-12-6-20-10M2026 3327q-13 3-19 5M1585 3424q-5 12-2 19M1589 3206q1 9 8 17M1985 3180q5 12 1 18M1946 3000q8 4 11 15M1787 3348q7-4 12 2M1495 3408q-5 9-11 14M1504 2944q-2 10 0 15M1452 2889q2 5 10 6M1891 3271q-11 7-17 5M1316 3247q5 6 15 1M2032 3253q10-4 15 4M2073 3426q3 8-1 19M1426 3198q10 2 20 3M1251 2858q6 4 12 10M1616 2902q-7 10-7 17M1653 3004q0 12 8 18M1434 3447q2-5 7-8M1782 2940q8-1 18-6M1597 3278q-5-11-2-20M2099 3247q6-8 3-13M2001 2972q1 13-3 20M1220 2897q12 5 20 2M1638 3151q2-6 11-9M1215 3434q10 8 17 11M1321 3134q0 12 6 19M1981 3293q3 9 13 13M1371 2966q3 10 5 17M1940 3412q5-10 11-15M1900 3075q8-3 10-8M1249 3088q-11 0-16 2M1813 3038q11-6 17-5M1485 3294q7 11 9 15M1635 3452q-10 2-13 8M1759 3415q-3 6-5 15M1175 2928q5 13 3 24M1328 3194q-2-7 4-12M1304 3399q2 8-3 17M1469 3114q8-2 14-12M1973 3487q4-4 11-5M1424 2940q-9-1-13 9M1920 2901q-5 3-12 10M2046 2881q-7 9-17 7M1713 2860q0 6 5 12M1205 3459q-7-10-13-9M1593 3425q-11-4-21 0M1352 3018q11-5 9-12M1283 2992q6-2 12-3M1481 3288q-4-12-1-17M1859 3022q8 0 12-10M1278 2963q13 4 17 0M1296 2971q8 10 13 18M1882 3320q4 11-1 14M1280 3025q2 6 7 9M1396 3327q-6-6-15-10M1857 2856q6 3 13 4M1649 3057q6-11 6-18M1941 3423q7 3 8 9M1596 3324q1-11 2-20M1252 2886q5-5 9-2M2088 3253q-12 7-16 4M1723 3229q-6 5-2 16M1891 3437q-4 12 5 20M1683 2913q-2 8-7 13M1629 3066q-5 10-3 15M1282 3047q3 4 8 9M1608 3142q-11-7-16-3M1501 3233q-7 9-12 15M1225 3113q5-7 16-6M2041 3366q11-2 18 2M1450 2955q-7-9-12-10M2081 3391q5 5 10 7M1490 2972q10 6 10 12M1658 3460q9-2 16-9M1950 3014q-6-11-11-11M1811 3353q8 0 13-4M1698 2873q11-1 16 7M1274 3286q-8-1-12 4M1287 3485q-8 8-16 12M1494 2990q1-13 4-18M1865 3483q6 4 10 6M1863 2988q11-5 14-11M1947 3234q-8-4-15-10M1193 3395q6 0 13 6M1236 3004q3 6 13 5M1339 3476q9 7 10 18M1999 3009q-9 4-15 3M2105 3192q11 2 21 0M1539 3043q-13 0-21-6M1199 3262q3 12 1 20M1901 3332q7 5 4 15M1475 2874q-3 8-5 15M1584 2991q-4 10-15 11M1495 3207q0-9 5-12M1205 2922q-12 1-17 0M1560 3359q-4-10-8-14M1743 3330q-2 12 0 18M1259 3352q-10-3-12 1M1606 3212q4-10 14-12M1286 2957q-5-3-14-10M1329 3141q7 5 12 6M2029 2899q-4 5-11 13M1570 3144q-10-1-13 4M1488 2941q-8 5-7 14M1350 3218q-8 5-9 12M1517 3042q-5 11-15 12M1968 3307q-4-8-14-7M1953 2887q-8-4-13-13M1705 3129q6-7 4-14M1613 3220q-7 1-10 9M1172 3277q-7 0-11-8M1381 3219q7 0 16 4M1183 3318q5-5 12-2M1858 3429q4-8-1-14M1687 3347q-2 7 3 11M1175 2962q-11 0-20-2M1174 3260q-5 6-7 10M1704 3317q-2 7-12 7M1626 3481q-13 1-16 11M1185 2963q-10 1-19-2M1850 3326q8 0 12 5M1360 3038q-6 0-11 2M1840 3162q5 4 12 6M1276 2982q-8 1-10-5M1588 3229q-4 7-2 18M1758 3472q0-7 3-12M2025 3441q-2-6 1-12M1878 3060q-4-4-12 0M1751 3323q8 0 11-5M1597 3329q-1-10-8-12M1184 3358q-6 0-16 1M2003 3189q13 0 19-3M1295 3417q-10-7-19-11M1653 3254q5 9-1 17M1676 3180q-4 7-14 5M1934 3438q9 6 13 11M1469 3333q0 11 5 17M1983 3312q-9 3-14-1M1660 2937q5 9 2 20M1448 3430q-10 9-16 10M1900 3144q6 1 11-2M1770 3257q6 8 17 8M1283 2964q-6 6-13 11M1689 2958q1 10-7 16M1225 3268q6-8 3-16M1763 3057q6 10 14 14M1639 2875q-4 7 3 13M1390 3001q8 2 16 0M1439 3097q-2 11-10 13M1656 3360q-3-6 0-10M1658 3465q1 6 10 10M1924 3219q-8-9-2-16M1722 3275q11-7 15-6M1331 3049q12-5 11-14M1207 3090q11 3 13 7M1660 3130q9 7 15 7M1505 3413q0 12-6 15M1470 3485q0 6 5 8M1235 3168q5-9 16-10M1181 3396q6 11 12 20M1350 2951q-12 2-14 9M1193 3217q-7-11-11-14M1295 3174q8-4 17-11M1711 3476q7-7 7-14M1415 3216q-6 0-11 6M1287 3115q2-9 6-15M1223 3112q-7 4-11 1M1950 3092q11 0 17-6M1562 3231q-7 4-15-4M1852 2861q10 6 12 13M1533 3189q6 3 4 8M1153 3097q9-6 11-12M1395 2939q-7 1-9 9M1252 3419q10-8 17-13M1943 3445q-5 8 0 16M1805 3197q-5-12-10-12M1278 3245q-12-5-16-7M1505 3249q6 8 12 7M1576 3287q6-8 5-14M1582 3231q-9-4-20-7M1384 2952q-3-8-2-13M1461 3416q-8 10-11 18M1565 2947q-8 0-14 3M1353 3046q13 1 21 5M1401 2883q-7 1-12-6M1698 3392q-3-7-1-12M1242 3434q-1-11 9-17M1886 3218q-11 2-17 4M1815 3454q-1 6 4 12M1801 3275q6-3 11 3M1531 3467q1-12 10-20M1770 3405q13-1 15 5M2041 2915q-1-6 1-10M1972 3437q5 2 8 6M1620 3310q-3-6-12-5M2044 2914q6-6 3-14M1395 3067q3-11 10-16M1452 3304q-6 2-11 2M1806 3394q11 7 16 4M1233 3234q-1-7 3-11M1680 3350q-7 5-16 6M1161 3214q-8-8-16-11M2001 3210q10-1 18 5M1730 3424q13 3 13 11M1702 2979q-5 8-10 9M1376 3385q7 6 5 17M1908 3471q4 4 13 6M1877 3115q11-1 21 4M1761 3472q7 8 15 16M1380 3382q-10 8-15 6M2020 3341q5-12 9-15M1430 3150q-9 3-16 1M1544 3327q-9 3-16 5M2035 3319q-6 4-11 8M1633 3461q1 12 7 20M1928 2892q-2-8-6-12M1576 3153q6 9 12 10M1726 3461q1 10-1 14M1589 2935q1-8-4-11M1310 3222q6 7 7 14M1416 3463q-5-5-10-10M1390 3319q6-1 11-5M1441 3462q0-12 2-20M1446 2877q-8 2-13 5M1911 3016q-5 4-15 0M1743 3437q-3 6-4 11M1291 3137q4 11 7 20M1773 3208q1 10 3 21M1759 2964q11 1 16-2M1529 3399q-6 7-10 12M1994 3487q2 9-2 11M1613 3106q10 7 6 15M1850 3312q-11-5-19 2M2083 3216q-7-8-17-9M1234 2940q-12-1-17 0M1863 3031q10 8 17 11M2071 3466q-9 0-15-1M1768 3079q-8 10-3 17M1167 3079q-4 5-7 12M1819 2987q6 3 10 1M1199 3407q10 5 16 2M1560 3468q10 2 16 7M1375 2991q-6-8-13-9M1572 2993q13 3 16 12M1208 2957q-3-7-9-11M1256 3009q8-4 10-12M2071 3131q-6 2-5 13M1626 3160q-6-8-5-15M1964 3151q6-2 15 4M1251 3462q-6 1-14 2M1159 3319q6 0 13-7M1947 3207q2 7-6 10M2050 3202q-6-12-8-22M1618 3125q3 9 4 16M1308 3231q3-12 0-15M2015 3202q5 11 10 18M2068 3445q9 6 20 9M1666 3229q-6-10 2-18M1156 2914q6-6 8-10M1876 3195q3 11-1 18M1165 3197q-4-5-6-14M1336 3468q-5 3-14 8M1373 3218q-6-3-13-12M1942 3166q6-2 16-1M1335 2873q-2-9 3-15M1793 3122q-3-9 0-16M1774 3479q4-6 9-15M1737 3306q-8-5-12-11M1520 3388q2-5 2-15M1967 3104q12-3 17-2M1853 2917q2-6 6-16M1643 3455q1-10 6-19M1652 2979q-1-7-4-15M1675 3413q-11-8-20-4M1262 3487q-9 5-11 16M2095 3462q4-5 3-14M1266 3458q-9 10-13 20M1799 2998q10-2 16 0M1733 2865q-6 4-18 5M1849 2923q-4-9-8-15M1618 3041q1 13-6 16M1247 2860q-11 4-11 11M1213 3403q-4 9-10 13M1415 3050q11 0 15 2M1625 2969q6-7 9-15M1341 3046q-11 1-16 6M2038 3257q0-12 5-18M2035 3395q5-13 9-14M1331 3139q-2-13-5-17M1603 3375q4 11 3 21M2068 2955q-6 7-11 8M1706 3123q-10-6-16-8M1633 3319q2 8 3 19M1543 3144q-5 2-13 1M1347 3085q2-12-3-20M1664 3383q-3-8-2-16M1947 2910q-5 4-11 4M1786 3358q-7-8-16-15M1911 2905q-6-3-12-4M1302 3445q12-4 21-5M1154 2933q10 4 14 10M1361 2973q4-7 4-14M1224 2987q-10 4-14 10M1398 3208q8 8 14 4M1519 3208q-8-1-16 4M2091 3446q-6-2-6-12M1850 3232q7-9 12-13M1831 3022q9-3 12-14M1446 3360q-9 2-14-8M2038 3306q2-5-2-11M1307 3023q1 10 2 18M1657 3467q-5 3-6 9M1802 2901q7-4 10-10M1800 2947q4 12 3 20M1714 3364q12-6 21-12M1979 2973q-8-7-12-9M1216 3246q-8 5-10 12M1579 3429q-10 3-13 6M1347 3249q-7-9-9-18M1917 2963q2-5 8-4M2058 3381q8 6 15 12M1439 3272q-7-2-14-5M1783 2871q11 3 16-5M1238 3355q7-8 13-7M1483 3036q10 1 18 1M1517 3483q5-7 2-12M2041 3440q9-1 15 2M1242 3208q-6-4-10 1M1705 3127q8-9 10-20M1989 3267q-7 8-17 15M1530 3468q-10-5-11-14M1806 3325q7-2 9-8M1199 3156q2-7 9-6M1969 3431q13-2 24-3M2081 3414q-1 9-7 15M1519 3469q-2-6-7-7M1886 3483q0 13-7 15M1902 3064q13-3 20-7M1310 3418q-1 8-4 14M1802 2903q-6 1-11-1M1946 2915q12-5 14-16M1300 3457q-1-7-2-11M1656 2935q11 0 15 8M1782 3268q-13-1-18-10M1669 3067q0 11 5 14M1245 3152q-10 3-18 3M1359 3058q-10-1-18-1M1545 3074q-8-10-12-17M2035 3258q-4-6-10-8M1152 3347q-7-8-2-17M1978 3364q-4 8 4 16M1352 2944q6-10 11-11M1745 3150q-5 7-13 6M1642 3098q-9 4-13 6M1286 3176q1-12 7-21M1576 3079q4 7 12 6M1873 3463q-9 5-14 5M1532 3354q2-8-4-13M1229 3139q-1-8 0-18M2085 3390q0-6-2-12M1264 3311q-4 7-2 13M2058 3387q9 9 14 15M1897 3194q11-1 20-5M1324 3473q-3 8 3 14M1202 3461q1 12-5 17M1328 2937q13 0 24 1M1483 3279q-8-8-7-18M1368 3144q6 8 6 15M1807 3185q-3-7 2-14M1701 3053q0 9 10 11M1838 2980q10 4 17-4M1164 2928q2-10 10-13M2088 3414q11-1 13-7M1883 3019q-4-9-13-16M1476 3474q7 10 16 8M1916 3385q12 2 16 1M1353 2887q6-3 15-6M1660 3447q-2-7-4-14M1975 3103q8 9 16 8M1419 2985q-9-9-6-17M1849 3313q0-12 2-21M1363 3054q-7-3-13-7M1527 2932q4-6 4-10M1967 3354q2 7 11 13M1564 3174q11-2 17-4M1349 3484q5-9 11-8M1545 3382q-1-9-2-19M1635 2915q-10 4-10 11M1811 2996q7-1 17 3M1939 3023q9 2 15 5M1227 3481q-2 6-13 7M1811 3267q6 6 11 3M2070 3479q12 1 22 6M1314 3171q-5 6-1 15M1321 3368q6-2 11 3M1800 3121q2-10 10-12M1332 3391q-4-8 3-14M1761 3428q-9-2-13 1M1225 3107q8-2 9-11M1235 3400q8 7 13 3M1566 3233q-7-2-9-8M1918 3335q7 0 13 7M1513 3077q10 5 16-3M1586 2904q13 2 20-3M1155 3160q-9-8-12-14M1848 2881q-3-5-11-3M1417 3306q7-3 7-10M1567 3340q6-1 13-1M1405 3422q10-7 20-2M1901 3228q8-1 12 5M1634 3400q-9-1-13 3M1471 3300q-8-3-11-7M1662 3155q-2-8 2-13M1184 3481q-13 2-21-4M1984 3307q1-8 6-9M1907 3438q-3-6-7-14M1296 3269q-11 7-11 14M1875 3110q-3-4-3-10M1319 3381q2-7 6-16M1293 3185q-8-3-11 0M1620 2936q-9-7-11-13M1929 3109q9-3 13 1M1508 3442q12 0 18 2M1438 2977q-7-8-16-14M1558 3291q4-9 13-6M1310 3459q-13-2-19-8M1964 3185q-6-9-8-19M1765 2915q-3-7 2-11M1341 3211q-9-5-16-1M1926 3290q-8-1-13 0M1965 3060q-10-2-19-5M2078 3161q-3-12-10-16M1856 3233q2 6 12 7M1263 3270q9 0 11 7M1567 3388q-1-7-6-8M1433 3417q1 10-9 15M1656 3206q8 5 13 13M2053 3219q-2-6-3-12M1546 3255q-5 11-9 15M1839 2885q12 6 11 17M1541 3039q2 8 12 8M1475 3060q2 9-4 14M2036 3282q5-11 4-16M1669 3295q6 6 12 11M1184 3478q-5-9-6-16M1610 3235q6-5 17-2M1288 3263q11-7 8-15M2036 3268q-5-7-10-10M1415 2887q2 12 12 16M1245 3049q5-2 10-5M1171 3313q-6 2-10-1M1173 3280q2 6 8 7M1671 2914q-1-9 6-16M1219 3273q5 8-3 15M1950 3008q12 0 17 2M1810 3217q1-9 11-11M1713 2862q-5 8 0 17M1849 3465q-9-6-16-6M1941 3092q7 1 14 2M1350 3392q-6-2-15-3M1412 3188q-10-9-13-16M1475 3286q-2 6-5 12M1498 2936q3-10 5-21M1694 3442q-1 6-1 17M1333 3401q-3 12-3 19M1758 3350q7 7 16 7M1968 3179q7 2 16 5M1921 3234q-12-3-20-6M1164 3301q-13 3-17 8M1256 3013q-10 9-15 11M1773 3262q-5-11-1-21M1392 3424q-3 9 0 15M1159 3451q6 12 7 21M1566 3129q11 0 20-1M1917 3133q-9 1-10 9M1820 3264q-5-10-1-19M1285 2885q-10 3-16 0M1803 3076q10 1 13-4M2042 3216q5 5 12 3M1766 3197q-8 0-11-5M1368 3114q5-5 10-4M1994 3261q-6 7-14 4M1200 3405q-6 6-5 13M2069 2869q-1-13 4-21M1855 3174q-4-7 0-17M1442 3286q10 2 13-3M1636 3388q0-8-1-17M1821 3440q1-7 8-10M1779 3050q12 0 19 1M2054 3395q-1 6-2 16M1359 3397q-6-3-17-1M1428 2932q-7 11-3 20M1685 3004q11 7 15 5M1603 3257q-2-5-9-5M1890 3114q10 2 15-5M1984 3028q-5-3-10-1M1935 3302q-10-7-17-7M1809 2897q1-7-3-11M2087 3321q-6 0-8-4M1251 2870q5 5 11 3M1989 2919q7 11 15 15M2006 3317q-4 6-13 2M1479 3049q-12 1-20-1M1801 2871q-3-6-12-7M1853 2909q11-3 20 0M1287 3248q-5-1-14-2M1723 3407q12-1 15 6M1340 3487q-9 7-12 11M1794 3097q1-9 4-20M1616 2878q-4 9-11 16M1529 2959q5-4 10-7M1958 3104q-11 1-22 3M1439 3025q-1-6-12-9M1786 3455q8 5 14 3M1741 3082q11 6 12 12M1502 3025q8-3 10-13M1940 3468q-9-9-13-20M1530 3142q12 0 22-2M1557 3329q-6 4-13 9M1500 3388q-4-7-13-11M2100 3376q5-4 17-3M1852 2975q8 3 13 0M1988 3053q-5-2-10-12M1245 3293q9-1 18 4M1807 2922q-6-8-2-15M1439 3350q-2-13-1-19M1332 3004q9 6 15 2M1819 2925q-4-10 3-13M2047 3212q2 7 1 12M1312 3249q3 10 1 16M1419 3125q5-3 11-4M1252 3187q13 1 22 4M1699 2959q10 6 14 16M1418 2876q-5-5-11-9M1947 3422q-9 7-9 16M1172 3182q-11 6-13 14M1673 3479q-9 1-18 6M1453 3078q-3 7-2 13M1629 3285q-4-7-3-13M1991 2890q-5-6-12-14M2030 3055q1-7-5-13M1195 2956q7-5 12-9M1972 2878q4-5 7-10M1679 3179q5-3 9-8M1334 3027q-3-7 3-15M1924 3176q6 0 13-3M1867 3365q5 4 10 11M1904 3222q4-3 13-3M2095 3292q-6 5-12 3M2068 3189q-11 2-17-1M1764 3132q-2 10-1 15M1416 3311q-3-7-8-13M2053 3135q-5-11-14-11M1673 3463q7 3 9-1M2029 3347q-7 9-8 19M2072 3358q-6 3-15 6M1472 2907q3 6 2 15M1641 3312q-10 7-18 2M2066 3164q-10 0-19 8M2094 3320q10-4 17 0M1879 2896q3-8 8-17M1604 3078q9-6 17-11M1711 3211q-6 6-15 5M1250 3128q5 10 5 21M1879 3003q8-2 15-8M1185 2911q1-10 8-13M2039 2985q-3-13 2-22M1162 3027q-5-2-8 2M1780 3284q-4 5-5 10M2104 3421q-8 1-12 7M1515 2964q1 13 2 18M1936 3187q-11-1-22-1M1375 3471q-9-9-13-14M2048 3103q-6 6-16 11M1478 2887q11 3 16-3M1892 2968q-2 5 5 14M2087 3105q12-6 17-5M1362 3363q7-6 11-11M1746 3259q13 4 17 11M1865 2932q-4 8-13 7M2077 2914q-5-6-5-15M1861 3151q11-7 9-13M1403 3305q2-11-1-22M1384 2963q4-6 12-10M2063 2975q9 0 12-4M1984 3303q-6 9-14 13M1732 3333q-5 2-4 10M2059 3041q11-6 14-11M2092 2875q5 4 9 9M2017 3002q-10-4-14-9M1586 3146q5 6 15 1M1964 2857q-2-6 0-17M2043 3332q1-5 7-5M1557 3057q6 7 10 14M1708 3290q-13 0-17-2M1987 3341q7 3 11 11M1385 2988q4 6 10 8M1231 3270q-13 0-24-3M1813 3080q5-8 13-6M1650 3059q7 2 15-1M1507 3106q8-2 8-8M1186 3226q8-4 9-9M1283 3445q7 4 15 2M1724 3270q-3 7-2 15M1921 3321q11-3 16-1M1380 3226q1-8-4-15M1977 3075q11-2 16 3M1186 3004q13 2 20-4M2095 3221q-10 4-19 8M2097 3013q4-4 9-8M1562 3484q-10-2-14-5M1751 3067q-9 0-17 6M2087 3348q11-5 10-15M1837 3159q9 9 16 5M1544 3151q12-1 17 0M2022 3440q0 12 4 19M1569 3396q-10 7-19 6M1647 3042q8 5 11 1M1592 3319q-13 0-23 3M1385 3474q1 6 5 12M1406 3044q-12-5-16-8M1451 3226q11 4 18 2M1469 3020q-6 8-10 11M1157 3187q-1-13 1-19M1571 3244q-9 3-17-3M1653 3352q-5 2-7 8M1344 3034q-6-9-14-13M1228 3165q-8 4-18 3M1375 3488q12-3 17-2M1315 3344q-5 7-12 6M1333 3351q-10 1-14 7M2063 3444q-2 7-12 10M1755 3160q-12 4-18-4M1683 3475q-7-4-12-6M2095 3313q-7-4-13 2M1586 3370q3 7 7 8M1445 3263q-11 7-16 17M1435 3004q-2 7 2 11M1247 3202q-1-6 6-10M1556 3069q3-6 5-15M1732 3365q-1 9 8 15M2045 3267q4-10 8-18M1881 2888q-13-3-21-10M1290 3268q7 11 0 20M1412 3325q6-6 12-11M1910 2979q-7-8-3-14M1734 3453q7-10 11-17M1920 3254q8-9 15-7M1327 3285q-5 4-11 9M1379 3006q0-10 1-20M1380 3152q-6 1-13 9" fill="none" stroke="#6c5eb6" stroke-width="7" stroke-linecap="round" opacity="0.75"/>
<path transform="scale(.1)" d="M2065 2944q13 2 17-2M1772 3074q6-5 11-1M1724 3445q-5-12-4-17M1992 3228q-3 6-11 8M2046 3345q10-2 18 0M1397 3461q-4 11-14 10M1286 3377q-3-6-12-4M1181 3441q-10 0-19 2M2025 3050q-7 7-9 16M1669 3129q-4-9-16-8M1490 3128q-11 7-17 2M1533 2916q5-4 11-8M1464 3081q2 5 5 15M1768 2983q-2-5-8-14M2030 3147q5-8 11-15M2097 3326q-11 2-18 0M1899 3374q-10-8-16-3M1756 3071q5 10 9 15M1190 3467q-4 5-3 11M1977 2969q-1 6-2 12M1479 3320q11-6 9-13M1961 2876q3 9 8 17M1836 3149q0 7 3 11M1786 2955q8-7 5-14M1727 2882q-6 0-9-2M1754 3479q4-6 8-10M1477 3402q2-5 3-14M1318 3363q8-6 13-15M1640 2974q-1 7-9 10M1815 3372q7-1 17-6M1877 3100q-4-6-9-6M1513 3004q-13-1-19 5M1976 3234q-11-2-16 8M1806 3366q3-6-1-10M1632 3449q7-5 17-7M1467 3469q11-4 18 3M1773 3058q-1 7 8 13M1435 2870q-3 6-4 12M1318 3157q-7 4-13 2M1667 3411q8-2 8-13M1641 2993q5 5 10 7M1197 3484q3-6 7-15M1632 2899q-5 7-13 6M1588 3254q10 3 14 12M1495 3036q6 0 11-6M1893 2992q-10 2-15 1M2029 3225q-2 7-11 14M1472 3107q-6-2-17-3M1681 3376q-1 12-6 16M1656 3287q-9-5-17-2M1489 3360q-9 10-14 13M1547 2936q0-6 1-12M1892 2935q-5-10-10-12M1506 3266q0 5 1 16M1301 3450q-7 0-10 6M1605 2966q8 5 16 4M1580 3296q-6-3-16 1M1198 2933q11 5 20 11M1748 3067q-10 5-14 14M1539 2882q-6 8-1 18M2034 3179q9-6 14-9M2060 3437q-8 3-9 11M1966 3101q-2 10-8 13M1420 3262q12 3 22 0M1584 2960q6 1 15-4M1908 3255q-4 10-10 14M1228 3152q1 7 4 11M2008 3033q9-7 4-17M1923 3188q7-6 4-11M1447 3398q3-6 3-11M1368 3078q-6 3-12 4M2000 3160q-10 5-15 10M1267 3042q1 11 6 20M1413 2899q-3 8-9 9M1352 2954q0 13-6 15M1198 3163q-5-3-15-6M1151 3310q-5-11-8-18M1645 2941q-7-1-12 1M1301 2890q-7-2-15-5M1373 2935q-9-6-12-14M1704 2871q-4 11-4 16M1552 3383q5 4 14 10M1523 3012q1-6-3-14M1961 3400q-3 7-4 12M1410 3340q8-1 10-11M2073 3358q-10 6-19 4M1621 3487q1-7 1-12M1508 3372q-10 1-14-2M1488 3161q-11 0-15-9M1671 3288q-13-3-21-8M1528 3120q1-8 10-12M2062 3302q-8-4-13 4M1868 3313q0-6 4-11M1521 3405q-8 5-6 11M1351 2991q-6-1-8 4M1851 3469q0-10-9-15M1274 2904q-12-1-22 4M1467 3467q-1-12 9-15M1337 3182q-11-3-19 1M1421 2972q-11 4-18 5M1366 3082q-6 5-9 10M1431 3281q-7-7-4-16M1274 3111q-11-2-16-3M1605 3270q2-9-1-13M1630 3330q7 6 12 13M1371 2913q8 1 10 8M2092 3377q-8-5-16-11M1469 2954q8-6 13-12M1247 3214q2-9 9-16M1466 3259q11-2 16-10M1766 3346q-4-12 1-15M1608 2884q6-1 15-3M1560 2964q-7 0-17 0M1436 3138q-7-7-5-18M2073 2960q-6 1-13-2M1961 3161q2-5 6-11M1945 2920q9 6 17 6M1536 3479q-9-9-7-19M1577 3039q-13-1-16-9M2016 3338q10 3 12 7M1511 3264q-10 0-13 5M1980 3076q-10 1-16 6M1633 3405q4-6 9-14M2006 3191q-7-8-10-18M2091 3483q8 8 14 11M1245 3431q8-6 12-10M2036 3334q5 9 0 13M1506 3085q-4 5-10 7M1800 3151q6-10 12-9M1909 3345q-1 5 6 12M2075 2898q0 9 9 12M1969 3388q6 12 4 17M1965 3444q8-8 17-7M1158 3285q-7 0-12 9M2014 2887q11 1 21-4M1591 3306q11 3 18-1M1614 3061q0 9 6 11M1274 3396q-5 12-11 13M1967 3480q-9 3-17 2M1401 3319q2 8 8 9M1920 2942q3 8 7 11M1202 2982q3-11 12-15M2103 3018q-2-9 4-13M1841 3346q11-3 18-9M1911 3450q0 11-3 16M1264 3211q-7-5-10-9M1697 3193q5-10 0-16M1271 3188q-5-10-13-8M1317 3176q-9 0-14-4M1605 3011q3 10 13 13M1508 2927q1-5-2-14M1165 3299q-12-5-23-4M2086 3171q7 4 8 8M1755 3185q-1-8 4-11M1548 3049q-7-3-14-3M2031 2873q-1 6-9 13M1166 3351q7-6 16-11M2035 2998q-2-6-8-15M1750 3193q-9 3-8 12M2049 2930q10 2 14 9M1230 3263q-4-6-2-14M1901 3004q-7 8-17 12M2051 3311q9 1 18 6M1450 2893q-6-3-11-7M1989 2874q-12-4-16-8M1673 3378q-9-9-8-17M1268 3292q-12 1-21 4M1287 3334q8-9 17-10M1313 3064q-1 8-4 14M1779 3419q5 0 14 2M1563 3320q5-5 11-7M1570 3079q5-12 14-12M1828 3267q-6-2-17 3M1718 2928q-4 5-1 12M1429 2867q-13 0-20 1M1514 3024q-3 6-6 17M1499 3412q-11 0-18 0M1995 3229q3 7 8 14M1510 3023q-4 13-14 18M2005 2945q-11-3-19-4M1754 3255q3 5 7 7M1445 2880q8 7 18 5M1550 3384q-12-4-19-6M2037 3289q-11 5-20 4M1176 3418q4 3 10 5M1380 3162q-11 0-16-8M1977 3128q7 9 3 13M1736 3100q6-1 13-2M1503 3326q8 0 10 8M1163 3246q-7-11-2-21M1403 3056q-3-8-6-11M1339 2940q-8 8-7 14M1229 3113q-9-5-14-12M1815 3362q3-5 11-3M2098 3338q-6 1-8 11M1156 2887q-3-10-2-15M2065 3329q10 1 16-2M1736 3477q12 2 13 7M2007 2864q-2 5 0 10M1686 3131q11-2 12-7M1416 3371q4-12 13-14M1684 3388q5-11 14-11M1233 3250q-4-12 0-23M2022 3062q9-4 15-9M1624 3117q-1-7-5-16M2077 3317q-8-3-16-11M1167 3100q-2 11-5 15M2007 3113q4 5 10 3M1228 3301q6 7 8 14M1428 3142q-10 3-17 2M1800 3396q10-2 13-5M1560 3482q11-1 15-5M1298 3129q7-2 14 3M1405 3142q10 3 11 10M2076 3038q-7 9-6 13M1627 3166q4 6 9 5M1293 3267q8-7 9-15M2062 3082q-1-5 5-14M1669 3422q-10-7-16-11M1409 3210q1-6 3-10M1765 3308q9-5 19-6M1793 3294q-5-11-14-19M1334 2883q9 3 11 8M1995 3171q-3-6 2-11M1379 3249q10 3 12 8M1392 3029q4 10 0 17M1814 3429q4-8 9-8M1936 2909q-3 6-6 10M1730 2961q-4-8-9-11M1873 2977q-6 11-16 11M1759 3389q6-10 13-13M1873 3105q-5-2-13 3M1231 2918q9-9 18-4M1437 3238q-6-1-12 6M1555 3219q5-3 7-14M1261 3088q-7-2-13-3M1923 2998q-2-9-2-14M1996 2864q4-4 7-11M1734 3023q8 0 15-7M1778 3239q12-4 19-12M2002 2890q-12-1-19 0M1614 3389q11 1 20 8M1767 3024q-7-9-17-8M1723 3229q-6-8-12-8M1152 3056q2 10 7 11M1645 3353q-6 1-10-7M2023 3331q10-7 21-6M1793 3471q6-3 15-10M1797 3247q-5 3-9 6M1309 3146q-10 4-20 5M1693 3358q9 2 10 12M1945 3469q5 8 2 14M1643 2974q11 6 16 15M2005 3207q6-10 10-17M1345 3133q3-5 9-3M1632 3043q10 2 16-2M1946 3141q-4 5 3 13M1613 3048q1-10-7-18M1541 3065q9-1 19-3M1769 3013q6 2 13-4M1508 3191q-1 6-11 5M1807 3254q11 4 13 10M1970 3465q6 11 16 9M2082 2945q-5 2-10 3M1620 2974q4 10 9 13M1424 3094q-5-9-7-18M1409 3286q6 2 13 7M1414 3477q9 8 15 14M1557 2894q-10 4-20 1M1438 3179q7 6 15 11M1240 2886q-8-8-17-4M1293 3396q-5-5-14-11M2057 2878q-6 3-13-6M1551 3393q0 12 5 17M1655 3325q-6 1-7 7M1420 3267q5 12 5 19M1698 3390q0 11-5 20M1782 2894q5-5 9-8M1903 3378q4-10 12-11M1966 3033q5 5 13 11M1888 3047q2-13 0-22M1429 3104q2 8 9 9M1911 2972q3 12 7 17M1310 2877q8-8 17-2M1746 3455q0 11-4 15M2030 3471q1 7 7 8M1476 3361q1 7-2 17M1154 3355q-3-7-6-11M1570 2857q0-10-5-13M1709 3039q1-10 5-14M1345 3452q-2-9 3-10M1728 2937q-3 7-3 11M1321 3284q5 8-3 15M1245 3320q-9-5-11-16M1496 3376q3 9-4 17M1481 3417q-11-6-13-14M1487 2939q5-4 3-11M1280 3002q-3-8 2-13M1978 3378q-1 10-4 15M1185 3406q7 1 13-8M1772 3177q-13 0-20 8M1429 3022q-3-8-5-18M1202 3101q-10 7-17 5M1528 3348q0-6 7-13M1422 3280q-7 1-9 9M1848 3116q-4-5-2-15M1623 2922q9 0 12-3M1452 3444q-11-1-18-1M1307 3212q-3-9-7-17M1344 3447q4-5 14-4M1183 3344q3-7 0-14M1187 2949q-2-8-9-17M1912 3042q5 2 11 8M2094 3196q-9-8-15-13M1493 3168q-3-9 0-16M1744 3119q-11-4-14-1M1358 3002q6 8 12 13M1885 2930q10-5 14-15M1968 2856q-6 9-7 15M1423 3038q-2-9-8-19M1477 3202q11-8 16-13M1737 3190q-9-3-14 0M1684 3001q-6 1-10 5M1617 3427q3 6 9 10M1237 2907q-5-11-15-9M1911 3325q0-6-5-15M1644 3348q0 12-6 15M1850 3487q7 2 8 12M1492 2962q5-3 8 0M1467 3170q-10-6-21-10M1459 3080q8 0 13-1M1914 3184q7-8 9-13M1484 3163q-7 6-7 12M2029 3358q-8 9-5 17M1415 3038q-10 0-15 3M1523 3377q11-6 22-4M1190 3412q-4 4-3 15M1784 2909q-5 12-16 9M2002 3443q7-6 8-15M1188 3203q-1 7-1 16M1612 2926q7-1 18 0M1800 3134q5-4 9-7M1631 3044q4-8 2-13M1272 3170q8-10 13-11M1757 3014q4 4 4 9M1978 3061q-9 9-8 17M1965 3257q0 6-6 12M2055 2969q-2 11 1 22M1440 2930q-6 0-17 4M1776 3127q-6-10-17-8M2011 3116q3 11 4 16M1726 3177q-5-3-10-8M1974 3308q-2-10-11-16M1398 3461q-9-2-16-1M1632 2954q-5 3-10 5M1365 2870q-6 0-15 0M1269 3069q-3 9-1 16M1973 2868q11-6 21-7M1849 3122q3 5 5 15M1830 3478q-3 10 1 20M1212 3238q5-5 12-2M2101 3048q7-5 17-1M1699 3327q0-13 7-18M1838 3225q0 6-5 7M1553 2973q1 7 1 12M1973 3239q5 5 6 16M1540 2868q0 10 3 19M1203 3478q9 5 18 11M1559 3084q-8 10-14 13M1550 3091q11 8 10 19M1643 2889q6 4 12 7M2070 3420q-7 3-13 8M1561 2917q6-10 12-7M1566 3351q-11 6-17 5M1837 3135q7-3 9-9M1225 2932q6-8 16-9M1759 3105q6-6 10-4M1734 3467q-8-2-16-3M1306 3124q3 9 4 17M1820 2865q7 4 15-2M1833 2987q-7-2-16-1M1616 2911q9 4 12 12M1659 3190q-12 0-19-1M1400 3098q-10 1-11 9M2039 3123q1-11 9-12M1245 3213q13-4 20-3M1768 2912q3-11 1-21M2016 3414q6-9 11-16M1585 3046q-6 1-15 4M1425 3411q10-8 20-13M1253 2958q6 5 12 1M1997 3181q8 6 14 13M1297 3022q-7 6-15 5M1801 3197q-5 4-14-1M1838 3226q3-7-4-12M1480 2952q-3 13-7 16M1404 3349q-4-6-7-17M1160 3450q-2 7-4 15M1278 3011q-2-7-10-8M1647 3395q-6-9-2-17M1700 3243q-10 5-19 12M1718 3436q7 9 15 9M1508 2874q3-10 2-18M1983 2925q-3 12-14 11M1453 3027q3 5 11 6M1801 2857q2 12-1 17M2076 2986q3 8 7 19M1369 3402q-10-8-9-19M1752 3262q-8 1-13-1M1350 3469q-8 4-15 5M1376 3312q-9 8-15 13M1508 3264q11 7 20 4M1166 3225q4 10 10 20M1368 3453q1-9 7-14M1502 3324q3-8 8-11M1969 3453q8-2 17 2M1309 2915q-7-11-8-20M2057 2979q6-1 11 2M1870 3109q9-4 14-1M1984 3034q1-7-4-10M1604 2859q0 6 6 11M1311 3278q-1 8-2 17M1588 2895q-5-8-13-9M1154 3241q-3 10 3 16M1553 2856q-6-1-9-7M1330 3113q-6-7-7-17M2098 3250q-7 11-10 17M1156 3305q-5-4-3-9M1715 3226q-8 4-16 4M1477 3074q-9 0-19 5M1780 3485q4 11 5 18M1638 3359q-7-2-17 2M1242 2936q-4-10 0-16M1465 3471q-3 11 2 16M1602 3181q12 3 12 13M1927 3435q12-2 17-4M1509 2890q-13 0-16-6M1775 3028q2-7-4-13M2071 3133q-12 0-22-3M1682 3091q-9 3-11 9M1293 3274q-10 3-18 9M1896 2905q12 4 22-2M1467 3032q10 3 14 5M1850 2886q-13 2-14 13M1880 3054q-5-5-8-16M1471 2868q8 1 18 7M2015 3377q-8-8-11-13M1917 3098q7 11 6 16M1654 2876q3-7 6-17M1844 2884q-7-5-17-6M1806 3319q0 8-1 17M1607 3395q2 6 5 14M1955 3038q7 0 14-2M1310 3009q-5 5-5 15M1437 3431q-3 5 0 15M1692 3442q-7 3-13 8M1863 3462q-3-12-8-17M1155 3420q9-6 13-12M1707 3072q-7 1-15-6M1820 3423q9-4 7-13M1569 3080q-1 10-7 13M1702 3139q5-8 10-7M2064 3062q2-9-3-19M1730 2957q-7-6-3-14M1726 3283q9 1 11 9M1394 3012q-4 8-3 16M1306 2913q8 4 14 0M1340 3097q-2-5-11-11M1193 3457q6 5 3 15M1393 3136q-5 8 1 16M1569 3398q5 5 4 14M1517 3274q7 2 16-4M2013 3432q-9-10-16-11M1993 3377q3-11 6-14M1443 3080q5-6 12-11M1566 3100q-4 8-6 13M1936 3016q-5 3-8 12M1722 3379q-5-7 2-14M1851 3429q2-9 10-9M1543 2975q3 9 1 16" fill="none" stroke="#fafaf4" stroke-width="8.5" stroke-linecap="round" opacity="0.9"/>
<path transform="scale(.1)" d="M2033 3455q4-3 10-6M1656 2937q3 7 9 10M1174 2909q-2-8-4-16M1493 2891q2-9 7-15M2077 3085q0-7 3-15M1450 2909q-10 2-17 1M1763 2970q3 6 1 11M1259 2917q7 2 15 6M1466 3089q-2 7-8 11M1397 2923q2-10 7-12M1671 3437q-10-6-19-3M1203 3118q11 2 19 8M1919 3456q-12-3-15-8M2081 3094q2 5 4 10M2042 3457q1 5 2 10M1669 3370q0 8-6 11M1477 3420q4-10 10-14M1812 3380q-4-5-10-7M1887 3208q-10-3-16 2M1468 3209q3-6 8-5M1687 3198q1 9 2 16M1836 2857q-7 7-6 17M1344 3286q4 7 7 11M1818 3159q-3-8-5-15M1434 3424q10 6 10 13M1892 3281q-5-4-12-5M1439 3462q-4 6-7 15M1606 3206q0 7 5 9M1402 3394q-6 0-10 0M1691 3135q4-5 10-5M2088 3256q10 3 16 1M1290 3385q9 5 17 8M1430 2905q8-5 9-15M2021 2971q9 1 15-6M1598 3304q-9-4-11-12M1715 3062q4 4 2 9M1557 3056q-6-6-5-13M1496 3267q0-11-6-20M2087 3477q5 5 5 15M1188 3105q-2-10-2-15M1539 2892q-3 7-11 9M1546 3011q-4 9-5 14M1935 3219q8-2 15-1M1731 3437q9-1 14-2M1952 3103q-4 4-1 9M2081 3324q-2-9-6-12M1725 2895q-7-4-11-7M1215 3155q6 7 13 10M1866 3239q-6-1-16 1M1406 3035q-9 0-13-4M2070 2869q2-9 7-10M1808 3455q-3-5 3-13M1256 3379q5 3 7 11M2064 3255q-7 0-17-3M1768 3409q3 10 2 14M1933 2966q1 5 0 10M2082 2855q4-10 8-16M1912 3258q7 8 14 12M1639 3427q-9 6-9 12M1790 3242q3-5 12-7M1286 2944q-10-6-15-11M1634 3367q-9-1-18-5M1914 3386q-1 9-8 14M2059 3434q6 6 11 8M1628 3478q1-5-3-11M1995 3146q5 7 9 9M1716 3482q2-10-4-15M1758 3336q-5 2-9-3M1855 3149q1-7-4-11M1608 3357q-8 5-13 13M1316 3412q5-2 12 4M1812 2922q-1-10 1-20M2054 3256q5-3 9-9M1649 3458q-6-7-10-16M1532 3323q-6-5-11-5M1160 3068q-2 5-3 11M2034 3349q-6-9-10-11M1732 2999q8-1 11 4M1240 3252q-2-6 5-13M1806 3476q6-1 13 4M1849 3070q-9-2-10-7M1508 3054q1-5-2-8M1261 3130q5-5 2-13M1468 3217q0-8 5-14M1963 3338q8-6 11-13M1888 3352q-1-11 4-16M1762 2883q-10 1-15-7M1570 3000q7-6 7-11M1989 3220q9 8 14 15M1920 3017q-6-1-12-4M1904 2928q2 7 9 7M2069 3403q5 10 10 12M1759 3041q2 5 7 7M2021 2882q-6-2-9-5M1505 3322q8 1 14-1M1750 2906q4-5 9-5M1240 2978q6 3 10 1M1964 3190q-8 0-11-3M1193 3277q8 0 17 4M1151 3109q-3 8 4 14M2064 3202q-5-9-2-18M1615 2910q3-10 7-14M2081 3249q-4 10-2 15M2015 2890q5-6 12-10M2012 2994q7 5 14 3M1255 2912q-5-2-11-1M1241 3365q4-3 9-2M1847 2893q0-12-4-15M1475 3399q1-6 10-8M2064 3471q5 8 10 7M1662 3003q1 7 5 17M1705 3207q-1-6 4-13M1928 3140q-5-1-13-3M2057 3422q-5 9-16 9M1800 3064q3-4 9-7M1993 3248q2 6 11 5M1898 3091q1 9 8 13M1478 3057q-2-6-8-11M2049 2950q-2 6-1 13M1933 2970q-2-8-2-15M1726 2969q-6-5-6-13M1540 3480q2 4 11 5M1238 3321q6 4 8 7M1563 3488q-1-8 5-12M1924 3073q-7 7-16 7M1294 3122q-3 6 3 13M1285 3079q10 1 14 3M2057 3485q0-11 2-14M1411 3005q9 1 15 4M1865 3003q-1 6 4 14M1618 3321q6-7 10-17M1226 3117q7-6 11-15M1874 3313q-1 10-6 18M1640 3443q-1-6-1-11M1740 3061q7 0 14 7M1507 3228q1 7 3 16M1635 2957q-5-7-9-13M1978 3269q-4-7-9-12M1798 3132q6 3 9 0M1493 3094q-6 2-10 8M1427 3020q-10 1-11 4M1578 3421q-5-5 0-12M1938 3388q6 1 9 7M2010 2900q9-4 16-9M1661 3146q4 10 10 11M1234 2865q-1 5-3 11M1167 3149q-1 6-4 12M1202 3444q6-1 14 1M1387 3196q-1 7-1 11M1370 3478q1-7 7-7M1963 3059q6-5 11-3M1527 3073q2-11-3-15M1315 2897q4 4 10 6M2014 3268q0-7-2-13M1372 2868q-2 11 5 15M1371 3338q8 2 13 7M1287 3418q11 1 17 10M1977 3089q-6-6-9-11M1966 3050q-5-2-11 5M1491 3092q10-1 14-7M1611 3238q-1 7-9 8M1676 3293q0-6 5-11M1294 3055q11-1 14 6M1758 3106q-1-9-6-18M1628 2881q2-5 1-12M1352 3139q-8 3-16 3M1198 3005q5 5 13 10M1163 3368q6 8 2 18M1700 2890q-2 8-9 15M1987 2895q7 7 14 7M1636 3200q-7 9-7 16M1304 3038q6 7 11 4M1922 3394q-5 9-13 10M1743 3332q-3 7-2 12M1640 3196q2 5 7 4M1299 3248q3-8 8-13M1221 3328q1-6-3-13M1824 2959q-6 5-13 10M1290 3093q5-3 7-12M1746 3156q-5 1-11 1M1571 3443q-8 0-13 3M1740 3308q4 3 8 5M1722 2957q-8 0-10-6M1400 3069q-4-5-12-8M1656 2900q3-5 4-12M1586 3340q6 8 10 8M1817 3346q4 3 12 2M1180 3457q10 1 14 6M1928 2966q1-9 10-13M1901 3402q0 5 7 11M1645 3167q-5 1-9-6M1709 3168q6-5 14-11M1292 3378q-5-5-12-4M1430 2856q5-9 13-9M1538 3434q0 7 2 15M1245 2891q4-2 11 0M2067 3399q-9 2-14 0M1169 3482q-10-3-14-5M1248 3004q10-2 15-7M2075 3175q-4 8 0 15M1218 3184q4 3 5 10M1303 3107q6-5 7-12M2005 3245q-9 2-18 7M1410 2993q-11 1-17-4M1152 3361q5-3 6-8M1274 2947q-10 0-17 1M1806 3377q10-2 14-2M1431 2977q10-3 11-8M1553 3253q7-1 13 1M2014 3172q1-9 7-16M1523 3138q-7-7-11-12M1617 3178q-5 5-4 9M1299 2910q-8 8-13 17M1808 3444q-7-10-6-14M1152 3463q-5 8-15 5M1651 3063q-8-5-16 0M1154 3101q6-9 16-9M1585 3124q-8 1-12 6M1608 2867q-5-2-8-5M1327 3145q1-12 7-18M1566 3183q-11-3-12-7M1809 3310q9-7 13-13M1375 2977q7-7 13-6M1879 2865q-7 0-16 6M1153 3460q-6-10-13-17M1677 3220q-5-5-7-9M1181 3311q11 2 19-4M1444 3308q-5 8-3 13M1405 3477q6-4 14 2M1286 3247q2 7 6 11M1710 2993q-3 5-2 14M1424 3469q4 3 11 3M1447 3108q0-10-7-17M1494 3216q-7 8-12 12M1315 2904q-1 11-7 13M1219 2981q5-2 9-5M1624 3073q12-1 21-2M1794 3148q1-5-6-11M1644 3288q-9-7-14-6M1426 3404q-10 0-15-5M1854 3353q-9-1-15 0M1351 3218q4-5 7-11M1433 3441q-1-5-1-12M1499 2925q-6-4-8-9M1644 3136q-3-4-3-11M1390 2961q2-5 5-9M1478 3467q4 5 10 2M1222 2883q-5-11-12-12M2070 2967q5 7 12 5M1946 3412q7 6 12 10M1326 3238q6 8 10 7M1967 3068q-7 5-10 7M1932 3474q-2 6 0 14M1653 3209q-5-4-10-9M1748 3260q6-1 13-1M1304 3090q0 9-3 14M1592 2986q-10 6-16 3M1475 2970q8-8 6-14M1532 3006q-5-9-14-16M1731 3008q-2-5-7-11M1326 2923q-8 8-8 15M1733 2973q-8 8-15 8M1748 2859q1 7 7 9M1736 3276q-7-5-6-11M1434 3006q-3 11-5 20M1614 3100q-4-3-9-7M1612 3113q-5-8-12-5M1547 3090q4 10 10 11M1462 3433q-6 1-9 6M1935 2857q0 10 8 13M1951 3146q-3-8 4-16M1715 3313q-3-10-7-17M1546 3398q3-7 8-15M1851 2996q-5 1-12 7M1320 3245q1-12 0-16M1552 3267q1-11-5-14M1847 3028q4-11 4-19M1195 3279q10-3 17-10M1153 3211q7 3 12 2M1988 3369q-6-1-11-3M1674 3281q6-2 9-7M2051 3363q-5 6-12 7M1711 3114q-4-3-13 0M2031 3211q-4-7-11-11M1896 3430q0 8 1 17M1983 3471q-4-8-9-8M1171 3247q-4-2-5-11M1808 3012q-3 8-2 16M1774 3235q-5 11-4 18M1515 2878q-6 8-12 7M1302 3256q8 3 14-3M1876 3347q-6 9-9 13M1826 2992q10-3 9-12M1582 2888q-9 2-9 7M1882 3019q5-6 11-8M1167 3280q-2 9-8 14M1331 2958q5-10 6-18M2069 2950q-10 0-17-4M1905 3090q1 7 5 12M1265 3388q-6-8-8-17" fill="none" stroke="#9050a8" stroke-width="6" stroke-linecap="round" opacity="0.5"/>
<ellipse cx="144.7" cy="290.7" rx="3.8" ry="1.9" fill="#f8f6fa" transform="rotate(7 144.7 290.7)"/>
<ellipse cx="121.7" cy="303.2" rx="3.4" ry="2.4" fill="#f8f6fa" transform="rotate(15 121.7 303.2)"/>
<ellipse cx="143.8" cy="300.3" rx="4.8" ry="2.4" fill="#f8f6fa" transform="rotate(18 143.8 300.3)"/>
<ellipse cx="168.8" cy="298.4" rx="2.4" ry="2.9" fill="#f8f6fa" transform="rotate(27 168.8 298.4)"/>
<ellipse cx="172.6" cy="309.0" rx="2.9" ry="1.9" fill="#f8f6fa" transform="rotate(14 172.6 309.0)"/>
<ellipse cx="189.9" cy="293.6" rx="3.8" ry="1.4" fill="#f8f6fa" transform="rotate(25 189.9 293.6)"/>
<ellipse cx="199.5" cy="297.5" rx="2.4" ry="1.4" fill="#f8f6fa" transform="rotate(-28 199.5 297.5)"/>
<ellipse cx="181.3" cy="322.5" rx="3.8" ry="3.8" fill="#f8f6fa" transform="rotate(-2 181.3 322.5)"/>
<ellipse cx="134.2" cy="333.0" rx="3.4" ry="2.9" fill="#f8f6fa" transform="rotate(27 134.2 333.0)"/>
<ellipse cx="120.7" cy="330.2" rx="2.9" ry="1.4" fill="#f8f6fa" transform="rotate(9 120.7 330.2)"/>
<ellipse cx="181.3" cy="335.0" rx="2.4" ry="3.4" fill="#f8f6fa" transform="rotate(24 181.3 335.0)"/>
<ellipse cx="153.4" cy="318.6" rx="2.9" ry="1.4" fill="#f8f6fa" transform="rotate(-23 153.4 318.6)"/>
<ellipse cx="123.6" cy="341.7" rx="1.9" ry="1.4" fill="#f8f6fa" transform="rotate(-2 123.6 341.7)"/>
<ellipse cx="139.9" cy="322.5" rx="3.4" ry="1.4" fill="#f8f6fa" transform="rotate(-15 139.9 322.5)"/>
<ellipse cx="116.8" cy="319.6" rx="1.9" ry="1.0" fill="#f8f6fa" transform="rotate(3 116.8 319.6)"/>
<ellipse cx="197.6" cy="310.9" rx="3.8" ry="1.4" fill="#f8f6fa" transform="rotate(4 197.6 310.9)"/>
<ellipse cx="161.1" cy="333.0" rx="1.9" ry="1.4" fill="#f8f6fa" transform="rotate(-29 161.1 333.0)"/>
<ellipse cx="205.3" cy="304.2" rx="1.9" ry="1.2" fill="#f8f6fa" transform="rotate(-17 205.3 304.2)"/>
<ellipse cx="130.3" cy="291.7" rx="1.9" ry="1.2" fill="#f8f6fa" transform="rotate(-13 130.3 291.7)"/>
<ellipse cx="157.2" cy="307.1" rx="1.7" ry="1.2" fill="#f8f6fa" transform="rotate(25 157.2 307.1)"/>
<ellipse cx="203.4" cy="326.3" rx="1.7" ry="1.3" fill="#f8f6fa" transform="rotate(16 203.4 326.3)"/>
<ellipse cx="170.7" cy="290.7" rx="1.7" ry="1.2" fill="#f8f6fa" transform="rotate(-20 170.7 290.7)"/>
<ellipse cx="191.3" cy="306.1" rx="1.1" ry="1.3" fill="#f8f6fa" opacity="0.9" transform="rotate(-46 191.3 306.1)"/>
<ellipse cx="160.5" cy="320.8" rx="1.7" ry="0.7" fill="#f8f6fa" opacity="0.9" transform="rotate(16 160.5 320.8)"/>
<ellipse cx="162.8" cy="339.4" rx="0.8" ry="1.4" fill="#f8f6fa" opacity="0.9" transform="rotate(-39 162.8 339.4)"/>
<ellipse cx="192.7" cy="317.6" rx="2.0" ry="0.7" fill="#f8f6fa" opacity="0.9" transform="rotate(-21 192.7 317.6)"/>
<ellipse cx="123.3" cy="334.8" rx="1.5" ry="0.8" fill="#f8f6fa" opacity="0.9" transform="rotate(-37 123.3 334.8)"/>
<ellipse cx="122.7" cy="298.2" rx="1.6" ry="1.0" fill="#f8f6fa" opacity="0.9" transform="rotate(25 122.7 298.2)"/>
<ellipse cx="122.3" cy="338.6" rx="2.2" ry="1.2" fill="#f8f6fa" opacity="0.9" transform="rotate(29 122.3 338.6)"/>
<ellipse cx="196.2" cy="291.5" rx="1.4" ry="0.7" fill="#f8f6fa" opacity="0.9" transform="rotate(34 196.2 291.5)"/>
<ellipse cx="166.4" cy="292.2" rx="1.4" ry="1.2" fill="#f8f6fa" opacity="0.9" transform="rotate(6 166.4 292.2)"/>
<ellipse cx="126.6" cy="344.8" rx="0.9" ry="1.3" fill="#f8f6fa" opacity="0.9" transform="rotate(57 126.6 344.8)"/>
<ellipse cx="186.7" cy="345.4" rx="1.5" ry="0.8" fill="#f8f6fa" opacity="0.9" transform="rotate(-3 186.7 345.4)"/>
<ellipse cx="185.5" cy="334.1" rx="1.3" ry="1.4" fill="#f8f6fa" opacity="0.9" transform="rotate(-56 185.5 334.1)"/>
<ellipse cx="162.4" cy="288.0" rx="1.3" ry="1.4" fill="#f8f6fa" opacity="0.9" transform="rotate(-46 162.4 288.0)"/>
<ellipse cx="209.1" cy="342.8" rx="1.8" ry="0.6" fill="#f8f6fa" opacity="0.9" transform="rotate(-3 209.1 342.8)"/>
<ellipse cx="181.1" cy="291.5" rx="1.2" ry="0.7" fill="#f8f6fa" opacity="0.9" transform="rotate(41 181.1 291.5)"/>
<ellipse cx="202.4" cy="344.0" rx="1.9" ry="1.1" fill="#f8f6fa" opacity="0.9" transform="rotate(-53 202.4 344.0)"/>
<ellipse cx="161.0" cy="333.6" rx="1.9" ry="0.6" fill="#f8f6fa" opacity="0.9" transform="rotate(-59 161.0 333.6)"/>
<ellipse cx="123.4" cy="344.0" rx="1.0" ry="0.9" fill="#f8f6fa" opacity="0.9" transform="rotate(-3 123.4 344.0)"/>
<ellipse cx="199.4" cy="294.1" rx="1.2" ry="1.2" fill="#f8f6fa" opacity="0.9" transform="rotate(-50 199.4 294.1)"/>
<ellipse cx="130.7" cy="287.1" rx="2.1" ry="0.8" fill="#f8f6fa" opacity="0.9" transform="rotate(0 130.7 287.1)"/>
<ellipse cx="151.2" cy="347.6" rx="1.8" ry="1.1" fill="#f8f6fa" opacity="0.9" transform="rotate(-1 151.2 347.6)"/>
<ellipse cx="140.6" cy="338.6" rx="0.9" ry="1.1" fill="#f8f6fa" opacity="0.9" transform="rotate(-25 140.6 338.6)"/>
<ellipse cx="141.4" cy="314.2" rx="1.1" ry="1.1" fill="#f8f6fa" opacity="0.9" transform="rotate(-52 141.4 314.2)"/>
<ellipse cx="116.8" cy="294.4" rx="0.9" ry="1.3" fill="#f8f6fa" opacity="0.9" transform="rotate(1 116.8 294.4)"/>
<ellipse cx="179.8" cy="334.8" rx="1.0" ry="1.4" fill="#f8f6fa" opacity="0.9" transform="rotate(-14 179.8 334.8)"/>
<ellipse cx="159.0" cy="316.4" rx="1.8" ry="1.2" fill="#f8f6fa" opacity="0.9" transform="rotate(-37 159.0 316.4)"/>
<ellipse cx="194.1" cy="312.6" rx="1.2" ry="1.3" fill="#f8f6fa" opacity="0.9" transform="rotate(45 194.1 312.6)"/>
<ellipse cx="196.9" cy="306.0" rx="2.1" ry="1.2" fill="#f8f6fa" opacity="0.9" transform="rotate(56 196.9 306.0)"/>
<ellipse cx="187.1" cy="348.8" rx="1.5" ry="1.2" fill="#f8f6fa" opacity="0.9" transform="rotate(34 187.1 348.8)"/>
<ellipse cx="165.1" cy="317.4" rx="1.4" ry="1.3" fill="#f8f6fa" opacity="0.9" transform="rotate(-15 165.1 317.4)"/>
<ellipse cx="186.3" cy="321.1" rx="1.8" ry="0.8" fill="#f8f6fa" opacity="0.9" transform="rotate(-51 186.3 321.1)"/>
<ellipse cx="179.5" cy="294.7" rx="1.3" ry="1.2" fill="#f8f6fa" opacity="0.9" transform="rotate(-54 179.5 294.7)"/>
<ellipse cx="202.0" cy="322.8" rx="1.6" ry="1.1" fill="#f8f6fa" opacity="0.9" transform="rotate(-53 202.0 322.8)"/>
<ellipse cx="117.1" cy="331.1" rx="1.6" ry="1.1" fill="#f8f6fa" opacity="0.9" transform="rotate(39 117.1 331.1)"/>
<ellipse cx="140.9" cy="295.7" rx="2.2" ry="0.6" fill="#f8f6fa" opacity="0.9" transform="rotate(2 140.9 295.7)"/>
<ellipse cx="174.6" cy="346.0" rx="0.9" ry="1.2" fill="#f8f6fa" opacity="0.9" transform="rotate(-51 174.6 346.0)"/>
<ellipse cx="158.3" cy="324.8" rx="2.0" ry="0.6" fill="#f8f6fa" opacity="0.9" transform="rotate(30 158.3 324.8)"/>
<ellipse cx="129.2" cy="311.1" rx="2.2" ry="1.3" fill="#f8f6fa" opacity="0.9" transform="rotate(-51 129.2 311.1)"/>
<ellipse cx="115.4" cy="287.5" rx="1.9" ry="0.6" fill="#f8f6fa" opacity="0.9" transform="rotate(34 115.4 287.5)"/>
<ellipse cx="192.1" cy="337.3" rx="2.1" ry="1.1" fill="#f8f6fa" opacity="0.9" transform="rotate(39 192.1 337.3)"/>
<ellipse cx="166.8" cy="327.8" rx="0.9" ry="1.0" fill="#f8f6fa" opacity="0.9" transform="rotate(59 166.8 327.8)"/>
<ellipse cx="152.1" cy="330.7" rx="1.0" ry="1.0" fill="#f8f6fa" opacity="0.9" transform="rotate(5 152.1 330.7)"/>
<ellipse cx="188.5" cy="305.9" rx="1.5" ry="0.8" fill="#f8f6fa" opacity="0.9" transform="rotate(9 188.5 305.9)"/>
<ellipse cx="204.8" cy="310.0" rx="1.7" ry="1.0" fill="#f8f6fa" opacity="0.9" transform="rotate(-37 204.8 310.0)"/>
<ellipse cx="181.5" cy="298.9" rx="1.7" ry="1.4" fill="#f8f6fa" opacity="0.9" transform="rotate(-23 181.5 298.9)"/>
<ellipse cx="178.9" cy="307.0" rx="1.7" ry="0.8" fill="#f8f6fa" opacity="0.9" transform="rotate(0 178.9 307.0)"/>
<ellipse cx="190.0" cy="299.0" rx="1.3" ry="0.8" fill="#f8f6fa" opacity="0.9" transform="rotate(-41 190.0 299.0)"/>
<ellipse cx="179.0" cy="338.1" rx="1.5" ry="1.0" fill="#f8f6fa" opacity="0.9" transform="rotate(-24 179.0 338.1)"/>
<ellipse cx="137.9" cy="345.2" rx="1.5" ry="1.1" fill="#f8f6fa" opacity="0.9" transform="rotate(-27 137.9 345.2)"/>
<ellipse cx="131.5" cy="286.1" rx="1.2" ry="0.9" fill="#f8f6fa" opacity="0.9" transform="rotate(3 131.5 286.1)"/>
<ellipse cx="173.9" cy="329.3" rx="2.0" ry="1.2" fill="#f8f6fa" opacity="0.9" transform="rotate(22 173.9 329.3)"/>
<ellipse cx="191.9" cy="319.8" rx="1.5" ry="1.3" fill="#f8f6fa" opacity="0.9" transform="rotate(47 191.9 319.8)"/>
<ellipse cx="151.9" cy="340.4" rx="1.4" ry="1.2" fill="#f8f6fa" opacity="0.9" transform="rotate(-57 151.9 340.4)"/>
<ellipse cx="171.8" cy="345.4" rx="1.4" ry="1.3" fill="#f8f6fa" opacity="0.9" transform="rotate(22 171.8 345.4)"/>
<ellipse cx="117.0" cy="290.3" rx="1.3" ry="1.4" fill="#f8f6fa" opacity="0.9" transform="rotate(19 117.0 290.3)"/>
<ellipse cx="172.1" cy="339.9" rx="1.3" ry="0.7" fill="#f8f6fa" opacity="0.9" transform="rotate(-7 172.1 339.9)"/>
<ellipse cx="201.7" cy="296.0" rx="1.5" ry="0.8" fill="#f8f6fa" opacity="0.9" transform="rotate(-17 201.7 296.0)"/>
<ellipse cx="123.8" cy="342.9" rx="1.2" ry="1.2" fill="#f8f6fa" opacity="0.9" transform="rotate(-39 123.8 342.9)"/>
<ellipse cx="155.7" cy="287.0" rx="1.6" ry="1.0" fill="#f8f6fa" opacity="0.9" transform="rotate(-8 155.7 287.0)"/>
<ellipse cx="134.1" cy="325.9" rx="0.8" ry="1.3" fill="#f8f6fa" opacity="0.9" transform="rotate(-2 134.1 325.9)"/>
<ellipse cx="173.3" cy="312.4" rx="0.8" ry="0.6" fill="#f8f6fa" opacity="0.9" transform="rotate(27 173.3 312.4)"/>
<ellipse cx="161.5" cy="303.1" rx="1.6" ry="1.3" fill="#f8f6fa" opacity="0.9" transform="rotate(1 161.5 303.1)"/>
<ellipse cx="164.5" cy="322.5" rx="2.0" ry="0.6" fill="#f8f6fa" opacity="0.9" transform="rotate(20 164.5 322.5)"/>
<ellipse cx="170.0" cy="330.8" rx="1.0" ry="1.3" fill="#f8f6fa" opacity="0.9" transform="rotate(35 170.0 330.8)"/>
<ellipse cx="141.5" cy="345.5" rx="0.9" ry="1.0" fill="#f8f6fa" opacity="0.9" transform="rotate(-50 141.5 345.5)"/>
<ellipse cx="133.0" cy="325.9" rx="1.8" ry="1.0" fill="#f8f6fa" opacity="0.9" transform="rotate(-31 133.0 325.9)"/>
<ellipse cx="167.0" cy="313.9" rx="1.3" ry="0.9" fill="#f8f6fa" opacity="0.9" transform="rotate(-5 167.0 313.9)"/>
<ellipse cx="150.3" cy="293.2" rx="1.5" ry="0.8" fill="#f8f6fa" opacity="0.9" transform="rotate(35 150.3 293.2)"/>
<ellipse cx="206.2" cy="332.7" rx="1.3" ry="1.0" fill="#f8f6fa" opacity="0.9" transform="rotate(29 206.2 332.7)"/>
<ellipse cx="136.9" cy="336.1" rx="0.9" ry="1.4" fill="#f8f6fa" opacity="0.9" transform="rotate(7 136.9 336.1)"/>
<path d="M183.0 338.7h0.01M132.4 348.7h0.01M133.5 328.0h0.01M123.8 333.5h0.01M129.4 330.2h0.01M184.2 334.0h0.01M157.2 340.3h0.01M209.3 292.8h0.01M164.4 346.2h0.01M185.6 313.6h0.01M144.1 345.8h0.01M123.1 333.6h0.01M195.5 295.5h0.01M146.2 304.8h0.01M166.8 308.7h0.01M200.3 344.0h0.01M145.2 342.1h0.01M121.6 291.6h0.01M178.5 336.1h0.01M193.2 348.3h0.01M197.1 302.4h0.01M185.9 344.0h0.01M123.9 316.8h0.01M129.7 294.6h0.01M160.8 327.9h0.01M208.0 293.8h0.01M163.3 348.6h0.01M188.1 319.2h0.01M138.2 325.4h0.01M139.9 326.3h0.01M177.0 310.3h0.01M190.9 311.0h0.01M159.8 338.1h0.01M138.9 297.2h0.01M169.9 313.0h0.01M198.5 301.3h0.01M150.5 289.2h0.01M158.1 305.3h0.01M157.9 333.9h0.01M118.6 348.1h0.01M182.9 336.9h0.01M166.5 322.0h0.01M154.1 310.6h0.01M136.1 304.7h0.01M143.1 306.8h0.01M201.6 336.0h0.01M176.2 286.6h0.01M140.1 319.9h0.01M181.1 312.0h0.01M175.4 342.8h0.01M140.5 309.7h0.01M187.6 305.7h0.01M183.9 310.6h0.01M116.9 314.8h0.01M121.5 335.2h0.01M195.7 319.0h0.01M200.9 299.0h0.01M157.6 296.6h0.01M119.6 337.7h0.01M120.0 344.7h0.01M168.2 329.9h0.01M119.7 342.9h0.01M190.8 292.1h0.01M132.5 294.4h0.01M163.1 290.5h0.01M191.3 316.9h0.01M182.2 301.6h0.01M177.5 314.2h0.01M176.9 311.5h0.01M209.5 339.1h0.01" fill="none" stroke="#d03c8c" stroke-width="1.0" stroke-linecap="round" opacity="0.85"/>
<path d="M170,350 Q195,347 211,337 L211,350 Z" fill="#f8f6fa"/>
</g>
<g clip-path="url(#ch2)" filter="url(#b3)">
<rect x="18" y="351.3" width="96.5" height="63.3" fill="#f8f6fa"/>
<path transform="scale(.1)" d="M192 3584q-7 5-6 9M404 3993q5 7 6 11M697 3796q-9 5-9 9M1087 3768q2 6 8 13M383 3650q-7-4-5-12M523 3642q5-9 0-14M1018 3925q2 9 0 13M798 3652q6 2 12 0M804 4042q10-2 13 5M476 3625q-5-5-7-9M366 4096q-7-5-12-2M1058 3924q5 0 13-2M609 4012q-5-2-11 4M295 3636q-4 7-11 8M661 4012q-1 6-4 13M217 3584q6 7 7 16M921 3674q1-10 0-14M542 3692q2 4 10 4M228 3902q1 5-2 9M357 3801q-3-7 1-12M686 3967q-8 2-12 3M299 4009q0-10 3-16M340 4053q5 5 10 3M476 3782q-2-7-8-12M889 4037q8 2 9 6M375 4028q-4 5-10 5M371 3649q-5 7-7 15M244 3671q-5-5-11-11M448 3628q7 2 13-1M185 3513q-7 6-9 14M739 3768q1-6 5-13M702 3715q6 4 12 3M703 4109q-3-7-1-11M554 3942q-5-2-13-3M414 3960q10 3 13 7M1129 4017q5 2 14 5M316 3543q-2 4-3 11M605 3602q9 1 15 1M641 3947q8-5 13-5M343 3570q3-4 10-9M491 3759q-9 5-17 5M217 3975q-6 2-13-2M1059 3980q6-4 13-7M618 3600q-8-5-8-9M548 3658q-6 9-7 14M443 3792q-3-6-8-6M431 4087q4 8 12 8M437 4006q-4 2-4 10M703 3821q-5 7-7 10M760 3712q4-6 8-7M1001 4073q-8-3-10-7M706 4011q-6-4-6-13M430 3560q-4-3-1-9M695 4030q3-4 6-7M624 3597q5-4 9-12M975 3726q-8 0-11 3M1007 3616q-2-9-2-14M1008 4011q9 4 12 8M343 3575q4-9 3-13M251 3775q-1 4 1 12M243 3769q-5 0-7 3M319 4130q6-7 11-5M421 4064q-8-6-13-8M873 4072q3 5 9 3M1071 3872q5 7 6 11M1062 3931q-6 0-10 6M533 3660q-5-7 0-14M630 3966q-5 5-12 10M220 3806q-5 8-11 7M257 3889q-7-4-9-10M710 3999q6 1 13 7M1090 3691q6-1 10-2M762 3761q-4-9-11-10M761 3687q10 2 15 7M279 4083q-6 4-11 7M1100 3809q-4-8-1-11M508 4114q-5-4-4-8M424 3557q-3-6-9-9M424 3962q0-7 4-8M726 3610q6 5 9 4M309 3751q3-5-1-12M969 4144q5 2 14 3M701 4072q1 7-1 12M684 4035q3-8 12-10M764 3671q1 4-5 8M762 4065q-2-6-3-10M424 3730q2-8 5-13M519 3756q6 2 7 10M420 3829q0-5-3-12M361 4089q10 1 14 4M458 4063q-1-5-4-8M787 3781q-4 8-2 12M948 4074q3-7 10-12M217 3702q-5 7-7 15M428 4112q-7 3-15 4M724 3647q-7 3-7 11M477 4096q-7 7-13 8M857 3513q7 4 13 4M860 3813q-7-6-6-10M980 3983q1 5 4 7M730 4143q-6 1-11 8M707 3664q6-4 10 1M425 3631q9 1 16-2M992 3768q-9-1-14-3M371 3693q8 1 15 5M604 3976q-9-3-15-7M759 3642q8 4 12 10M1062 3628q-1-7-5-9M205 3633q1-7-4-10M1119 4011q-2 7-2 12M815 3528q-10 2-16-2M983 4116q-1 10-7 12M311 3850q-10 0-16 5M454 4087q0 10-6 12M230 3685q5 2 12 2M956 3543q0-5 2-8M524 4100q3-3 7-11M351 3803q0 6-1 10M329 4130q1-8-3-10M780 3902q10 1 15-1M793 4092q-4 6-1 11M1046 4108q-6 8-10 6M1005 3691q10-2 12 3M842 3959q-4-2-8-9M800 4085q8-2 13-6M356 3654q7-1 15-3M949 3541q-6 4-9 11M778 4050q4 4 10 6M426 3838q-3 4-9 4M1049 3842q5-6 11-13M528 4132q-9-5-14-2M484 4031q8-5 11-8M1120 3644q4-7 10-10M409 3757q-6 6-15 8M699 3735q5 5 9 11M207 3638q-6-7-4-11M883 3797q-7-5-14-7M1112 3527q-10-3-11-8M935 4091q-6 4-10 12M358 3957q10-1 14 4M1085 4056q-6 3-9 8M731 3777q4-1 10-1M1143 4143q-2-9-6-15M415 4029q-5-3-10-1M513 3934q-4 1-9 5M1135 4099q-8-7-12-6M326 3675q-1 7-7 9M492 3812q7-2 10 2M713 3912q-2-9-6-11M282 4003q-7 0-9 8M1117 3522q7-1 9-4M856 4020q-8 5-5 13M333 3631q-3 5-10 5M594 4027q-6 3-10 8M1058 4099q6 1 11 5M890 4106q8 2 15-1M363 3602q5-7 10-10M426 3553q9-3 12-1M192 3809q7 5 14 6M339 3829q-5 3-7 7M472 3793q-7 5-12 3M373 3836q6 8 10 6M1075 3881q-2 4 0 11M254 3953q5 8 9 7M369 4115q7 1 9 8M195 3933q-2 5 0 8M723 3991q7-5 13-11M344 4097q8-1 13 3M853 3943q-3-8-5-12M502 3720q-2-5-1-11M1070 3780q0-5-7-9M972 3667q-8 4-7 12M851 4115q9 0 13-7M335 3690q3-7 5-15M998 3702q5-9 10-11M694 3868q-2 9 1 12M1097 3727q5 7 4 13M651 3519q10 1 11 8M843 3769q-3 8-7 10M293 3557q-2-7-8-8M1084 3999q-1-8-6-12M610 4107q4 1 6-3M485 3918q0-9-5-12M746 3726q-1 5 0 9M1144 3971q4-1 6-9M1122 3768q-3 6 1 9M323 3604q8-1 12 3M696 3745q-9 2-13 1M436 3927q-8 0-9 4M605 4083q5-1 9-2M580 3892q-1-8 1-14M356 3633q-5 0-11 3M1023 4130q-5-2-10-7M390 4038q3 8-3 13M909 3698q-8 5-12 7M507 3559q6-2 10-3M783 3612q3 9 5 15M442 3560q-3 6-11 5M623 3862q-3-9 0-13M560 3694q-7 7-9 10M892 3729q-2-10 3-14M196 4088q7 2 9-1M1009 3944q-4-4-9-4M958 3660q-8-5-13-2M420 3884q-5 9-5 17M569 3828q0-9 2-13M617 3561q1 7-5 12M436 3968q8-1 12 4M704 3804q-6-4-9-6M872 3630q8 6 7 14M591 3609q-4 4-6 7M595 4082q5-2 13-3M1126 3856q0-5-4-11M1028 3597q6-7 3-14M466 4034q-7 7-12 7M655 3869q-8 5-8 13M1077 3709q-4-7-1-11M1005 3987q0-7 0-11M303 3943q7-5 7-11M729 3814q4-7 13-7M922 4014q5-2 13-6M501 3733q7 5 7 9M411 3612q3-5 12-4M809 4107q5-5 9-7M1045 4102q4 3 11 0M414 3513q6 0 13 0M1069 3520q5 4 9 11M1036 4083q-2-5 3-11M767 3685q-1 10-3 16M416 3674q5 7 7 12M473 3873q-5 8-10 6M947 3765q6 0 12 4M1119 3614q0 8-6 12M396 3849q3-9 7-14M441 3865q-5 7-13 6M308 4082q9 2 13 0M339 3774q-3-4-8-2M736 3685q2 5 10 7M754 3550q3-6 7-11M307 3851q-6 8-7 13M517 3590q8 2 9 9M510 3554q3 9 3 15M773 3730q-5 2-9 7M1027 3640q-7-1-10-8M561 3546q5-3 13-4M1113 3955q-7-2-11-4M1078 3571q9-5 9-10M981 3534q3-6 10-8M923 3670q-4-4-6-8M1040 4035q-2 4-5 7M894 3667q1-10 9-11M589 3867q4 5 7 9M1076 3705q-2-10 2-17M962 3945q4 0 9-5M1096 3895q-5 8 0 12M399 3716q-5 3-6 11M765 4081q-7-2-6-7M520 3668q5 4 6 10M1045 3609q6 6 15 6M1105 3530q-8 4-12 4M517 3941q8-2 16-4M350 3750q6 2 12 7M792 3575q0 10 2 17M1041 3899q4-3 10-5M667 3975q4-3 4-8M316 4113q1 6 1 10M1126 3997q2 5 8 5M731 3836q6-3 12-1M491 3877q-9-2-15-1M747 3834q-8 6-8 11M304 3517q8-7 7-15M1110 3865q5 8 1 13M937 4094q-9 5-15 3M855 3655q7-5 13-4M230 4027q0 5-3 8M908 3726q4 10 9 17M525 3620q0-5 4-9M449 4007q6-7 2-11M651 3913q0-5 8-6M759 3901q-6-2-11-1M1009 3758q-5 6-7 11M767 3677q-6 5-14 7M503 3743q0 5 3 12M867 4114q-2-9-2-13M1027 3883q-2-6-2-15M440 3725q-5-8-13-7M843 3836q-2 4 0 12M453 3976q-2 8-4 11M741 3935q-2 4-5 10M1141 3710q5 5 13 0M956 4061q2 7-4 12M710 3586q4-3 2-8M528 3696q9 4 13 10M945 3689q-6-6-8-9M779 3742q3-6-3-13M874 4005q7 4 16 3M678 3568q-5-5-8-11M659 4141q-8-1-9-5M477 3681q-2-7-4-14M609 3621q-4-3-8 0M758 3976q-7-2-10 4M773 3538q3 5 7 7M663 3988q-3 5-2 14M786 3989q-3 6-6 9M220 3792q5 5 10 3M416 4094q5 5 3 10M670 4046q-6 8-10 14M444 4141q5 3 11-2M637 3834q-9-2-14 2M270 3559q-7 5-14 5M437 3716q-8 3-10 7M680 4063q2 6-1 12M817 3926q-7-8-10-13M743 3966q-8 2-15-4M476 3583q1-6 1-14M916 4027q9-5 15-9M471 3737q5-5 7-12M462 3879q1-5 9-7M666 4080q-3-3-9-2M620 4058q7 0 12 1M485 3560q-5-3-13-5M498 3973q-7 2-9-1M767 3719q-4 9 1 13M927 3654q0-9 4-10M303 3820q2 10 2 18M778 4039q-4 1-8-7M468 4139q4 7 2 13M492 3742q9-3 15-7M1054 3570q-2-6 0-10M1098 3542q-6 1-10 0M993 3712q-8 0-15-5M408 3559q5-8 3-13M661 3753q1-9 9-10M607 3995q8-7 14-5M662 3985q4 1 8 0M518 4110q-1 5-2 10M632 4124q-1 6 2 10M248 3829q8-6 11-11M248 4115q-5-4-13-7M651 4087q-5 0-11 2M538 4019q7-3 16-5M543 3668q-9 2-16-1M1045 3951q-3-6 1-11M1083 3699q0 5 1 8M885 3711q0-8 4-14M890 3814q4-3 9-9M263 3970q-2 8-9 11M190 3586q-4 7-7 12M821 3994q-8-4-15-3M269 3846q7 7 13 8M394 3815q4 1 5 7M944 4000q6-3 6-12M787 3818q4 5 0 12M1105 3550q2-6-6-10M788 4042q4 4 12 4M196 4052q4-4 11-9M1106 3925q0 7-8 11M1058 3537q-3 4-11 6M665 3517q0 6-3 11M373 3749q3-7 2-15M279 3779q7-6 10-12M251 3531q-5 4-9 3M488 3811q-4-2-8-5M268 3768q-4-2-10-3M225 3635q-4-5-1-9M413 4131q4 3 3 11M388 3835q7-3 10 1M670 3930q7 4 13 5M597 3572q3-5 11-8M368 3948q7-5 13-5M267 3540q-3 9-11 9M507 3723q10 1 16 6M819 3802q-9-1-14-9M571 3514q-5 4-11 4M786 4126q2 5 3 8M273 3846q3 4 10 6M1053 3593q7-3 9-9M637 4084q-9-5-16-8M218 4134q-2 4-6 7M609 3920q4-8-1-16M1066 4052q-9-1-13-4M255 3541q-4 4-3 11M657 3743q9-1 14 1M447 3687q-9 0-15-4M354 3911q-10-3-10-10M770 3992q1 9-4 11M719 3621q-9 5-15 11M1110 3665q-3 8-9 9M994 3896q4-7 9-10M1006 3575q1 6-4 12M860 3833q4-5 10-9M1052 3760q-6-6-14-8M896 3995q6 5 14 9M454 4015q-6-7-14-4M1046 3856q-3-5-9-10M937 3816q-4-2-7-5M232 3965q-3-5-12-5M194 3570q0 7 3 12M1096 4034q3 9 11 7M751 3932q-6 5-11 2M181 3710q0 7 7 10M841 3545q-4 7-10 11M832 3833q1-6-2-13M1007 3784q0 7-3 10M944 4067q6 0 13 4M1035 3981q4-4 13-5M1035 3891q-8 1-11-2M384 3658q-2-4 0-8M1100 3619q1-9 0-17M543 3669q-1-5 2-13M390 4050q0 9-1 14M715 3962q-7 4-13 5M500 3792q-7 7-4 13M582 3843q8 6 12 6M1093 3771q3 5 1 11M1110 3912q1 8 7 9M992 3566q-4-6-7-9M549 3831q7 7 9 12M732 4027q-1-4 3-10M477 3571q-4 2-8 3M448 3691q0 8 3 9M234 4012q-7-3-6-8M236 3918q-6 8-11 12M324 3781q-9 4-9 11M502 3840q-5-7-12-9M657 4054q5 1 8-3M945 3523q-2-8 2-13M1086 3982q7 4 14 5M598 4037q1-8-1-13M849 3817q3-5 5-10M615 4107q8-2 8-10M898 3748q-2-7-6-10M333 4086q-1 5-1 9M339 3571q5-7 10-8M652 3868q-10 2-17 5M257 3953q-4-5-12-5M706 3916q3 3 7 1M662 4117q-5 2-9-2M451 3559q-7 2-12 7M750 3607q-4-5 1-11M282 3587q0 5 1 14M997 3955q5-3 10-8M480 4140q-7 3-9 10M577 3988q7-5 14-4M891 3989q-1-9 1-14M1087 3998q3-3 11 0M1092 3909q4-6 5-12M493 3926q-3-6-3-13M887 3516q8-5 12-12M815 3804q-7 1-15 1M960 3719q-1-4 1-9M661 3522q-1-7 4-14M1026 3948q-3 5 3 11M700 3906q6 3 9 9M398 3788q-2 9 4 13M405 4044q0 8-7 9M254 4086q3-5 11-3M682 3684q-8 6-12 3M664 3744q-2-10-6-18M515 4075q3-6 7-5M382 4019q2 5-4 11M746 4067q1 9 5 11M634 3519q-4 9-12 10M361 3734q4 2 11 1M1103 3954q3 9 8 12M773 4104q7 8 10 10M330 4047q4 3 5 11M1121 3591q-4-3-4-11M397 4077q-9-1-14-5M718 3574q-9 0-13-3M262 3786q4-5 6-8M1092 3536q1 10-2 12M961 3995q-5-1-8 4M644 3923q1 9-3 11M286 4144q3-4 0-11M875 3753q8-2 15-1M493 3588q-2 9 0 16M940 3831q2-4 7-5M630 4028q-9 3-14-4M965 3660q-5 3-11 3M666 3538q-7 3-8 7M723 3923q-3 8 3 12M674 3951q5-4 10-9M711 3759q5-9 5-18M202 3542q-5 1-5 9M458 3714q-3-5-2-11M887 3541q-2-10 3-17M516 3752q-3-3-2-10M841 3619q-4 8-8 11M745 3887q4 6 8 11M566 4032q5 7 9 12M198 3592q4-2 10-5M973 3986q-5-4-6-11M296 3684q6-6 10-10M325 4143q-3 7-7 7M589 4075q4 8 4 17M505 3657q4 3 11 6M668 3520q7-6 14-8M1119 3521q1 9 2 17M462 3813q0-5-7-6M687 3975q0 4 1 8M414 3737q4-3 8-1M682 3858q5-4 5-9M897 3777q6-9 11-13M891 3966q-2-5-4-10M1065 3854q-4-5-8-3M627 3574q0-9 2-12M355 3831q2 7 5 10M424 3563q4 0 5-4M856 4144q-5 7-7 13M1036 3599q5-9 11-8M571 3985q5 0 11-2M300 4104q-5-7-1-16M282 4081q5-6 8-9M432 3703q2 6 7 6M986 3522q-1 10 6 13M540 3978q-6 2-9 7M884 4139q-6 6-6 10M457 4031q-3-7-9-7M711 3766q-5 8-7 16M499 3728q6-2 10 0M462 3641q0 4-7 8M910 4111q-7-6-14-4M1137 3548q6-3 9-1M601 4014q-6 0-12-3M1131 3709q5 6 3 9M292 3616q-4-6-6-15M484 3905q5-9 11-14M185 4079q8 3 11 3M698 3683q6 3 14 4M635 3942q2 4 2 8M820 4063q5 1 10 1M396 4029q8 3 11 8M934 3585q9 2 14 2M226 3697q6-4 11-3M771 3678q3 9 6 12M247 3911q-3-5-10-4M741 3596q0 9-6 16M535 4098q-1 10-7 14M813 3520q9-1 16 3M931 3813q6 1 8 5M741 3624q7 7 13 9M433 4061q0-7-6-14M1100 3881q-2-6-5-9M1110 4015q2 6-2 12M962 4127q-7 2-13 1M503 3718q1-7 3-14M984 3672q-3 5-7 12M823 3648q-5 4-4 11M767 3819q-7-4-8-11M897 4131q3-7 7-6M848 3748q-4-3-6-9M769 3608q-4 2-8 7M1059 3830q-4 3-12 2M1060 3818q8 1 10 8M778 3567q5-8 5-13M190 3581q5-1 7-8M554 3819q-8-5-15-2M806 3688q-2 9-7 9M451 3724q-7 7-5 13M280 3621q-4 2-10 1M783 4114q-1 8-3 12M788 3925q-2-7 3-12M1125 3799q-10-4-17 0M594 3829q-1-8 0-17M335 4062q-2 6 1 9M716 3965q8 5 13 9M235 4092q-2-7-10-7M489 4139q4-4 10-4M643 4018q0-6-4-8M424 3970q1 7 3 11M311 3584q9-1 11-7M1136 3531q-1-5-6-8M1043 3972q1 4-1 9M611 3881q-5-2-8 2M1132 3714q4 8 1 16M422 3791q2-9 7-12M749 3785q2 9 4 16M538 4071q1 7 2 13M926 3562q5 8 6 12M677 4118q-9-2-15-1M856 3558q-8 5-16 6M1098 3561q2 4 3 11M832 4108q-6 2-11 5M474 3903q-9-4-16-6M303 3528q5 1 9-1M722 4024q-7 6-7 14M388 4133q-6 0-10 5M751 3529q-1-8-5-9M491 3809q3 4 3 8M184 3638q7-4 5-8M807 3680q8 1 13-2M419 3955q1-7 3-10M493 4146q4-2 5-7M891 3603q-4-3-7-9M346 4038q2-10 3-16M705 3649q5 8 3 12M514 3969q-5 0-13 4M1014 3740q-1 7-6 10M392 3730q-3 4 0 11M608 4052q-5 6-8 9M816 3984q-1-6-6-9M1104 4029q-4-3-7-6M328 3582q4-2 3-9M675 3993q-7 3-15-1M731 3542q-7 8-7 14M899 3688q-9 1-16 5M987 3908q7 3 14-2M802 3806q-5 7-5 13M658 3746q1 6 5 11M957 4098q-7 1-11 2M703 3615q-6-5-11-4M1090 3983q5 4 12 3M812 3619q5-8 6-12M405 3901q2-5-4-8M419 3997q-2-8-7-9M753 3651q4-2 8-10M232 4043q-5 6-7 10M307 3974q-5-1-11-3M417 3727q-3 4-10 1M588 3908q4 4 12 1M979 3748q-6 6-10 9M246 3892q8-1 16 0M324 3679q-9 2-15 1M520 3734q7 4 15 3M552 4038q8 5 11 11M1037 3654q3 7 11 5M639 3674q1-9 9-10M287 3978q-10 2-14 7M1081 3549q4 3 2 8M462 3785q0-5-8-10M566 4118q-6-2-10-3M708 4046q-7 4-8 8M911 3528q4 3 9 1M383 3558q4-3 11-9M381 4134q-7 0-12 0M500 3706q-5 4-9 2M1105 3793q-8-1-13-4M613 4004q1 5 5 7M657 3689q5-5 13-4M479 4038q9-5 12-12M477 3850q-3-8 1-17M1019 3796q-2 6-6 10M610 4106q-8 4-11 9M665 4098q2 5 11 3M535 3617q-3-5-8-10M766 3917q-2 8-8 10M190 3698q0-5 1-11M492 3799q2-4 6-11M687 4071q5 1 9 3M728 3680q1 5 7 6M191 4100q6-3 13-1M695 3878q-1 5 2 10M647 3650q6-4 12-10M410 4124q-1-7-7-11M328 3520q4 0 8-7M428 4047q-3 4-1 12M837 3678q-6-3-4-12M613 3918q2 5-4 11M695 3574q-10 0-16 1M206 4030q1 10 1 14M869 4040q-6 3-15-1M356 3573q8 4 15 6M993 3930q2 9 0 15M228 3769q7-1 10 0M552 3681q-8 3-13 4M367 4074q-4 3-6 9M247 3635q9 5 16 7M696 3987q4 8 8 8M815 4080q7-7 12-14M563 3674q-3 8-8 7M366 3779q5 0 9-4M628 3968q-7 5-7 11M457 3728q10-3 16 3M1056 3568q1-5 6-8M578 4139q-8 1-12 2M933 3802q-7 8-14 3M1144 4120q-10-3-17 2M1087 4085q-5-3-10 1M1002 3528q6-3 12-9M232 3681q-5 3-10 5M469 3984q-9-6-15-3M833 3642q-9-3-10-8M249 3689q-1 6-5 9M947 3737q9-3 16-6M1088 4019q9 4 10 11M943 3600q-6 1-10 3M215 4019q-5-3-4-11M650 3776q-1-8 2-15M399 3610q4 8 0 12M430 4034q4-6 1-11M786 3964q-7-5-9-8M1052 3936q10-2 15-2M567 3657q4 0 11-3M763 3624q2 8 7 11M813 3844q-3 6-8 12M635 4031q-5 7-7 12M485 4019q5 9 11 13M1094 3753q-1 8-5 10M467 3583q5-3 4-7M912 3712q-8 6-10 15M1098 3969q7 1 11-5M986 3631q-8 6-11 4M862 3562q2 4-1 7M1070 4111q0-8 0-11M391 3658q1-8-3-12M975 4011q10 1 16 0M989 3603q0 5-4 14M218 3687q10 3 16 4M527 4144q0-6-1-10M581 4108q-9-3-14 0M233 3938q-2-6-10-7M878 3961q0 5-5 9M935 3762q4 7 2 15M611 3851q-9 2-11 9M866 4020q-1-7-1-12M298 3682q10-3 15 4M517 3824q-6-3-4-11M1114 3543q5-5 4-11M1101 4018q-6 2-5 9M532 3799q-9 0-13 2M349 3899q4-7 3-11M245 3518q1 5 5 12M865 3759q5-8 2-15M649 4012q7 2 11 3M342 3744q-4 1-8 9M727 3537q6-6 3-12M225 3742q-4 7 0 12M655 3899q-1-8-4-13M766 3643q-3-8-11-9M1117 3814q1-9 9-13M1145 3919q0 5 4 10M410 3755q-8 2-11 7M743 4039q7 0 12-4M727 3665q-8 0-10 8M278 3905q-6 3-11 6M337 3745q4 3 10 3M353 3779q-7 3-12 3M488 3666q-6-2-11-6M500 3575q4-9 6-18M429 3627q9-4 15-8M1107 3702q-3 4-6 6M1072 3639q2-6 7-12M698 3998q-3-4-7-8M970 3735q4-2 2-10M1000 3933q5-5 5-13M225 4057q7-1 11-9M1094 3623q-3 3 0 11M898 3806q0 9 3 16M757 3604q9-5 15-3M1115 3880q4-7 3-12M796 4062q8 2 12-4M658 4119q8 5 12 10M433 3969q-1 6-6 13M618 4119q0-6-6-10M805 3861q7-4 11-2M224 3746q-4-8-9-8M250 3947q-4 5-12 3M562 3620q5 4 11 2M1117 4084q5 5 9 9M403 4144q0-10 4-14M220 3675q-10-1-16-4M518 4006q-9-4-16-4M587 4085q-1-10 3-12M189 3859q-1-4-5-7M752 3565q-5 9-3 15M601 3941q7-5 12-3M841 3714q-4 1-12 0M301 3900q-2 9-7 15M522 3842q0-6 3-9M559 3880q-6-4-6-13" fill="none" stroke="#8a58b4" stroke-width="6.5" stroke-linecap="round" opacity="0.8"/>
<path transform="scale(.1)" d="M255 3648q-3 8-5 14M277 3835q4-5 11-4M538 3513q0-4-6-6M993 4043q4-1 5-5M1124 3584q2 3 5 2M521 3616q-3 8 0 14M736 4001q-4-3-8-3M567 4138q-4 2-10 5M610 3958q3 2 5 5M471 3756q1 4 9 2M845 4115q-9 0-12-4M687 3835q1 6-1 9M1000 3836q-6-5-8-8M419 3514q9 1 16 5M933 3713q8-2 12-3M487 3618q-3 3-10 5M383 4007q-5-3-5-8M972 3535q4-1 4-8M876 3940q1-6-3-8M1100 4134q1 6 3 13M185 4038q0 7 3 8M1032 3831q8-1 11 0M749 4141q-4 0-9 6M1123 3669q-3 7-5 10M1130 3906q-2 3-7 8M352 3568q-1-8-4-13M794 3842q4 4 7 4M265 3761q2 8 6 14M963 3683q4 6 7 10M299 3849q0-6-4-12M466 4143q-1-3-3-7M939 3779q8 4 9 10M728 3560q5-1 11-1M636 3525q5-4 9-10M1010 3968q5-3 4-8M761 4011q-1-7 0-13M735 3523q-5-1-9 3M991 3692q-3-6-3-13M851 3563q-4-4-10-7M348 3910q4-2 9 2M570 3998q4 2 2 8M342 3595q-6 2-8-1M793 3792q-8-3-13 2M886 3682q6 5 5 10M313 3864q-3-5-5-7M316 3654q0-4-4-8M383 3665q0-5 0-8M680 3955q-4 1-4 6M574 3577q-6 3-5 9M1102 3958q-8 3-12-4M1098 3998q7-3 10-5M650 3958q-1 6 2 7M430 4050q4 2 12 2M390 3541q5 2 8-4M240 3633q4 2 7 0M367 3661q-4-4-7-4M1015 4053q7-2 11-5M368 3792q-8 4-9 10M772 3540q4 5 7 12M938 3650q5 6 11 3M264 3892q2-3-1-9M875 3520q-8 2-12-1M188 3904q-6-1-11-4M644 3861q-7-3-8-6M937 3667q-4 2-7 6M618 3580q-2 6-1 11M247 3867q6-4 13-7M547 3625q-4-3-10-4M672 3624q2 7 0 15M893 3693q-2-8 3-13M320 3671q4 7 3 13M370 3773q-1-4 3-8M1043 4114q-5-1-10 1M764 3686q-2 6-4 8M1050 3924q-7 0-10-4M494 3570q-2 3-1 9M525 4089q-8 2-12 8M1003 4086q2-6-2-12M1103 3802q1-7 6-12M807 3605q-6 2-9 8M496 3568q-5 6-9 8M585 3949q2-3 1-8M390 3627q-1 4 3 7M602 3904q8-4 12-6M776 3794q-7-5-9-12M963 3998q8 0 12 4M1115 3850q-5 4-5 11M684 3740q-3-7-4-11M681 3521q-3 2-6 3M404 4007q-1-5-9-4M596 3550q-8-1-12-3M677 3745q7-3 10-8M958 3642q4 5 6 10M702 3892q-1-4-4-7M394 4091q-6-6-9-8M262 4004q5-6 4-12M1040 3708q-9 0-13 5M1064 3830q3 5 8 7M542 4038q-6-6-7-9M353 3592q-1-5 3-11M1003 3931q0 4 1 11M1030 3562q6 2 9 5M847 3993q4-8 1-14M246 3898q1-4-2-10M591 3582q7 2 9 0M434 3852q5 3 9 2M903 3807q2-8 6-9M836 3600q7 2 10 3M464 3966q-3-3-3-6M571 3900q0 4 0 12M334 3582q-3 8 2 12M805 4113q5 6 11 10M1080 3903q-3-3-10-5M799 3676q3 7 0 13M966 3644q-8 1-12-2M555 4060q-2-4-5-7M519 3801q4 1 7 4M192 3802q-3-4-11-5M958 3832q-3-6-5-11M546 3662q-2 3-7 4M201 3643q3-6 1-9M564 3866q-3-3-5-10M701 4127q1 5 6 9M1008 3648q-1-5 2-9M776 3901q-7-5-9-8M533 3685q-6-1-10-1M956 3799q-6 1-11 2M634 3525q-5 0-8 1M259 3743q-3-2-1-6M482 3674q8-3 12 3M928 3578q-2 8-2 12M561 3809q-3-6-5-10M744 3936q-6 6-8 9M548 3845q-4 7-9 9M879 4014q1 9 9 9M910 4027q8 0 11-3M1034 3822q7-2 11 3M1108 3917q-4 4-7 6M1141 4105q6-4 12-2M1138 3588q1 6 5 7M819 3998q7-3 10 0M422 3813q4 0 9-2M1039 3805q-4-3-2-9M572 3522q0-6 2-9M1025 3897q-6-1-10 2M500 3863q4 2 4 6M182 4097q0 8 4 14M299 3674q-2-4-7-7M967 3925q-5 1-7 8M520 3588q-4 2-7 5M781 3836q8-2 13-6M311 4139q4-5 7-6M189 3528q-3 6-1 10M865 3657q-2 5 5 9M806 3545q5 1 8-2M902 4057q0-4 4-9M756 3633q-3-3-9-7M895 4043q5-2 6-7M860 3678q5 5 5 8M728 3732q-5 5-10 5M363 3652q4-1 9-1M935 3768q1-9-3-12M1054 4032q5-5 8-8M710 3575q-5-3-5-10M1017 3777q-4-2-5-8M624 3514q-6 5-14 4M448 3811q2 7 4 10M655 3632q4-7 0-11M708 3784q5 2 11-3M301 3550q-2 6-1 13M1034 3734q0 4 0 9M262 3898q7-2 10-8M761 4039q6 1 10 2M345 3662q-8-1-13-3M784 3722q-2 7-4 10M1078 3699q0 5-7 8M800 3523q0 4-1 8M400 3995q7 3 14 0M828 4043q-2 6-8 11M661 3581q4 0 9 0M810 3605q4 3 8 2M542 3843q7-2 8-9M1137 3562q-1-7 1-13M491 3963q2-5-1-11M710 4125q3 2 5 7M439 3859q4-3 9-2M906 3825q4 6 9 11M1125 3606q-7 4-8 7M1131 3573q-7-1-12-3M789 3658q-2-5-4-7M378 4062q-9 0-14 2M1084 3828q-1 4-4 5M960 3705q3-6 2-13M871 4043q6 5 11 4M230 3858q-3-7-7-6M573 4028q0 8 3 12M835 3648q4 0 7 7M391 3517q-9 0-10-3M356 3978q-5-5-5-9M798 3961q5-7 3-13M563 3606q2-5 2-11M331 4072q-3 5-6 7M1118 3989q4 1 7 8M180 3972q-7 2-10 3M1030 3916q5 1 8 8M996 3963q-7 4-14 7M461 4081q-4-3-9-4M365 3944q-3 3-11 4M593 3832q0-8 3-12M237 4023q-3 8-7 12M439 3877q5-4 11-1M317 4099q8 1 14-2M955 3600q5 5 10 11M780 3910q-2 4-7 10M667 3732q7-4 13-2M434 4136q-6 0-10 2M903 3943q5-4 7-9M789 4122q3 3 7 4M541 3604q4-2 9 1M1083 3930q3 2 1 8M1049 3880q-8 3-13 0M592 4036q-4-5-7-8M385 3640q7-4 7-8M712 3870q-5 2-4 9M282 3782q-4 4-3 7M1079 3937q3-8 7-8M855 3687q-2 3-2 9M183 4135q-4-2-2-9M729 3761q-3-4-2-8M718 4005q3 3 4 7M802 3966q0-8-5-11M803 3514q5 0 9 0M1030 4022q-7 3-11 0M367 3619q0-4-1-8M696 3639q-1 7-3 13M689 3783q-2 5-5 6M676 3577q0-6 2-9M963 3544q-1 4-7 5M1129 3925q6-1 13-3M984 3693q-2-7 0-14M275 3713q-1 5 2 12M183 3749q9-1 15-1M692 4118q4-7 7-9" fill="none" stroke="#a04ab0" stroke-width="6.5" stroke-linecap="round" opacity="0.75"/>
<path d="M99.5,351 q0.5,5.5 6,6 q5.5,-0.5 6.5,-6 z" fill="#f8f6fa" stroke="#7a3aa0" stroke-width="1.5" stroke-linejoin="round"/>
<ellipse cx="47.7" cy="403.8" rx="6" ry="2.6" fill="#fbfafc" stroke="#a890cc" stroke-width="0.5" transform="rotate(22 47.7 403.8)"/>
</g>
<g clip-path="url(#ch3)" filter="url(#b3)">
<rect x="115" y="351.3" width="95.5" height="63.3" fill="#f7f5fa"/>
<path transform="scale(.1)" d="M1514 3659q6 10 8 18M1678 3756q-1-9 4-15M1952 3791q3 5 3 10M1775 3906q10 4 15-4M1953 3650q-1-10-9-13M1268 4091q-4-11-10-11M1742 3898q5 10 2 15M1289 3936q-8 5-13 9M1588 3974q-9 5-18 8M1776 3717q3 4 12 0M1985 3989q7 6 16 3M1776 3988q-6-5-5-15M1381 3790q-1-10-3-16M2074 3688q2 9 10 16M1461 4098q-8 8-17 8M1355 3617q6 1 9 4M1377 3872q4 6 12 8M1263 4144q-8-6-13-11M2077 4079q2-5 9-12M1760 3838q-4-5-4-14M1218 3836q-6-4-10-13M2015 3708q6 9 9 18M1980 3690q-6-4-8-12M1378 3830q-5-4-12-2M1219 3826q10-4 9-13M1834 3961q10 2 17-4M1458 3745q5 10 14 13M1641 3607q-5-7-14-4M1882 3973q-5 4-11 9M1808 3823q-9-4-14-2M1613 3990q4-10 5-19M1251 3759q10 4 8 12M1869 3749q2-5 1-11M1975 3622q3 5 1 10M2012 3711q3-5 13-4M1989 3951q9-7 14-3M1962 4007q-3 5-10 4M1656 4074q-7 1-13-2M1410 3951q5-4 14-1M1649 3635q-3-6-12-9M1957 4143q-3 7-7 15M1162 3923q1 11 5 21M1580 3928q6 1 12-1M1315 3780q8 5 5 14M1744 4134q-1-9-2-14M2003 4080q3-9 13-13M2078 4000q12 1 18 3M1562 3684q9 2 13 4M2031 4085q6-7 8-13M1504 4118q10-5 16-9M1806 3696q5 11 10 14M1620 3569q-6-1-8-5M1916 3683q2-10 8-11M2090 3607q-3 4-6 8M1681 4104q2-9-6-15M1498 4114q4 6-1 13M1328 3803q-6-2-10 1M1637 3776q-5 7-6 13M1879 3607q7 5 14 5M1971 4112q5-10 3-16M1257 3696q0 7 3 16M1642 4083q-10-2-16-6M2033 3889q-6 0-10 6M1538 3596q5-1 10-4M1540 4043q7-2 17 2M1427 3764q-10 4-15 12M1327 3944q-3-4-12-7M1534 3549q-9 2-15 3M2046 3938q-8 3-13 1M1610 3994q5 3 11-2M1914 3932q-4-3-10-6M1472 3671q-4 5-1 12M1173 3787q-9 6-16 6M1156 3964q-2-9 5-12M1528 3851q7 6 15 3M1734 3946q4 9-4 16M1881 3613q1-6 5-6M1166 3767q10 5 10 11M1980 3735q2-5 9-5M1375 3795q5 0 13 0M2102 3843q-3 6 4 13M1818 3680q0-10 3-16M1981 4099q0-6 0-14M2059 3833q-5 1-7 6M1796 3649q0-9-4-16M1947 3533q-7-7-4-13M1759 4023q-3 10-12 15M1546 3582q-10-1-12-9M1673 4055q5-7 5-11M1710 3521q-7 10-7 18M1852 3718q-9-7-11-13M2100 3938q1 11-6 18M1949 4017q-8 6-17 6M1355 4137q-10-5-18-10M1727 3697q-11 1-18 7M1849 4012q-10-2-15-5M1152 3868q-3-8-8-14M1250 3921q5 2 13-5M2018 3909q6-2 13-2M1253 3878q5 4 11 3M2006 3825q-6-2-9 1M1820 3879q0-9-5-14M1500 4100q-3-10-2-20M1880 3513q4 2 4 8M1592 3883q1 7-3 10M1944 3810q-3-7-2-16M1554 3702q-9 4-8 10M1485 3954q-6 0-10-7M2000 3753q9-3 12-6M1914 3623q5-10 0-17M1820 3572q1-12-2-18M1542 3664q5 8 2 12M1171 3855q-1 11 1 15M1446 3773q-7 3-12 12M1933 3641q2 7 1 17M1902 3625q6-3 14 1M1260 3753q2 8-3 16M1873 3532q-3 11-10 17M1617 3899q8 8 13 16M2016 3766q-2 11-3 18M1838 4132q-8-1-10-5M1569 3652q-8-7-13-9M1266 4083q-10-6-16-5M1322 3917q-10-4-15-8M1248 4011q7-2 12-8M1508 3984q-8 1-13 4M2032 4110q2 7 0 13M1572 3870q-1 8-8 15M1212 4068q8 5 14 0M1368 4025q8 1 10 8M1572 3924q3-9 3-15M1897 3832q7-2 12-7M2094 4006q-3 9-7 11M1863 3814q8-7 9-11M1537 3754q3 9-2 14M1261 3867q-3 4 1 10M2053 3851q2 5 7 8M2050 3630q7-4 14-1M2066 4121q-5-5-10-6M1369 3900q-8 4-14-2M2042 3997q0 5-2 9M1776 3567q-8-4-16-8M1818 3653q-8 0-13 2M1362 3903q7 3 14 6M1810 4023q-6-1-14 5M1596 3822q2 9 6 16M1679 4090q2-11 6-13M1737 3686q-5 7-9 13M1569 3581q5-1 9 9M1785 3647q-2-7-8-14M1843 3528q7-3 11-8M1346 3783q6-10 14-10M1556 3815q4 5 12 2M1557 4027q9 5 16 4M1580 4138q7 0 13 1M1463 4034q-5-7-11-9M1599 4033q-1 9-4 11M1367 3996q11 5 18 7M1254 3795q-10 2-15 2M1226 3678q-5-3-11 0M1377 3897q1 6-3 13M1856 3605q-5-5-9-9M1931 4028q-7 2-11 8M1439 3791q-9-7-8-11M1895 3759q6 5 5 12M1440 3851q-10-5-11-15M1215 3973q-9 1-13-4M2071 4101q-6 1-11-1M1989 3833q-1 5 1 11M1432 3988q5-8 9-15M1193 3836q-9-2-18 2M1481 3799q6 6 12 1M1347 4115q-6 2-11 1M1649 3798q10-3 18 3M1723 3937q-4-10 2-18M2029 4106q5 9 4 19M1495 3996q8 0 12-3M1231 3838q3 4 7 12M1981 3738q-9 7-8 15M1500 3895q-6 2-10-4M1325 3804q-9-7-14-7M1597 4050q11 2 18 3M1746 3980q-6-9-8-15M1538 3776q1 7 7 15M2002 3979q-2-6-5-11M1932 3944q-3-4-3-13M1649 3993q4-9 3-16M1989 3575q3-6 8-9M1586 4145q-7-4-13-4M1779 4095q5 5 10 8M2076 4030q-5-1-8-9M1992 3705q-3 7-5 14M2095 4053q7 3 13 0M1582 3934q5-7 10-7M1475 3592q5-10 8-14M1752 3649q1 7-3 11M2045 3880q5 4 1 10M1696 3577q2-7-2-10M1442 3922q4 11 4 19M1734 3840q-4-5-9-8M1677 3870q4-9 10-10M1978 3614q-9 1-10 7M1521 3972q-10 6-20 7M2089 3844q-4-4-8-8M1485 3854q4 9 12 13M2102 3705q-2 5 2 8M1379 3950q-1-8-4-14M1330 4122q5 6 12 3M1615 3565q-6-6-8-13M1460 3935q-11 0-15-9M1777 3698q9 5 16-2M1316 3692q-3-5-7-11M1380 3911q-4-4 0-9M1307 3721q6 5 10 2M1930 3615q-7-4-9-9M2069 3730q6-2 11-11M1561 3949q5-8 14-11M2025 4014q9 6 11 13M1524 3734q3-6 4-14M1639 3830q6 7 16 10M1354 4132q-5 2-10 5M1357 3882q-9-3-14-5M1977 3807q10 1 11 10M1899 3948q3 5 0 14M1687 3697q-9-7-14-5M1692 3683q-1-6-5-9M1178 3775q-12-2-21-3M1227 3746q6-3 5-8M1795 3936q-7-8-4-17M1869 3701q-9 3-13 4M1478 3767q-2 5-4 10M1744 3728q-5-9-7-15M1794 3693q0-12 6-16M2018 3857q-3-4-8-7M1717 3628q-10 5-9 11M1709 3968q-4 3-8 6M1373 3881q3 4 1 8M1894 4007q3-4-2-13M1597 3852q6 3 10-3M1422 3999q2-7 8-7M1255 3692q4-8 9-7M1909 3691q-4-10-7-20M1734 3841q2-7 0-12M1674 3941q10 7 14 9M2091 3679q6 0 10 5M1636 3667q-8-2-12 3M2012 3625q-9-7-12-12M1667 3575q-10 6-10 11M1869 3565q5-5 15-9M1454 3914q1 11-2 18M1899 3722q-6-3-13-7M2090 4055q-3-10-6-19M1354 3917q3-5 7-10M1969 3802q0 8 9 13M1330 3696q3-8 0-13M2077 3750q10-6 16-9M1758 3518q5 8 3 16M1980 3770q-1 12-2 16M1845 3832q1-6 9-12M1523 4049q-5-9-10-12M1839 4006q3 4 10 9M1275 4067q3-4 3-9M1459 3781q10 6 15 5M1217 3742q2 7-2 13M1576 3669q-10-3-14-6M1841 3585q-7 1-11 8M1368 3861q7-4 13-3M1896 3763q3 10 4 16M1736 3792q-2-6-9-11M1656 3638q-7 1-10-5M1905 3902q-11-3-16-8M1584 3709q-8-4-13-12M2067 3514q10 0 12 9M1671 3963q6 1 11 3M1782 4016q-3 8-11 10M1708 4113q-3-9-8-15M1541 3812q8 6 14 4M1854 3970q7 4 8 12M1827 3840q-9-5-19-4M1914 4014q5-6 13-8M1274 3777q-5 5-8 12M1291 3803q0 11-3 14M1985 3971q7 4 11 8M1601 4074q-3-7-11-6M1207 3946q-1 7-7 8M1216 3809q-2 4 0 13M1708 3973q0 6 6 8M1977 3970q-5-5-9-12M1585 3733q0 10-1 15M1252 4078q-8 4-6 14M1331 3812q10-4 13-11M1990 4071q-1-11-10-16M1753 3651q9-3 11-8M1414 4048q5-6 10-5M2039 4141q3 5 8 4M1419 3740q0-12-2-15M1689 4116q-6-1-13-4M2007 4006q-11-3-14-7M1638 3531q8-3 9-7M1191 3979q6-8 3-16M1637 3533q-6-9-13-12M1196 3994q3 5-1 15M2000 3873q-7 5-10 8M2059 4093q10 6 18 5M1899 3775q-4 5-9 4M1281 4050q-1-11-3-16M1700 4045q7 6 7 11M1705 3783q6 2 9-3M1825 3701q-6-8-12-12M1562 4108q-7-3-7-7M1415 3610q0 5-3 8M1473 3670q9 2 13 7M1974 3923q7 0 10 3M2061 4010q3-6 4-11M1861 4130q-5-2-13-6M1893 4010q-7 3-12 3M1638 3580q-8-5-12-5M1530 3706q8 6 16 9M1589 3728q-5-1-14-2M1219 3737q5 10 6 15M1220 4128q-5 6-13 7M1167 3837q-7-6-3-14M1601 4028q-5 0-6-8M2033 4099q-3 11 1 20M2017 4099q-7 7-11 16M1608 3658q-9-6-13-4M1873 3976q-4-7-7-13M1693 3867q-1-8-5-15M1214 4119q-3-6-10-6M1203 3758q6-5 10-14M1854 4091q-1-11 2-20M1799 3622q4-8-2-14M1336 4130q-4-5-9-4M1748 3753q-5 4-15 4M1756 4090q8 3 14 12M1863 3680q-10 0-13 5M2040 3815q-1 6-5 13M1878 3681q-1-7 0-12M1306 4083q4-3 10 1M1155 3798q-11-1-21 1M1798 3817q-5 1-8-2M1384 4101q7-2 15 2M1811 3619q5-4 9-8M1929 3940q-5-9-14-10M1522 4003q-5-1-7-6M1309 4080q9 4 15 1M1533 3761q-8-2-8-9M1782 3916q-3-7-7-9M2061 4062q0-10-3-17M1310 4077q-4 3-6 13M1163 4055q-6-7-12-10M1564 3632q-2-10 0-17M1626 3902q-8 1-13 0M1374 3701q-4-8-6-14M1978 3566q4 4 12 1M1308 3709q11 0 17 0M2083 3634q5 0 12-6M1543 4120q-8 3-12-2M1209 4075q-6 2-16 4M1203 3690q-8-2-8-7M1667 3693q-5 0-15-1M1695 4015q6 8 13 13M1487 3984q11 3 10 11M1944 3814q7-4 8-14M1317 3627q-8 3-8 7M1705 3692q-4-3-6-12M1293 3848q-4 9-9 15M1327 3724q2-8 10-13M1183 4112q10-2 15 3M1660 3547q0-5 6-13M1653 3583q-5 1-9-3M1169 3970q-9-4-11 0M1728 3569q-5-1-8-4M1996 4112q7 2 15-1M1852 3864q-7 5-9 11M1826 4146q-5 2-3 9M1201 3899q-3-5-9-7M2021 3725q-3-4-9-4M1589 3695q-5 9-4 14M1636 3564q8-6 13-11M1265 3900q-7-9-14-6M1872 3650q-11-4-16 2M1957 3871q5-8 2-15M1757 3786q-3 8-9 8M1541 3787q8 9 12 11M1839 4109q9 7 15 13M1865 3856q-6 6-11 8M1820 3557q-6-1-15 4M1540 3760q-8-1-16 5M1528 3588q10-5 17-11M1875 3887q4 11 8 19M1480 3788q8-4 15-10M1361 3792q3-9 8-17M1294 3977q-3-5-2-11M1776 3823q0-6 2-11M1460 3657q5-8 8-13M1538 3608q-3 8 0 16M1690 3823q-6-9-13-8M1439 3784q-5-4-8-11M1451 3801q9-2 14 0M1807 3673q4-4 11 0M1796 4105q4-10 10-12M1850 3749q2-8-7-13M1632 3912q-6 3-9 6M1469 3848q-6-1-11-7M1414 3906q10-4 18-4M2066 3809q-5 2-5 9M1788 4079q10-5 12-8M1347 3990q-2 11-5 14M1785 3666q-1 6-4 12M1293 3671q7 8 13 14M1897 3518q-4 7-13 4M1858 3721q10-2 15-3M1176 3672q8 9 13 10M1880 3975q2 12-4 18M1699 3541q7-7 8-15M1905 4097q-8-3-13-6M1322 3731q2 6 8 7M1760 3603q-4-9 0-13M1565 3618q6-3 8-9M1677 4097q-3-9-10-12M1692 3593q11 3 15 1M1310 3840q-9-8-4-17M2029 4137q-7 0-12 6M2015 3741q-10-1-14 1M1821 3922q-4 10-10 15M1208 3809q-8 5-16 6M1237 3918q6-2 9 0M1723 3923q-5-10-7-14M2066 4079q-8-7-12-5M2104 3740q-6-8-12-8M1711 4123q11 3 17 0M1569 4099q-8 3-13-2M1876 3850q4-8 9-8M1604 3516q8 2 13 9M1164 3696q1 6-5 10M1496 3980q-7-9-10-14M1840 3677q6 5 14 3M1775 3808q-10-3-9-7M1977 3679q-4-7-9-11M2087 3971q8 2 16 5M1474 3844q6 9 7 14M1404 3851q-8 6-15 10M1439 4060q-8 3-19 2M1491 3846q0 11 6 17M1598 3529q-2 5 1 10M2062 3914q-8 0-12-3M1361 3978q-4 11-8 13M1233 3975q1-10 7-16M1644 4020q4 10 9 19M1986 3686q-8 6-6 16M2025 4030q8-6 12-4M1928 3824q-2-5-7-12M1485 3819q-2-6-1-12M1463 3882q-6-3-7-7M2066 4060q-2-7-3-17M1560 3994q1-5 3-15M1715 4109q-3-5-6-14M1789 4028q3-6 10-6M1607 3838q-4 10-5 17M1946 3742q2 4 7 13M1758 3633q0 9-5 18M1577 3783q3-11 1-19M1759 4091q-6 0-11-3M1547 3980q4-7 1-11M1293 3770q-8 0-17 4M2094 4027q-4 7-1 10M1460 3921q-7 8-10 14M1399 3806q-5-5-2-11M1735 3632q3 8-2 14M1805 3588q-9 4-13 9M2041 3584q4-5 10-10M1881 3562q5 2 8 9M1630 3663q-6 7-14 6M1756 3514q-3-7-2-13M1759 3955q-5 2-9 7M1307 3866q7 8 14 4M1807 3829q-2 6 1 12M1384 3876q1-8 2-13M1667 3602q-5 3-9 6M1886 4066q9-6 6-11M1939 3638q2-8-2-15M1723 3776q7-3 9-8M1734 3540q7 4 13 8M1651 3514q-2-9-4-17M1898 3871q-3 6-1 10M1731 4049q7 9 11 16M1795 3573q-1 9 5 15M1413 3676q-3 4-10 1M1610 4050q5-4 9-8M1881 3634q5-7 10-13M1546 4061q2 9 8 11M1716 3840q-11-4-14 1M2078 3637q-6-3-11-11M1749 4020q7 6 5 14M1692 3770q2 4 8 8M1978 3598q-2-7-9-10M1768 3665q-6 4-9 8M1966 3562q-2-10 3-15M1995 4106q-4 5-9 4M1529 3751q-2-10-3-15M1774 4061q8-6 13-5M1473 3724q7 2 7 10M1860 3563q-11 0-14 8M1475 3649q3-11 8-10M1159 4067q9-1 12-2M1686 4110q9-1 17-6M1341 4003q-8 3-17-1M1546 4044q-8 3-17 8M1998 3774q-7 5-6 11M1807 3528q-5 6-10 8M1192 3999q-4-3-11-3M2103 4015q2-5 9-11M1585 4103q-4-9-1-12M2039 3944q6 6 10 8M1843 3868q-11 3-16 5M1428 3614q9-6 17-2M1871 3991q-6-5-13-11M1432 3988q5-7 14-4M1571 4077q4 3 3 11M1625 3852q4 10 8 14M1768 3901q-4-3-11-6M1727 3951q-5-6-10-4M1921 4062q-4 3-1 12M1743 3898q6 2 9 5M1641 3521q-7-3-6-12M1668 3644q-5 2-13 2M1919 3720q6-8 8-16M1229 4134q-8 4-13 8M1580 3880q9-3 13 1M1860 3632q7-8 14-5M1411 4037q-8 4-14-1M1618 4088q-6 9-4 14M1405 3672q0-8 3-12M1646 3907q-2 10-1 16M2014 3816q9 2 12-1M1708 3752q7 1 12-2M1692 3818q6-10 10-11M1231 3711q-4 9 1 12M1646 3606q4 4 12-1M1156 3704q6-2 8-8M1160 3987q-11 1-15-2M1403 3700q-1-10-6-14M2051 4033q-4 5-13 2M2074 3683q6-3 10 2M1508 3746q6-10 16-11M1582 4009q10-4 17 0M1965 3953q-10 1-15-7M1650 3551q-7 10-3 18M1269 4145q0 8-2 12M2015 3602q-9 8-6 15M1480 3715q10 3 12 10M1592 4048q-5-3-8-1M1538 3859q-5-2-9 2M1924 3735q5 10-1 17M2029 3643q7 6 3 13M1178 3879q-1-7-6-11M1864 3759q3 8 2 17M1477 3605q8 3 7 12M1210 3943q-5 8-10 7M1621 3932q3-10 0-12M1773 3537q7-4 9-7M1593 3605q7 3 13-5M1517 3870q-6 3-8 8M1359 3976q12 2 18 9M1661 3730q5 7 5 11M1611 3687q0-7-8-14M1793 3535q2 7 8 8M1551 4019q-11 2-18 8M1968 3884q4 2 12-3M1810 3578q-6 5-7 10M1823 3540q-9-2-14-6M1750 3968q7-2 11 3M1923 3530q5 8 12 12M1729 3613q6 6 3 11M2077 3943q3 4 7 6M1789 4016q6 3 9 0M1569 4024q8 7 9 16M1384 3707q8-2 13-5M1232 3791q-3-5 3-10M1622 4136q-3 5-7 14M1263 3706q6-5 13-8M1178 4034q-2 5-7 4M1853 3524q-9 7-7 13M2035 3861q-5-4-10 0M1877 3563q-10-1-15 1M1186 4040q-1 6-5 9M1207 3987q-10-1-15 0M1155 3764q-1 10-6 13M1366 3841q9 5 14 1M1573 3608q4-10 7-18M1209 3938q-1 6-2 14M1675 4118q8 1 10 10M1762 4107q-11-1-16 0M1533 4143q-5 7 1 12M1541 3867q0 7 2 12M1932 3795q6-8 10-11M1927 3766q-9 2-12 4M1447 4146q7 1 14 2M1333 4142q-5 2-7 8M1592 3658q-5 1-10 1M1976 3945q11 2 11 8M1977 3733q9-6 18-11M1678 4020q-11 1-20 3M1856 3926q0-9-6-17M1728 3609q5-9 13-8M1467 4020q5-9 3-13M2076 3593q-2-10-8-10M1389 3875q-6-6-9-14M1720 4144q-6 1-13 5M1340 3898q11 1 12 6M1483 3846q7 8 14 13M1209 4022q3-5 8-7M1616 3614q0 8 3 17M1648 4109q-4 9 0 15M2057 4025q6-4 11-3M2105 4095q7-7 7-12M1434 3755q1-7-2-10M1504 4027q-8-8-17-4M2089 3538q2-5-2-12M2004 4142q-7 1-16 1M1256 4047q-2-9 7-14M1889 3818q-2 7-10 9M1220 3778q-5-6-8-9M1223 3799q10 0 18 2M2089 3742q10 0 12-7M1766 3834q6 3 9-1M1166 3919q6-5 11-3M1658 3786q2 9-2 17M1286 3860q-10-6-18-1M1277 4052q-3 5-2 13M1490 3777q-11 3-13 9M1255 3882q-3 6-7 9M1377 3614q4-3 14-4M1251 4095q2 11 3 18M1396 4029q8-4 17-9M1537 3613q-6-8-8-13M2013 3624q6-7 12-5M1513 3980q2 10 6 19M2020 3718q-5-9-13-12M1607 3830q4-6 4-13M1998 3928q-5-5-12-8M1898 3556q-2-9-12-11M1867 3717q-6-3-15-9M1860 3778q9-8 16-3M1363 4054q2 4 0 11M1754 4016q5-7 3-11M1813 4050q4-10 0-19M1982 3772q6-3 8-10M1226 3791q-5-7-6-14M1926 3960q-11 0-12-5M1892 3684q11-1 18 1M2026 3801q5-2 10-3M1310 3638q-2-6-1-13M2027 3563q3 6 8 12M1929 3801q5-5 3-11M1917 3705q5 7 1 14M2045 3626q-6-8-12-6M1733 4035q2 8 7 8M1489 3676q4-10 1-16M1739 3893q6 6 4 10M1589 4136q7-2 8-10M1726 3931q4-9 9-9M1372 3892q6 6 10 11M1924 3726q2 5 8 6M1170 3955q5 1 11 1M2045 3839q-3-11 1-13M1571 3541q5-6 3-13M1424 4064q1 6 10 7M1865 3619q6 6 17 8M1795 4039q0-8 2-15M2025 3619q2-8 12-10M2096 3839q10 5 17-2M1174 4036q-2 6-6 7M1647 4027q-6-4-11-3M1834 3595q8 4 17 8M1677 3532q9-5 12-10M1478 3916q8 1 15-2M1568 3952q-2-10 4-19M1692 3590q-5 0-8 5M1444 3925q5-4 2-10M1709 3888q-7 3-10-1M1493 4074q-6-8-12-7M1184 3733q-1-5-8-7M1751 3742q-3 5-2 10M1842 3763q-7 1-13-5M1425 3995q-2 7-6 11M1653 4122q5 2 7 7M1994 3689q2 9-2 17M1681 3802q11 3 20 3M2083 3753q1 7 0 11M1583 3796q-10 2-10 8M1509 3654q-3 8-8 8M1843 3852q-3 11-5 16M1487 3720q-2-5 2-12M1491 3572q3 9-1 16M1403 4105q-8-3-14-11M1322 3911q-10 0-15 5M1190 4046q1-5-4-9M1605 3637q5-9 5-19M1392 4077q6-5 12-11M2056 3739q-6-8-12-9M1723 4042q-4 4-7 1M1620 3813q7-3 15-3M1579 3898q6-2 13-1M1573 3703q-4 10 3 17M1848 4020q-3-8-6-17M1648 3681q10-4 11-12M1364 3848q-9-7-13-4M1927 4081q-8 7-8 14M1615 3558q-7-9-11-12M1689 3770q-3 4-9 5M2103 3557q0 7 3 13M1481 4008q-6-5-8-10M2016 3948q2-7-1-11M1154 3834q-10-2-16 1M1635 3538q-3-7-10-15M1936 3977q1-11-3-16M1751 4045q-7 0-12-3M1621 3612q6 6 14 1M1715 3736q-5 6-2 12M1192 3748q6 2 4 11M1835 3639q2-7-3-14M1212 4062q-8-6-12-6M1831 4140q3-6 3-15M1871 3698q-6-7-13-10M1676 3700q7-7 10-14M2051 3931q2 9 8 18M1305 3979q1 5 8 6M1477 3974q4 5 10 4M1862 3588q-7-7-13-7M1609 3964q1-12 5-13M1614 3905q7 1 12 9M1210 3957q6-8 4-14M1651 3612q5 2 7 9M1608 3789q-4 3-8 1M1759 4021q-7-1-11 3M1759 3690q10 4 19 7M1947 3967q-3-10-3-17M1427 3818q-1-10 4-18M1289 3841q-5 7-10 7M1779 4028q7 3 11-1M2097 3520q-4-4-13-2M1326 3627q3-4 10-1M1571 4009q2-10-5-15M1156 3700q2-5 12-5M1216 3893q6 9 6 16M1500 3608q-6-6-7-9M1918 3653q3 7 9 6M1267 3962q-3 10-6 14M1232 4069q7 3 12 8M1289 4109q1-5 1-10M1641 3525q4-11 7-16M1392 4130q-3 6-3 15M1733 4036q6-2 10 1M2060 3928q10 5 15 14M2002 4135q-1-11-11-13M1405 3757q9-4 15-2M1870 3621q9 0 12-3M1348 4083q-12 2-20-1M1254 3968q9-7 11-16M1563 3845q-1-7 4-13M2092 3642q-5 8-2 18M1844 3882q-7 6-14 1M1711 3658q9 7 13 3M1847 3751q-3-6-9-6M1947 3889q6 5 3 13M1767 4098q6 5 14 5M1758 3644q0 6 9 10M1283 3803q4 7 1 17M1837 3993q3 7 12 8M1871 3737q6 3 5 7M1828 3937q-7-8-14-14M1452 3928q-5 2-10 4M1721 3947q-7-2-12-5M1951 4117q-5-7-2-13M1344 3926q-7 3-12 5M1447 3608q-6-5-6-11M1355 3628q5-5 7-13M1800 3653q7-6 12-8M1263 3655q-9-6-11-11M1393 4023q10-1 13-4M1186 3795q-3-8 0-17M2065 4024q11-1 15-5M1660 4034q7 9 17 12M1967 4030q8-3 16 3M1531 3934q-10-1-18 5M2046 3593q-10-6-13-9M1683 3673q-5-11-11-13M1812 4032q9-2 16-2M2052 3528q-5 6-10 10M1744 3623q6 0 11-5M1267 3648q2 8 6 15M2085 3918q-4-4-3-11M1521 4126q9-6 8-14M1777 3692q-7 7-4 16M1734 4131q5-3 10-3M1207 3939q-4 3-9 9M1469 3683q-11 1-14-2M1479 3790q11-3 20-4M2012 3541q-9 7-9 15M1477 3782q6-9 9-17M1311 4036q6 8 8 14M1594 3852q5-6 9-12M1637 3685q-7 1-12 10M1463 3800q-5-3-7-8M1561 3625q-1-7-1-17M1566 4084q-3-9-9-11M1204 4038q-6-3-11 0M1284 3856q5-2 11-5M1583 4042q-5 4-4 9M1737 3713q3-9 7-11M1870 3963q11 2 14 8M2038 4022q-7-1-10 6M1684 3838q-8 6-11 15M1659 4130q6-7 16-6M1621 3857q8-7 12-8M1714 3869q-7 5-16 9M1910 3841q8 7 12 14M1261 3834q7 7 11 10M1506 3867q2 8 1 16M1187 3766q-2-10-3-14M1509 4018q-9-4-14-4M1489 3810q-2 8-3 17M1355 3725q-6-9-10-14M1373 3900q-6 0-11-8M1489 3802q-8-6-12-3M1234 4073q6 1 11 5M1996 3570q2 10 9 16M1611 3961q-5 10-9 16M2048 3959q5 0 11 8M1586 3961q4 3 14-2M1490 4000q11 2 17-4M1935 3857q6-4 14-9M1698 4146q-4-6-2-11M1979 3776q10 4 18-2M1744 3761q-7 6-13 7M1324 4111q5 4 12 1M1692 3736q0-6 2-13M1589 4098q0-9 4-14M1741 3738q5-2 10-10M1381 4130q3 5 6 13M1236 4095q-6 0-7-6M1748 4099q3-6 3-14M1231 3757q6 9 9 16M1653 3915q-6 0-8 7M1827 3686q-7-8-10-16M1566 3630q-9 4-15-4M1546 3682q-10-6-16-3M1724 3953q-8 3-16 2M1780 3982q3 11 5 19M1914 4018q-11-1-20 4M1639 3685q4 8 3 15M1307 3661q-10-1-19 0M1516 3823q-8 4-12-1M1833 3608q-4-4-3-8M1947 3594q-4 4-12 1M1496 3740q-3 7 4 14M1945 3850q1-12-4-21M1851 4023q-5 0-11 5M1543 4051q9-4 13-10M1721 3727q0 9 4 12M1797 3728q5 1 8 7M1979 4074q4 7 0 15M1841 4066q-10-5-10-10M1438 3996q0 7-6 14M1327 3914q3-6 7-9M2026 3744q1-9 9-13M1873 4106q0-5-6-9M1881 3616q1 10 6 13M1357 4125q-2 10-1 19M1178 3912q5 11 7 15M1982 3594q6 1 6 7M1384 4053q-3 11-10 12M2008 4015q-9 6-9 11M1565 3935q-12-1-18-5M1214 3879q10 6 8 12M1602 3701q-8 1-14-2M1367 3836q5-5 11-1M1988 3859q7 0 14 3M1174 3907q-10-1-13 5M1975 4052q-8-4-7-12M1342 4120q-10-4-14-7M1837 3785q1 6 5 12M2072 3824q-6 3-5 9M1855 3959q-5 10-1 19M1798 3680q7 0 16-3M1229 3724q-3-7-5-12M1287 3757q-12 1-20 3M1672 3614q-9 1-10 8M1958 3710q8 6 5 14M1530 3682q-4 8-13 11M2018 3695q11-5 17 1M1282 3728q0-5 4-14M1475 3935q-8 0-15-1M1428 3655q-3 6-9 8M2061 4119q6 6 2 13M1349 3990q-5-5-5-10M1307 3753q-3 8-5 12M1586 3564q6-7 7-11M1842 3912q-4 6 0 12M1818 3573q-3-5-5-11M1952 3903q-2-5-1-14M1344 3777q3 8 7 13M1483 3828q-6 1-15 4M1820 3713q-6 5-10 7M1869 4058q5-4 12-7M1718 3787q-10 2-12 11M1988 4113q2-7 1-11M1438 4113q-5-2-4-9M1796 3929q-1-6-3-14M1921 3693q-7-1-10 2M1960 3764q7-2 12-4M1468 4012q-9-4-15-7M2072 3552q-11 1-18-4M1442 3727q3-6 9-5M2031 3815q3-5 0-13M2080 3582q-8-7-5-17M1586 3895q-7 7-10 12M1463 3712q-6 7-12 13M1238 3857q-3-5-3-12M1188 4125q-7-8-9-12M1543 3952q11-3 11-7M1229 3911q11 2 18-5M1877 3869q-10 0-16 0M1420 4072q1-10-4-15M1629 3924q-9 7-12 10M1831 3698q-6 9-13 8M1862 3894q7-9 17-7M1700 3837q-6-1-9-8M1839 3578q5 3 11-1M1911 3939q6 3 7 13M1708 3854q6-1 11-5M1558 4129q-8 1-12 5M1628 3527q6 6 12 9M1948 3725q3-8 6-16M1521 3967q-9 8-12 6M2020 3548q-6 7-10 10M1530 4005q-6 0-13 6M1188 3883q-10-7-15-4M1531 3634q2-7 7-7M1964 3693q0 7 0 15M1191 4119q7-3 16-3M1911 3602q-7-3-9-12M1645 3705q2-10-7-15M1720 4056q-1 11-4 17M1428 3875q4 4 7 10M1970 4068q6-8 4-15M1941 3872q4 6 3 10M1232 3889q10 0 16-5M1544 3958q6-5 15-7M1819 3803q4-7 7-16M2002 3953q5 4 4 8M2057 3728q1-6-3-8M1413 3764q-1-5-10-6M1935 3951q-8-6-14-12M1804 3523q-8 3-9 13M2096 3701q-7 3-8 10M1441 4115q-2-6-7-13M1853 3674q3-6 4-16M1443 3856q0 9 1 20M1780 3878q6-3 14-2M1514 4067q8 0 15 4M1739 3647q10-6 15-6M1686 3840q-2-11-4-14M1493 4026q4-9 4-14M2028 3981q3 8 7 14M2034 3676q-5 7-11 10M1827 3566q-9 0-15-3M1651 4012q7 7 15 9M1901 4094q9-5 11-8M1372 3656q0-10-7-14M1556 3794q-6-5-5-11M1198 3926q-6 1-12 4M1235 3845q-5-5-10-9M2033 4037q-10 3-16-4M1473 3579q4 3 2 12M1461 4055q-10-6-16-1M1883 3970q1-9 7-11M1250 4132q10-5 13-9M1608 3928q3-4 13-1M1812 3714q-3 11-1 14M1381 3767q0 5 3 10M1461 3652q-10-1-16 3M1428 4010q-6 2-14 4M1957 3738q8 9 13 8M1921 3946q-2-10-7-10M2010 3823q-8-3-13-10M1465 3665q-4-7-12-12M1700 3728q-2 9 0 13M1623 3904q-5 1-10-6M1529 3865q4-10 6-14M1941 3900q-2 7-6 8M1193 4032q-5-4-7-11M1581 4015q8 4 8 11M1948 3785q3 7 7 15M1380 4093q6 8 12 14M1642 3640q-10-1-16-3M1487 4008q-2-7-1-16M1594 3953q-7-3-12 0M1562 4083q-6 7-3 14M1918 3830q-7-4-8-11M1775 3995q9-2 15-9M1747 4095q-3 6 1 10M1680 3553q-11-3-16-10M1589 3674q3-6 3-12M1424 3877q-6 0-11 1M1648 3949q-1-7-8-8M1747 3727q-6 1-14-3M2043 4073q9-8 11-13M1527 3918q3 9 4 15M1850 3849q0-9 9-15M1172 3919q1 6-1 13M1740 3819q-9 3-9 9M1478 3990q6-9 2-15M1658 3932q3-11-3-19M1632 3675q-7 4-7 9M1551 3725q1 11-3 12M1280 3677q2 10 7 16M1771 4000q11 0 18 2M1921 3814q-6 0-13 7M1415 3760q6 8 15 9M1785 3983q4 3 6 7M1248 3773q11-4 16 4M1467 3705q-1-8 7-14M2065 3854q-5-10-13-15M1960 3917q-8 6-17 9M1158 4144q-8-3-11-9M2100 3530q5-6 11-12M1760 3939q-3 4-2 9M1622 3951q-6-9-14-15M1873 3705q-4-4-6-7M1409 3701q5-6 14-5M1295 4010q6-8 10-8M1832 3814q-6 0-9 5M1647 3698q2-10 4-18M1345 3943q-9 4-17 4M1581 3870q6 1 14 0M1574 3935q-9 0-12 3M1801 3619q-9-1-11-10M1450 3724q-4-3-11 0M1656 3612q7 4 4 13M1186 3932q8 2 15 1M1937 3961q3-8 7-9M1414 4088q-2-5-9-11M1897 4060q6-8 14-4M1283 3822q-8-3-11 0M1711 3879q-6 3-16 7M1397 4126q4-5 6-14M1973 4126q0 6 7 9M1528 4057q0-8 6-9M1420 3965q-8-3-17 0M1397 4128q-2 5-3 14M1853 3728q3-6 5-15M1220 4131q-4 4-9 2M1617 3800q6-6 11-10M1462 3742q5 1 9 0M1590 3659q11 5 17 4M1686 3774q-8-7-6-17M1234 4039q-6 8-6 15M1427 3786q10-4 17-3M1814 3990q-8-1-11-8M1492 3695q-7-7-15-12M1931 3630q-10 2-14 1M1285 3716q3-9 7-10M1155 4074q6-9 13-10M1489 3605q3 8 10 13M1974 3828q-8 0-11 3M1166 3935q-3-6-10-6M1652 3551q-10-6-16-13M1813 3910q0-11 7-18M1221 3762q-8-6-13-9M1736 3943q-3-4-9-9M2032 3729q1 10 9 12M2031 3584q-1 7-5 10M1307 4048q9-4 16-11M1925 4068q-3 5-8 7M1997 3818q-3 9 0 17M1923 3618q2-7 7-12M1237 3864q5 2 7 7M1961 3753q-2 10-6 11M2072 3633q9-1 10-6M1953 4008q10-1 20-4M1750 3727q8-1 13 1M1379 3653q1-7-4-11M1651 4010q8 1 14 0M1575 3835q7-2 7-8M1940 3925q0 11 3 15M1232 3660q0 9-7 14M1496 4077q5-4 3-8M1755 3941q-8 5-13 0M1280 4103q0 5 0 13M1356 4089q-3 8-10 13M1562 3869q-4-5-12-3M1527 4097q10 3 19 5M1690 4076q-11 1-14-4M1953 3557q-5 2-11-1M1302 3711q6 5 10 8M1868 3926q7-5 7-11M1882 3885q9 6 11 13M1683 3732q-8-3-8-13M1469 3598q-5 7-11 14M1358 4138q9-3 17-5M1519 4011q-1-11-4-15M1478 3609q8-9 6-17M1889 3796q-4-11-3-16M1530 3819q7 1 8 7M2026 3911q2-5-2-11M1927 3905q8-4 10-8M1900 3774q0-10 0-16M1694 3557q5-1 13-3M1284 4047q-6-4-6-11M2042 3836q4 5 6 12M2065 3724q5-4 2-13M1786 3639q11 2 14 7M2088 3761q0 5-3 7M1159 4015q12 0 13 5M1899 3621q10 5 12 12M1531 3796q2 5 11 3M2072 3647q8-8 14-8M1554 3713q-3 7-8 7M1787 3841q1 5-6 11M1583 3733q7-8 4-15M1584 3743q-5-2-10-5M1426 3630q-2 10-11 10M1871 4074q5 10 0 14M1507 3715q4-5 12-9M1389 3970q10 1 11 5M1203 3856q8-3 18-5M1515 3971q-9-8-15-5M1628 4074q4 9 0 14M1581 3702q8-6 13-7M1630 4022q0-5 9-10M1859 3627q1-5-3-13M1351 4051q-5 10-15 11M1380 4027q-5-6-6-12M1168 3931q-6 4-11 3M2085 3796q-6 2-6 6M1983 3928q9 3 15 10M1736 4144q3-9 9-16M1520 4130q5 7 9 11M1591 3962q2 10 1 19M1455 4107q-6 4-11 4M1342 3780q8 4 11 10M1723 4118q2-11 6-13M1851 3992q-7-1-9-9M1256 3717q8-2 14 6M2034 3705q-3 7-7 11M1633 3527q-1-5 3-7M1466 4060q-10 6-16 12M1848 4113q2-7 2-11M2043 3787q5 2 10 4M1485 3578q-3 11-4 15M2018 3854q-7 4-8 11M1156 3791q1 6-4 15M1859 3976q9 3 16-2M1248 3717q5 6 9 8M1595 3924q5 7 7 14M2100 3714q0 10 4 16M1986 3736q-7-2-14 2M1582 3756q-5 0-8-9M2095 3956q5 1 10 3M1481 3725q5 6 14 9M1940 3582q-6 4-13 1M1908 3549q-2-8 3-14M1502 4014q-9 3-14-3M1338 3677q6 5 8 13M1427 4090q0-7-7-14M1659 3667q8 1 10 7M1963 3867q-2-6 0-14M1166 3837q-5 9 1 15M1530 3744q5 7 6 12M1348 4061q-3-4-7-9M1528 4136q-11-4-14-7M1357 3894q2 6 7 9M1202 3855q-9-5-10-10M1444 3855q9 3 14-5M1853 3847q10 0 18-3M1199 3776q4-11 10-15M1550 3655q3 5 11 11M1246 4021q3-9 12-14M1283 3730q9 2 13 1M1507 3576q-5 5-5 14M1901 4137q2-5 0-11M1249 3702q0 8 4 12M1503 3874q8 5 16 6M1348 3667q7 3 8 9M1798 4097q11 2 19 2M1597 3958q-5 6-9 11M1189 3941q-8-8-16-15M1533 3999q-6 9-15 11M1496 3642q4 6 13 12M2081 4108q-1 7-2 13M1966 3781q-3-7-9-15M1876 3901q11 4 14-1M2086 3692q-1-7-8-11M1940 3667q-8-9-11-13M1262 3816q-6 1-9-5M1284 3820q-5 2-12 8M1983 3608q6 4 11 10M1373 3614q-1-9-8-12M1629 3840q-2-4-11-2M1391 3906q-4 7-8 11M1678 3618q2-9 10-8M1992 3868q3 8 5 12M1389 4087q1-8 5-17M1851 4137q-4 8 3 15M2100 3902q-6 3-6 9M1596 3538q-4 5-5 15M2081 3790q4 7-1 12M1666 4023q6-6 3-14M1840 3948q6 6 11 3M1753 3835q-8-7-14-8M1679 4011q-7-8-17-7M2019 3964q11-5 16-10M1539 3658q5-3 9-9M1737 3885q-4-4-7-9M1821 3679q-6 0-9 8M1428 3893q-9 2-15-2M1204 3720q5-2 5-7M1410 3696q7-5 12-3M1565 3727q7-1 9-7M1928 3657q-6 0-12 0M2071 3961q0-9 5-10M1316 3885q8 0 11-5" fill="none" stroke="#7560b8" stroke-width="6.5" stroke-linecap="round" opacity="0.8"/>
<path transform="scale(.1)" d="M1761 3529q-1 6-6 11M2002 3568q-4 2-6 8M1771 3858q1 8-1 11M1920 3955q-3 4-8 3M1959 3895q3-8 7-16M1512 3862q4-7 11-8M1823 3542q1 6 5 7M1246 3689q-4-5-8-7M1405 4106q-5-6-12-7M1306 3753q8-1 16 0M1955 4004q1 4 4 8M1351 4110q4-4 10-6M2023 3803q-1 6-2 11M1708 4081q-5 3-9-1M1255 3910q2-7-3-10M2101 3848q9-2 10-9M1801 3853q-1 8 4 11M1583 4117q4-4 7-7M2022 4064q-2 8-5 11M1878 3854q1-7-4-9M1169 4101q7-7 8-10M1988 4112q6 4 12-1M1881 3594q-8 1-13 7M1554 3647q-9-2-13 1M2100 3924q-7 3-7 8M1473 3885q1 6 8 7M1369 4086q3-4 3-11M2043 3874q-9 2-13-1M1243 3786q-6 3-14 2M2090 3575q-5 4-10 2M1332 3797q-5 3-8 11M1573 4058q-4-1-3-10M2075 4099q3-4 6-8M1533 3550q-8 7-9 15M1585 3781q10-3 18-4M1298 3701q8-2 15-2M1205 3883q-10 0-15 7M1718 3940q0 5-4 8M1718 3905q-7 4-15 8M1345 3966q0 7-2 11M1452 3989q6 3 4 12M1403 4104q7-7 9-11M1946 3958q-8-7-9-10M1930 3703q-5-9-9-9M1252 3863q-1 8-4 11M1756 3680q-10 1-12-2M1555 3688q9 0 14 2M1858 3862q-4 2-3 10M2013 3858q4-7 2-11M1444 4082q3-9 7-10M1895 4073q-7 5-7 13M1976 4131q4-9-3-13M1467 4102q3-9 8-11M1902 3581q7-7 7-15M1590 3706q2-5-2-8M1463 4060q6-1 11 0M2087 3852q5-2 7 2M2069 3681q5 4 7 9M1729 3837q-6 5-7 13M1152 4099q-8-2-13-8M1784 3722q-4 9-8 12M1445 3772q-5 3-4 9M2048 3942q7-5 9-11M1150 3695q-7 3-13 3M1572 3648q-10 2-13-1M1231 3839q-4-5-3-12M1793 3655q1 4 7 7M1961 3559q-7 4-8 11M1622 3667q-2-4-1-11M1252 3782q5 9 6 13M1388 4050q-9 2-18 1M1719 4114q6-5 13-6M1943 3860q7-5 11-9M1386 3917q1-7 3-12M1224 3694q-1 6-2 10M1371 3952q-1-4-5-10M1547 3644q-9 5-16 7M1968 3998q-3 3-6 10M1965 4117q-8 4-14 7M1361 3652q-4 2-9 7M1536 3617q-5 1-9 1M1526 3870q8 1 12-3M1198 3753q1 6-1 11M1868 4040q0 5 6 6M2105 3735q-5-7-7-15M2057 3639q5 1 10-5M1689 3651q-3-9-9-11M1864 3585q4-9 2-12M1448 3942q6-2 10 0M1810 3910q7 5 7 12M1266 4136q1-6 1-12M1633 3729q5-8 1-15M1757 4038q-2-7 2-15M1408 4025q-7-2-15-2M1406 4052q2-4 7-4M1594 3899q-3 3-8 2M1353 4018q-5 8-10 10M1160 4113q8 4 14 8M1810 3922q-9 1-11 5M1811 3707q-6-4-11-7M1862 3722q-2-6-5-8M1662 3995q2 5 6 12M2083 3845q-1 5 2 9M1660 3687q8-1 11 0M1979 3824q5-6 9-10M2049 3815q3-6-2-11M1688 3705q5 0 10 4M1905 3656q-7-1-15-1M2095 3706q-6-6-7-14M1348 3647q-3-4-7-5M1153 3798q-5-3-12-2M1821 3800q-4-9-1-16M1781 4104q-7 3-15 4M1939 3558q3 5 2 12M1426 3592q-3-8 2-12M1622 3564q7 2 11 1M1237 4122q4-7 13-5M1792 3684q9 2 16 3M2025 3628q-7-4-11-6M1482 3724q-5-8-11-13M1425 4111q3-7 4-12M1459 4127q-6 4-11-1M1668 3775q2 6 0 13M1876 3642q-10-3-17-4M1266 4129q-4-4-11-2M1677 3572q10 0 14-1M1945 3828q-2-7-8-13M2086 3667q-6-2-7-8M1990 4060q-2 9-1 18M1635 4032q-1 6-5 14M1618 3607q-6-2-12-4M1585 3717q3 8 4 13M1891 3541q0-9 4-12M1784 4033q7-1 8-7M1714 4064q5-5 9-9M1840 3773q-3-4-9-11M1473 3951q-6-8-3-16M1513 3713q-2-9 1-11M1215 3913q9-5 15-4M1244 3914q5-5 13-7M1194 4017q-2 6 3 11M1690 4015q2 4-1 10M1380 4091q4 6 9 7M1159 4022q7-5 7-11M1480 3885q-4-5-13-7M1340 3757q-6 1-12 0M2098 3700q8-1 13-6M1805 3984q8 2 16 5M1423 4019q-5-4-8-10M1797 3969q-5-8-7-16M1767 3709q-7 3-11 2M1432 3986q2 4 5 13M1657 4091q3-5 9-6M1920 3986q-3 4-7 3M2073 4057q-2-10 6-14M1499 4014q8 1 15 0M1792 3883q4-9 2-13M1174 4073q-9-4-13-2M1937 4089q-2 6 3 13M1441 3825q8 6 14 3M1790 3983q6-2 11-1M1546 3576q-7 0-8-3M1504 3794q9-3 10-10M1670 4132q-4 5-3 9M1960 3801q-4-7-5-11M1901 3667q5 6 13 2M1348 3650q4-5 2-13M1153 4056q3 4 7 5M1781 3529q9 1 13-2M1858 3846q0-7 4-12M1254 3832q4-2 12 2M1648 3803q4-1 10-3M1805 3823q4-3 3-9M1213 3687q-5-6-14-9M1657 3800q-4-3-7-11M1772 4000q-1-5-3-10M1474 3800q-4 2-10 7M1507 3610q4-2 8 0M1242 3981q3-7 7-13M1465 3590q-5 7-13 8M1839 4126q-5-4-8-7M1777 3655q7 6 15 8M1698 4024q6-9 13-9M1764 3530q9-4 11-8M1821 3709q-2 4-9 3M1533 3603q-3-3-3-8M1551 3729q-6 6-13 7M1300 3904q-3-5-3-11M1572 3686q0-5-1-10M1798 3821q-2-4-7-9M1157 3704q1 5 5 8M1157 3986q3 6 2 12M1946 4023q9 4 11 2M2030 4059q-7-4-10-9M1460 4020q-7-6-6-10M1956 3667q-6-4-11-5M1474 3724q4 6 10 6M2015 3734q-1-9 2-13M1290 3638q-7-5-9-9M1888 3826q0-9-1-18M1689 3915q-7-7-9-11M1215 3793q-2 6 3 9M1446 3799q9 3 14-3M1967 3902q-7 0-15-2M2006 3798q3-8 2-14M1249 4082q-5 7-7 11M1387 3790q-7 3-8 8M1420 3772q-4 7-11 8M1798 3693q-1-8 6-13M1468 3882q4 5 0 11M1524 3890q6-2 12-8M1927 3937q4-8 10-11M1767 3781q-4 5-3 10M2055 3821q1 5 9 7M1247 4001q5-8 1-12M1882 3596q-4 4-11 2M1923 3618q-6 3-11 2M1574 3693q0-7 0-12M1922 3810q3-6 12-4M1591 3691q-6 5-12 1M1915 3601q0 8-6 12M1248 4048q4-5 8-6M2015 3606q-9 4-12 9M1201 3831q1 10 2 14M2039 4044q-5-7-10-7M1942 3954q6 7 8 9M1226 3675q4-7 10-9M1256 3695q-1 4-2 12M1587 3583q7-4 4-10M1381 3604q-7 3-10 9M1784 3567q5-1 11-1M2094 3864q-6 5-14 7M1903 3731q-1-8 4-14M1671 4028q4 8 8 14M1753 4027q8 4 13 5M1190 4104q-10-1-15-2M1869 3634q-6 7-11 6M1269 3746q7-6 12-3M2080 3827q-10 0-18 0M1844 3563q-8-6-11-9M1226 3931q-3 7-4 15M1981 3736q6 0 8 8M1222 3917q-6 7-14 10M1286 3898q1-4-6-8M1500 3755q-7-3-13-10M1505 3996q-7-3-14-5M1853 3829q-6 5-7 10M1576 4144q-2 10-3 14M1964 3799q6-4 4-11M1957 3715q-3 4-8 10M1963 3964q7-4 13-1M1266 3640q6 7 12 4M1502 4022q-8-3-11 1M2105 3968q-9-1-11-5M2079 3920q-8 3-14 8M1895 3918q4 9 9 16M1458 3962q-6 8-14 7M1389 3915q-5-2-11 0M1630 3620q5-2 12-1M1728 4046q-9-4-11-1M1763 3878q-5-7-11-12M1626 3910q-3 10-4 18M1804 3701q4 2 10 4M1345 3897q-3 8-11 12M2081 3596q-5 6-7 12M1405 3670q5 3 12 5M1387 4061q3 5 5 10M1879 3828q-7-1-11 1M2053 3833q5-1 9-3M1623 4072q-4-6-8-13M1562 4072q-1-9-4-14M1695 3636q-4-2-12-4M1417 4139q-2-4 2-8M1909 3728q8-3 10-9M1628 3542q4 5 8 9M1729 3839q-4 7 0 15M1856 3702q-5 8-9 14M1436 4029q-6 6-12 3M1911 3972q-2-4-6-12M1898 4004q-8-4-11-7M1751 3905q3-4 6-6M2056 3583q6 1 11-5M1542 4004q9-5 12-4M1282 3644q-4 7-7 12M1315 4090q-4 5-11 7M1764 3952q-4-3-11-3M1365 4129q-2 6 2 12M1453 3734q8-4 10-7M1796 3753q9-1 13 6M1427 3695q-1-6-3-11M1608 3641q-10-2-13-5M1738 3884q0 8 0 15M1200 3775q-1-5 1-8M1676 4101q-8 6-14 3M1340 4123q-4 7-8 7M1698 3852q-2-10 2-12M1993 3624q9-5 14-10M2044 4122q9-4 7-11M1252 4135q-2 10-4 16M2046 4052q-5 1-7 5M1588 3676q3 8 1 14M1873 3624q6-8 12-8M1233 3937q2 5 6 8M1399 3662q0-10-4-17M1161 3927q-2-4-7-5M1537 3831q7-5 8-9M2025 3700q-4-4-8-2M1864 3896q-7 4-12 8M1784 3651q0 9-3 11M1577 3958q7 4 12-1M1633 3876q4 5 6 9M1346 3882q6 4 7 10M1640 3802q7 3 9 10M1528 4030q0-8-5-9M1211 4142q4-2 7 1M1540 4000q1-10 4-15M2098 3755q7-7 10-14M1782 3854q-4-5-10-6M1655 3974q1 4 6 4M1793 3858q-9-2-14 1M1413 4106q-1-5 3-9M1882 4072q5 1 7-3M1721 3958q8 3 13 3M1357 4060q7 3 15 1M1849 3715q-7-5-12-5" fill="none" stroke="#8a50b0" stroke-width="7" stroke-linecap="round" opacity="0.75"/>
<path d="M154.2,381.6 Q157.8,379.2 161.4,377.5 Q158.500,380.5 159.6,382.8 Q162,384.500 163.1,386.9 Q164,390 165.5,392.3 Q167,395.5 169.1,397.6 Q171,399.6 173.2,399.6 Q176.5,399.5 178,397.3 Q180.5,395 180.1,391.7 Q179.5,388 176.8,385.2 Q175.5,383.5 174.2,382.8 L168,382 Z" fill="#f9f7fb" stroke="none"/>
<path d="M154.2,381.6 Q157.8,379.2 161.4,377.5 Q158.500,380.5 159.6,382.8 Q162,384.500 163.1,386.9 Q164,390 165.5,392.3 Q167,395.5 169.1,397.6 Q171,399.6 173.2,399.6 Q176.5,399.5 178,397.3 Q180.5,395 180.1,391.7 Q179.5,388 176.8,385.2 Q175.5,383.5 174.2,382.8" fill="none" stroke="#c8a0d4" stroke-width="2.8" opacity="0.6"/>
<path d="M154.2,381.6 Q157.8,379.2 161.4,377.5 Q158.500,380.5 159.6,382.8 Q162,384.500 163.1,386.9 Q164,390 165.5,392.3 Q167,395.5 169.1,397.6 Q171,399.6 173.2,399.6 Q176.5,399.5 178,397.3 Q180.5,395 180.1,391.7 Q179.5,388 176.8,385.2 Q175.5,383.5 174.2,382.8" fill="none" stroke="#74389c" stroke-width="1.3" stroke-linejoin="round"/>
<path d="M153.500,381.8 q2,-2 4.500,-1" fill="none" stroke="#6a3494" stroke-width="2.2"/>
<path d="M186.3,409.1 Q189.5,408.500 192.2,405.9 M196.3,408.3 Q194.5,411 194,414" fill="none" stroke="#7a44a8" stroke-width="1.2"/>
<path d="M161.500,399 q4,2.500 8,2.500" fill="none" stroke="#9a68bc" stroke-width="0.9"/>
</g>
<rect x="65.5" y="285.5" width="49.00" height="33.20" fill="none" stroke="#666" stroke-width="0.6"/>
<rect x="162.5" y="285.5" width="48.00" height="31.50" fill="none" stroke="#666" stroke-width="0.6"/>
<rect x="65.5" y="351.3" width="49.00" height="31.70" fill="none" stroke="#666" stroke-width="0.6"/>
<rect x="162.5" y="351.3" width="48.00" height="31.20" fill="none" stroke="#666" stroke-width="0.6"/>
<rect x="18" y="285.5" width="96.5" height="63.3" fill="none" stroke="#4a4a4a" stroke-width="0.7"/>
<rect x="115" y="285.5" width="95.5" height="63.3" fill="none" stroke="#4a4a4a" stroke-width="0.7"/>
<rect x="18" y="351.3" width="96.5" height="63.3" fill="none" stroke="#4a4a4a" stroke-width="0.7"/>
<rect x="115" y="351.3" width="95.5" height="63.3" fill="none" stroke="#4a4a4a" stroke-width="0.7"/>
<line x1="100.50" y1="343.80" x2="105.50" y2="343.80" stroke="#b09070" stroke-width="0.6" />
<line x1="196.50" y1="343.80" x2="201.50" y2="343.80" stroke="#b09070" stroke-width="0.6" />
<line x1="100.50" y1="409.60" x2="105.50" y2="409.60" stroke="#b09070" stroke-width="0.6" />
<line x1="196.50" y1="409.60" x2="201.50" y2="409.60" stroke="#b09070" stroke-width="0.6" />
</g>
</svg>
</body></html>
